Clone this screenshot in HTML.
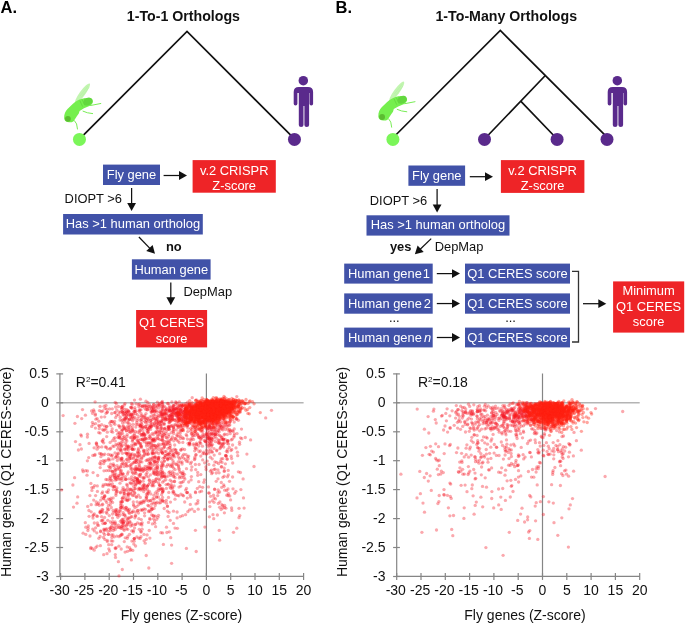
<!DOCTYPE html>
<html><head><meta charset="utf-8"><style>
html,body{margin:0;padding:0;background:#fff;}
svg{display:block;font-family:"Liberation Sans",sans-serif;will-change:transform;}
.d circle{r:1.65px;}
</style></head><body>
<svg width="685" height="624" viewBox="0 0 685 624">
<text x="0.5" y="12.8" font-size="16.5" fill="#000" text-anchor="start" font-weight="bold" >A.</text><text x="335.5" y="12.8" font-size="16.5" fill="#000" text-anchor="start" font-weight="bold" >B.</text><text x="183.4" y="20.8" font-size="14.2" fill="#111" text-anchor="middle" font-weight="bold" >1-To-1 Orthologs</text><text x="506.3" y="20.8" font-size="14.2" fill="#111" text-anchor="middle" font-weight="bold" >1-To-Many Orthologs</text><g stroke="#111" stroke-width="1.7" fill="none" stroke-linejoin="miter"><path d="M79.45 139.05 L187 31.5 L294.45 138.95"/><path d="M392.8 138 L500.3 30.5 L607 137.2 M545.3 75.5 L484.5 139 M520.7 101.2 L557.1 139"/></g><circle cx="294.45" cy="139.4" r="6.5" fill="#5a2a8c"/><circle cx="484.5" cy="139.4" r="6.5" fill="#5a2a8c"/><circle cx="557.1" cy="139.4" r="6.5" fill="#5a2a8c"/><circle cx="607" cy="139.4" r="6.5" fill="#5a2a8c"/><circle cx="79.45" cy="139.4" r="6.5" fill="#7bf659"/><circle cx="392.9" cy="139.4" r="6.5" fill="#7bf659"/><g transform="translate(0,0)" fill="#5a2a8c"><circle cx="303.3" cy="80.7" r="4.75"/><path d="M293.7 92 Q293.7 86.9 298.8 86.9 L308 86.9 Q313.1 86.9 313.1 92 L313.1 103.7 Q313.1 105.5 311.3 105.5 Q309.5 105.5 309.5 103.7 L309.5 93 L309.1 93 L309.1 125 Q309.1 126.9 306.8 126.9 Q304.4 126.9 304.4 125 L304.4 106 L303.5 106 L303.5 125 Q303.5 126.9 301.1 126.9 Q298.8 126.9 298.8 125 L298.8 93 L297.4 93 L297.4 103.7 Q297.4 105.5 295.6 105.5 Q293.7 105.5 293.7 103.7 Z"/></g><g transform="translate(314,0)" fill="#5a2a8c"><circle cx="303.3" cy="80.7" r="4.75"/><path d="M293.7 92 Q293.7 86.9 298.8 86.9 L308 86.9 Q313.1 86.9 313.1 92 L313.1 103.7 Q313.1 105.5 311.3 105.5 Q309.5 105.5 309.5 103.7 L309.5 93 L309.1 93 L309.1 125 Q309.1 126.9 306.8 126.9 Q304.4 126.9 304.4 125 L304.4 106 L303.5 106 L303.5 125 Q303.5 126.9 301.1 126.9 Q298.8 126.9 298.8 125 L298.8 93 L297.4 93 L297.4 103.7 Q297.4 105.5 295.6 105.5 Q293.7 105.5 293.7 103.7 Z"/></g><g transform="translate(0,0)"><ellipse cx="82.5" cy="93.4" rx="12.2" ry="2.8" transform="rotate(-54 82.5 93.4)" fill="#c2f5b0"/><path d="M80 96 L88 86 M81 97.5 L89 87.5" stroke="#b0efa0" stroke-width="0.5"/><path d="M64.1 118.6 C64 114 65.5 111 67.5 109.1 L72.7 104 C75 102 77.5 100.5 79.6 99.6 C82 98.6 84 98 86.5 97.9 C89.5 97.8 92 98.8 92.8 100.9 C93.3 102.6 92 104.6 90 105.7 L84 108.3 L79.6 110.9 L78.8 113.5 L77 116 L73.6 121.2 C72 122.3 70.5 122.5 69.2 122.3 C66.5 122.2 64.3 121 64.1 118.6 Z" fill="#75ef4e"/><ellipse cx="88" cy="101.6" rx="4.9" ry="3.7" transform="rotate(-28 88 101.6)" fill="#63d83f"/><path d="M79.8 100.6 L82.6 106.6 M82.2 99.4 L84.9 105.4 M84.4 98.6 L87 104.2" stroke="#63d43f" stroke-width="0.8" fill="none"/><circle cx="67.9" cy="118.8" r="2.9" fill="#5bbd31"/><path d="M90.5 105.5 L100.8 103.5 M83 111.2 Q87 113.2 92.6 113.6 M74.5 120.6 Q77.3 123 77.5 129" stroke="#78ec55" stroke-width="1" fill="none" stroke-linecap="round"/></g><g transform="translate(314.2,-1.8)"><ellipse cx="82.5" cy="93.4" rx="12.2" ry="2.8" transform="rotate(-54 82.5 93.4)" fill="#c2f5b0"/><path d="M80 96 L88 86 M81 97.5 L89 87.5" stroke="#b0efa0" stroke-width="0.5"/><path d="M64.1 118.6 C64 114 65.5 111 67.5 109.1 L72.7 104 C75 102 77.5 100.5 79.6 99.6 C82 98.6 84 98 86.5 97.9 C89.5 97.8 92 98.8 92.8 100.9 C93.3 102.6 92 104.6 90 105.7 L84 108.3 L79.6 110.9 L78.8 113.5 L77 116 L73.6 121.2 C72 122.3 70.5 122.5 69.2 122.3 C66.5 122.2 64.3 121 64.1 118.6 Z" fill="#75ef4e"/><ellipse cx="88" cy="101.6" rx="4.9" ry="3.7" transform="rotate(-28 88 101.6)" fill="#63d83f"/><path d="M79.8 100.6 L82.6 106.6 M82.2 99.4 L84.9 105.4 M84.4 98.6 L87 104.2" stroke="#63d43f" stroke-width="0.8" fill="none"/><circle cx="67.9" cy="118.8" r="2.9" fill="#5bbd31"/><path d="M90.5 105.5 L100.8 103.5 M83 111.2 Q87 113.2 92.6 113.6 M74.5 120.6 Q77.3 123 77.5 129" stroke="#78ec55" stroke-width="1" fill="none" stroke-linecap="round"/></g><rect x="103" y="164.6" width="57.0" height="20.4" fill="#4152a8"/><text x="131.5" y="179.3" font-size="12.9" fill="#fff" text-anchor="middle" font-weight="normal" >Fly gene</text><line x1="163.6" y1="175.5" x2="180.00" y2="175.50" stroke="#111" stroke-width="1.25"/><path d="M187.00 175.50 L179.00 179.90 L179.00 171.10 Z" fill="#111"/><rect x="192.6" y="160.1" width="83.2" height="32.6" fill="#ee2427"/><text x="234.2" y="174.7" font-size="12.9" fill="#fff" text-anchor="middle" font-weight="normal" >v.2 CRISPR</text><text x="234.2" y="189.7" font-size="12.9" fill="#fff" text-anchor="middle" font-weight="normal" >Z-score</text><text x="64.6" y="203.2" font-size="12.9" fill="#111" text-anchor="start" font-weight="normal" >DIOPT &gt;6</text><line x1="131.6" y1="188" x2="131.60" y2="204.00" stroke="#111" stroke-width="1.25"/><path d="M131.60 211.00 L127.20 203.00 L136.00 203.00 Z" fill="#111"/><rect x="63.1" y="214" width="139.7" height="20.5" fill="#4152a8"/><text x="133" y="228.4" font-size="12.9" fill="#fff" text-anchor="middle" font-weight="normal" >Has &gt;1 human ortholog</text><line x1="138.9" y1="237" x2="150.14" y2="248.66" stroke="#111" stroke-width="1.25"/><path d="M155.00 253.70 L146.28 250.99 L152.62 244.89 Z" fill="#111"/><text x="165.9" y="250.8" font-size="12.9" fill="#111" text-anchor="start" font-weight="bold" >no</text><rect x="131.9" y="259.3" width="78.7" height="20.3" fill="#4152a8"/><text x="171.3" y="273.9" font-size="12.9" fill="#fff" text-anchor="middle" font-weight="normal" >Human gene</text><line x1="170.8" y1="282.4" x2="170.80" y2="298.20" stroke="#111" stroke-width="1.25"/><path d="M170.80 305.20 L166.40 297.20 L175.20 297.20 Z" fill="#111"/><text x="183.4" y="295.6" font-size="12.9" fill="#111" text-anchor="start" font-weight="normal" >DepMap</text><rect x="136.1" y="310" width="71.0" height="37.4" fill="#ee2427"/><text x="171.6" y="327.1" font-size="12.9" fill="#fff" text-anchor="middle" font-weight="normal" >Q1 CERES</text><text x="171.6" y="342.5" font-size="12.9" fill="#fff" text-anchor="middle" font-weight="normal" >score</text><rect x="408.4" y="165.5" width="56.7" height="20.3" fill="#4152a8"/><text x="436.8" y="180.2" font-size="12.9" fill="#fff" text-anchor="middle" font-weight="normal" >Fly gene</text><line x1="469.8" y1="176.7" x2="486.00" y2="176.70" stroke="#111" stroke-width="1.25"/><path d="M493.00 176.70 L485.00 181.10 L485.00 172.30 Z" fill="#111"/><rect x="500.9" y="160.1" width="83.5" height="32.8" fill="#ee2427"/><text x="542.6" y="174.8" font-size="12.9" fill="#fff" text-anchor="middle" font-weight="normal" >v.2 CRISPR</text><text x="542.6" y="189.8" font-size="12.9" fill="#fff" text-anchor="middle" font-weight="normal" >Z-score</text><text x="369.8" y="205.3" font-size="12.9" fill="#111" text-anchor="start" font-weight="normal" >DIOPT &gt;6</text><line x1="437.1" y1="188.9" x2="437.10" y2="205.40" stroke="#111" stroke-width="1.25"/><path d="M437.10 212.40 L432.70 204.40 L441.50 204.40 Z" fill="#111"/><rect x="366.5" y="215.3" width="143.0" height="20.3" fill="#4152a8"/><text x="438" y="228.9" font-size="12.9" fill="#fff" text-anchor="middle" font-weight="normal" >Has &gt;1 human ortholog</text><text x="389.9" y="250.9" font-size="12.9" fill="#111" text-anchor="start" font-weight="bold" >yes</text><line x1="431.2" y1="238.6" x2="419.94" y2="249.44" stroke="#111" stroke-width="1.25"/><path d="M414.90 254.30 L417.61 245.58 L423.71 251.92 Z" fill="#111"/><text x="434.7" y="250.9" font-size="12.9" fill="#111" text-anchor="start" font-weight="normal" >DepMap</text><rect x="344.2" y="263.6" width="88.5" height="20.0" fill="#4152a8"/><text x="348.0" y="278.20000000000005" font-size="12.9" fill="#fff" text-anchor="start" font-weight="normal" >Human gene<tspan dx="1.0">1</tspan></text><line x1="436.8" y1="273.6" x2="453.00" y2="273.60" stroke="#111" stroke-width="1.25"/><path d="M460.00 273.60 L452.00 278.00 L452.00 269.20 Z" fill="#111"/><rect x="465" y="263.6" width="105.0" height="20.0" fill="#4152a8"/><text x="517.5" y="278.20000000000005" font-size="12.9" fill="#fff" text-anchor="middle" font-weight="normal" >Q1 CERES score</text><rect x="344.2" y="293.4" width="88.5" height="20.3" fill="#4152a8"/><text x="348.0" y="308.15" font-size="12.9" fill="#fff" text-anchor="start" font-weight="normal" >Human gene<tspan dx="2.0">2</tspan></text><line x1="436.8" y1="303.54999999999995" x2="453.00" y2="303.55" stroke="#111" stroke-width="1.25"/><path d="M460.00 303.55 L452.00 307.95 L452.00 299.15 Z" fill="#111"/><rect x="465" y="293.4" width="105.0" height="20.3" fill="#4152a8"/><text x="517.5" y="308.15" font-size="12.9" fill="#fff" text-anchor="middle" font-weight="normal" >Q1 CERES score</text><rect x="344.2" y="327.6" width="88.5" height="19.8" fill="#4152a8"/><text x="348.0" y="342.1" font-size="12.9" fill="#fff" text-anchor="start" font-weight="normal" >Human gene<tspan dx="2.2" font-style="italic">n</tspan></text><line x1="436.8" y1="337.5" x2="453.00" y2="337.50" stroke="#111" stroke-width="1.25"/><path d="M460.00 337.50 L452.00 341.90 L452.00 333.10 Z" fill="#111"/><rect x="465" y="327.6" width="105.0" height="19.8" fill="#4152a8"/><text x="517.5" y="342.1" font-size="12.9" fill="#fff" text-anchor="middle" font-weight="normal" >Q1 CERES score</text><text x="394.3" y="321.5" font-size="12.9" fill="#111" text-anchor="middle" font-weight="normal" >...</text><text x="510.5" y="321.5" font-size="12.9" fill="#111" text-anchor="middle" font-weight="normal" >...</text><path d="M572 271.4 L578.5 271.4 L578.5 342 L572 342" stroke="#333" stroke-width="1.3" fill="none"/><line x1="583" y1="303.7" x2="599.30" y2="303.70" stroke="#111" stroke-width="1.25"/><path d="M606.30 303.70 L598.30 308.10 L598.30 299.30 Z" fill="#111"/><rect x="613.1" y="281.4" width="71.1" height="51.2" fill="#ee2427"/><text x="648.6" y="295.3" font-size="12.9" fill="#fff" text-anchor="middle" font-weight="normal" >Minimum</text><text x="648.6" y="310.7" font-size="12.9" fill="#fff" text-anchor="middle" font-weight="normal" >Q1 CERES</text><text x="648.6" y="325.6" font-size="12.9" fill="#fff" text-anchor="middle" font-weight="normal" >score</text><path d="M59.9 402.8 L303.6 402.8" stroke="#b4b4b4" stroke-width="1.6" fill="none"/><g stroke="#858585" stroke-width="1.2" fill="none"><path d="M59.9 373.5 L59.9 576.3 L303.6 576.3"/><path d="M206.4 373.5 L206.4 576.3"/><path d="M56.3 373.9 L63.1 373.9"/><path d="M56.3 402.8 L63.1 402.8"/><path d="M56.3 431.8 L63.1 431.8"/><path d="M56.3 460.7 L63.1 460.7"/><path d="M56.3 489.6 L63.1 489.6"/><path d="M56.3 518.6 L63.1 518.6"/><path d="M56.3 547.5 L63.1 547.5"/><path d="M56.3 576.5 L63.1 576.5"/><path d="M60.6 573.0999999999999 L60.6 579.9"/><path d="M84.9 573.0999999999999 L84.9 579.9"/><path d="M109.2 573.0999999999999 L109.2 579.9"/><path d="M133.5 573.0999999999999 L133.5 579.9"/><path d="M157.8 573.0999999999999 L157.8 579.9"/><path d="M182.1 573.0999999999999 L182.1 579.9"/><path d="M206.4 573.0999999999999 L206.4 579.9"/><path d="M230.7 573.0999999999999 L230.7 579.9"/><path d="M255.0 573.0999999999999 L255.0 579.9"/><path d="M279.3 573.0999999999999 L279.3 579.9"/><path d="M303.6 573.0999999999999 L303.6 579.9"/></g><text x="48.7" y="378.0" font-size="14" fill="#111" text-anchor="end" font-weight="normal" >0.5</text><text x="48.7" y="406.9" font-size="14" fill="#111" text-anchor="end" font-weight="normal" >0</text><text x="48.7" y="435.9" font-size="14" fill="#111" text-anchor="end" font-weight="normal" >-0.5</text><text x="48.7" y="464.8" font-size="14" fill="#111" text-anchor="end" font-weight="normal" >-1</text><text x="48.7" y="493.8" font-size="14" fill="#111" text-anchor="end" font-weight="normal" >-1.5</text><text x="48.7" y="522.7" font-size="14" fill="#111" text-anchor="end" font-weight="normal" >-2</text><text x="48.7" y="551.6" font-size="14" fill="#111" text-anchor="end" font-weight="normal" >-2.5</text><text x="48.7" y="580.6" font-size="14" fill="#111" text-anchor="end" font-weight="normal" >-3</text><text x="59.7" y="595.4" font-size="14" fill="#111" text-anchor="middle" font-weight="normal" >-30</text><text x="84.0" y="595.4" font-size="14" fill="#111" text-anchor="middle" font-weight="normal" >-25</text><text x="108.3" y="595.4" font-size="14" fill="#111" text-anchor="middle" font-weight="normal" >-20</text><text x="132.6" y="595.4" font-size="14" fill="#111" text-anchor="middle" font-weight="normal" >-15</text><text x="156.9" y="595.4" font-size="14" fill="#111" text-anchor="middle" font-weight="normal" >-10</text><text x="181.2" y="595.4" font-size="14" fill="#111" text-anchor="middle" font-weight="normal" >-5</text><text x="206.4" y="595.4" font-size="14" fill="#111" text-anchor="middle" font-weight="normal" >0</text><text x="230.7" y="595.4" font-size="14" fill="#111" text-anchor="middle" font-weight="normal" >5</text><text x="255.0" y="595.4" font-size="14" fill="#111" text-anchor="middle" font-weight="normal" >10</text><text x="279.3" y="595.4" font-size="14" fill="#111" text-anchor="middle" font-weight="normal" >15</text><text x="303.6" y="595.4" font-size="14" fill="#111" text-anchor="middle" font-weight="normal" >20</text><text x="120.8" y="620.3" font-size="14" fill="#111" text-anchor="start" font-weight="normal" >Fly genes (Z-score)</text><path d="M396.7 402.8 L639.7 402.8" stroke="#b4b4b4" stroke-width="1.6" fill="none"/><g stroke="#858585" stroke-width="1.2" fill="none"><path d="M396.7 373.5 L396.7 576.3 L639.7 576.3"/><path d="M542.5 373.5 L542.5 576.3"/><path d="M393.09999999999997 373.9 L399.9 373.9"/><path d="M393.09999999999997 402.8 L399.9 402.8"/><path d="M393.09999999999997 431.8 L399.9 431.8"/><path d="M393.09999999999997 460.7 L399.9 460.7"/><path d="M393.09999999999997 489.6 L399.9 489.6"/><path d="M393.09999999999997 518.6 L399.9 518.6"/><path d="M393.09999999999997 547.5 L399.9 547.5"/><path d="M393.09999999999997 576.5 L399.9 576.5"/><path d="M396.7 573.0999999999999 L396.7 579.9"/><path d="M421.0 573.0999999999999 L421.0 579.9"/><path d="M445.3 573.0999999999999 L445.3 579.9"/><path d="M469.6 573.0999999999999 L469.6 579.9"/><path d="M493.9 573.0999999999999 L493.9 579.9"/><path d="M518.2 573.0999999999999 L518.2 579.9"/><path d="M542.5 573.0999999999999 L542.5 579.9"/><path d="M566.8 573.0999999999999 L566.8 579.9"/><path d="M591.1 573.0999999999999 L591.1 579.9"/><path d="M615.4 573.0999999999999 L615.4 579.9"/><path d="M639.7 573.0999999999999 L639.7 579.9"/></g><text x="385.5" y="378.0" font-size="14" fill="#111" text-anchor="end" font-weight="normal" >0.5</text><text x="385.5" y="406.9" font-size="14" fill="#111" text-anchor="end" font-weight="normal" >0</text><text x="385.5" y="435.9" font-size="14" fill="#111" text-anchor="end" font-weight="normal" >-0.5</text><text x="385.5" y="464.8" font-size="14" fill="#111" text-anchor="end" font-weight="normal" >-1</text><text x="385.5" y="493.8" font-size="14" fill="#111" text-anchor="end" font-weight="normal" >-1.5</text><text x="385.5" y="522.7" font-size="14" fill="#111" text-anchor="end" font-weight="normal" >-2</text><text x="385.5" y="551.6" font-size="14" fill="#111" text-anchor="end" font-weight="normal" >-2.5</text><text x="385.5" y="580.6" font-size="14" fill="#111" text-anchor="end" font-weight="normal" >-3</text><text x="395.8" y="595.4" font-size="14" fill="#111" text-anchor="middle" font-weight="normal" >-30</text><text x="420.1" y="595.4" font-size="14" fill="#111" text-anchor="middle" font-weight="normal" >-25</text><text x="444.4" y="595.4" font-size="14" fill="#111" text-anchor="middle" font-weight="normal" >-20</text><text x="468.7" y="595.4" font-size="14" fill="#111" text-anchor="middle" font-weight="normal" >-15</text><text x="493.0" y="595.4" font-size="14" fill="#111" text-anchor="middle" font-weight="normal" >-10</text><text x="517.3" y="595.4" font-size="14" fill="#111" text-anchor="middle" font-weight="normal" >-5</text><text x="542.5" y="595.4" font-size="14" fill="#111" text-anchor="middle" font-weight="normal" >0</text><text x="566.8" y="595.4" font-size="14" fill="#111" text-anchor="middle" font-weight="normal" >5</text><text x="591.1" y="595.4" font-size="14" fill="#111" text-anchor="middle" font-weight="normal" >10</text><text x="615.4" y="595.4" font-size="14" fill="#111" text-anchor="middle" font-weight="normal" >15</text><text x="639.7" y="595.4" font-size="14" fill="#111" text-anchor="middle" font-weight="normal" >20</text><text x="464.3" y="620.3" font-size="14" fill="#111" text-anchor="start" font-weight="normal" >Fly genes (Z-score)</text><g class="d" fill="#f51928" fill-opacity="0.38"><circle cx="209.6" cy="417.5" r="1.65"/><circle cx="159.8" cy="422.6" r="1.65"/><circle cx="188.9" cy="405.2" r="1.65"/><circle cx="175.1" cy="408.6" r="1.65"/><circle cx="188.7" cy="404.3" r="1.65"/><circle cx="196.3" cy="408.6" r="1.65"/><circle cx="175.9" cy="413.3" r="1.65"/><circle cx="198.5" cy="410.1" r="1.65"/><circle cx="204.7" cy="414.7" r="1.65"/><circle cx="199.5" cy="412.2" r="1.65"/><circle cx="191.6" cy="421.0" r="1.65"/><circle cx="195.5" cy="416.3" r="1.65"/><circle cx="202.7" cy="406.1" r="1.65"/><circle cx="176.3" cy="402.6" r="1.65"/><circle cx="207.5" cy="401.0" r="1.65"/><circle cx="203.6" cy="413.1" r="1.65"/><circle cx="206.8" cy="418.2" r="1.65"/><circle cx="181.1" cy="409.0" r="1.65"/><circle cx="162.5" cy="404.0" r="1.65"/><circle cx="194.9" cy="411.7" r="1.65"/><circle cx="154.8" cy="414.8" r="1.65"/><circle cx="197.5" cy="407.2" r="1.65"/><circle cx="172.8" cy="418.5" r="1.65"/><circle cx="186.2" cy="417.7" r="1.65"/><circle cx="162.2" cy="402.7" r="1.65"/><circle cx="185.8" cy="408.9" r="1.65"/><circle cx="182.1" cy="405.5" r="1.65"/><circle cx="199.7" cy="412.0" r="1.65"/><circle cx="179.3" cy="413.4" r="1.65"/><circle cx="198.7" cy="410.3" r="1.65"/><circle cx="168.3" cy="403.4" r="1.65"/><circle cx="186.0" cy="408.2" r="1.65"/><circle cx="206.3" cy="408.1" r="1.65"/><circle cx="197.5" cy="411.5" r="1.65"/><circle cx="194.3" cy="405.9" r="1.65"/><circle cx="191.3" cy="411.6" r="1.65"/><circle cx="183.1" cy="412.6" r="1.65"/><circle cx="189.2" cy="413.8" r="1.65"/><circle cx="193.6" cy="413.7" r="1.65"/><circle cx="200.0" cy="410.4" r="1.65"/><circle cx="176.2" cy="408.6" r="1.65"/><circle cx="175.5" cy="411.9" r="1.65"/><circle cx="205.7" cy="414.3" r="1.65"/><circle cx="172.2" cy="416.7" r="1.65"/><circle cx="201.7" cy="417.6" r="1.65"/><circle cx="209.7" cy="407.6" r="1.65"/><circle cx="183.6" cy="404.7" r="1.65"/><circle cx="185.3" cy="412.8" r="1.65"/><circle cx="167.1" cy="419.4" r="1.65"/><circle cx="188.8" cy="422.8" r="1.65"/><circle cx="162.6" cy="420.1" r="1.65"/><circle cx="184.0" cy="419.3" r="1.65"/><circle cx="186.6" cy="417.9" r="1.65"/><circle cx="176.2" cy="415.4" r="1.65"/><circle cx="190.4" cy="407.7" r="1.65"/><circle cx="186.6" cy="414.0" r="1.65"/><circle cx="172.7" cy="414.1" r="1.65"/><circle cx="171.1" cy="416.3" r="1.65"/><circle cx="219.7" cy="406.6" r="1.65"/><circle cx="168.7" cy="411.7" r="1.65"/><circle cx="188.6" cy="412.0" r="1.65"/><circle cx="174.0" cy="409.8" r="1.65"/><circle cx="185.6" cy="409.0" r="1.65"/><circle cx="199.9" cy="415.0" r="1.65"/><circle cx="186.5" cy="414.6" r="1.65"/><circle cx="171.2" cy="414.9" r="1.65"/><circle cx="186.7" cy="415.1" r="1.65"/><circle cx="169.8" cy="416.0" r="1.65"/><circle cx="185.8" cy="403.7" r="1.65"/><circle cx="202.4" cy="420.8" r="1.65"/><circle cx="179.4" cy="408.4" r="1.65"/><circle cx="177.9" cy="412.6" r="1.65"/><circle cx="170.4" cy="410.8" r="1.65"/><circle cx="182.0" cy="416.7" r="1.65"/><circle cx="191.5" cy="405.8" r="1.65"/><circle cx="191.0" cy="418.2" r="1.65"/><circle cx="187.9" cy="407.2" r="1.65"/><circle cx="200.1" cy="404.8" r="1.65"/><circle cx="197.6" cy="412.7" r="1.65"/><circle cx="191.5" cy="407.7" r="1.65"/><circle cx="185.8" cy="409.8" r="1.65"/><circle cx="169.4" cy="409.9" r="1.65"/><circle cx="177.8" cy="412.5" r="1.65"/><circle cx="208.7" cy="410.4" r="1.65"/><circle cx="188.6" cy="415.2" r="1.65"/><circle cx="162.8" cy="418.5" r="1.65"/><circle cx="179.3" cy="412.9" r="1.65"/><circle cx="158.2" cy="415.5" r="1.65"/><circle cx="184.1" cy="416.3" r="1.65"/><circle cx="178.7" cy="411.0" r="1.65"/><circle cx="201.6" cy="409.7" r="1.65"/><circle cx="205.9" cy="419.5" r="1.65"/><circle cx="202.6" cy="412.7" r="1.65"/><circle cx="197.8" cy="409.2" r="1.65"/><circle cx="207.1" cy="414.4" r="1.65"/><circle cx="199.2" cy="409.4" r="1.65"/><circle cx="189.8" cy="415.0" r="1.65"/><circle cx="189.1" cy="409.5" r="1.65"/><circle cx="184.0" cy="409.7" r="1.65"/><circle cx="164.4" cy="406.2" r="1.65"/><circle cx="180.7" cy="410.2" r="1.65"/><circle cx="175.2" cy="413.6" r="1.65"/><circle cx="175.1" cy="404.4" r="1.65"/><circle cx="172.5" cy="415.8" r="1.65"/><circle cx="181.8" cy="418.5" r="1.65"/><circle cx="169.6" cy="410.4" r="1.65"/><circle cx="188.4" cy="407.3" r="1.65"/><circle cx="190.7" cy="416.5" r="1.65"/><circle cx="169.3" cy="405.7" r="1.65"/><circle cx="152.8" cy="410.7" r="1.65"/><circle cx="194.0" cy="404.9" r="1.65"/><circle cx="203.8" cy="405.5" r="1.65"/><circle cx="211.7" cy="421.9" r="1.65"/><circle cx="180.0" cy="409.6" r="1.65"/><circle cx="151.8" cy="415.9" r="1.65"/><circle cx="201.1" cy="415.4" r="1.65"/><circle cx="198.7" cy="407.9" r="1.65"/><circle cx="201.4" cy="406.8" r="1.65"/><circle cx="192.2" cy="407.6" r="1.65"/><circle cx="171.9" cy="401.9" r="1.65"/><circle cx="181.2" cy="416.1" r="1.65"/><circle cx="191.1" cy="419.4" r="1.65"/><circle cx="201.8" cy="416.7" r="1.65"/><circle cx="191.3" cy="409.8" r="1.65"/><circle cx="177.3" cy="413.0" r="1.65"/><circle cx="191.5" cy="414.1" r="1.65"/><circle cx="184.6" cy="411.0" r="1.65"/><circle cx="167.0" cy="413.1" r="1.65"/><circle cx="179.3" cy="401.8" r="1.65"/><circle cx="187.5" cy="408.7" r="1.65"/><circle cx="189.0" cy="411.1" r="1.65"/><circle cx="186.9" cy="411.7" r="1.65"/><circle cx="155.4" cy="410.8" r="1.65"/><circle cx="176.7" cy="412.7" r="1.65"/><circle cx="171.9" cy="416.3" r="1.65"/><circle cx="185.7" cy="413.7" r="1.65"/><circle cx="186.4" cy="409.7" r="1.65"/><circle cx="185.5" cy="410.4" r="1.65"/><circle cx="177.1" cy="412.3" r="1.65"/><circle cx="194.7" cy="412.1" r="1.65"/><circle cx="194.1" cy="410.7" r="1.65"/><circle cx="200.3" cy="416.6" r="1.65"/><circle cx="189.7" cy="406.2" r="1.65"/><circle cx="174.6" cy="410.2" r="1.65"/><circle cx="190.6" cy="411.7" r="1.65"/><circle cx="199.0" cy="409.1" r="1.65"/><circle cx="182.2" cy="406.3" r="1.65"/><circle cx="163.0" cy="410.2" r="1.65"/><circle cx="184.8" cy="411.2" r="1.65"/><circle cx="156.5" cy="410.7" r="1.65"/><circle cx="177.1" cy="407.2" r="1.65"/><circle cx="184.3" cy="414.1" r="1.65"/><circle cx="189.4" cy="419.7" r="1.65"/><circle cx="169.8" cy="408.1" r="1.65"/><circle cx="180.2" cy="411.0" r="1.65"/><circle cx="152.1" cy="419.4" r="1.65"/><circle cx="181.7" cy="404.4" r="1.65"/><circle cx="179.9" cy="405.8" r="1.65"/><circle cx="175.9" cy="414.5" r="1.65"/><circle cx="181.6" cy="411.4" r="1.65"/><circle cx="154.6" cy="412.0" r="1.65"/><circle cx="169.7" cy="415.9" r="1.65"/><circle cx="179.2" cy="414.3" r="1.65"/><circle cx="182.3" cy="405.8" r="1.65"/><circle cx="173.8" cy="412.6" r="1.65"/><circle cx="179.1" cy="414.4" r="1.65"/><circle cx="192.4" cy="407.6" r="1.65"/><circle cx="182.3" cy="410.9" r="1.65"/><circle cx="201.9" cy="412.4" r="1.65"/><circle cx="200.1" cy="411.5" r="1.65"/><circle cx="177.0" cy="409.3" r="1.65"/><circle cx="203.0" cy="410.5" r="1.65"/><circle cx="205.7" cy="411.5" r="1.65"/><circle cx="174.0" cy="409.9" r="1.65"/><circle cx="177.7" cy="415.4" r="1.65"/><circle cx="196.1" cy="407.3" r="1.65"/><circle cx="162.1" cy="414.0" r="1.65"/><circle cx="170.9" cy="407.3" r="1.65"/><circle cx="191.2" cy="405.6" r="1.65"/><circle cx="185.4" cy="408.0" r="1.65"/><circle cx="195.8" cy="411.3" r="1.65"/><circle cx="198.5" cy="421.3" r="1.65"/><circle cx="200.3" cy="418.7" r="1.65"/><circle cx="180.5" cy="409.7" r="1.65"/><circle cx="187.5" cy="419.0" r="1.65"/><circle cx="185.9" cy="423.7" r="1.65"/><circle cx="181.8" cy="413.9" r="1.65"/><circle cx="206.6" cy="413.0" r="1.65"/><circle cx="174.2" cy="415.4" r="1.65"/><circle cx="172.5" cy="411.5" r="1.65"/><circle cx="187.7" cy="402.2" r="1.65"/><circle cx="166.1" cy="408.1" r="1.65"/><circle cx="164.4" cy="413.1" r="1.65"/><circle cx="200.7" cy="404.5" r="1.65"/><circle cx="196.8" cy="414.7" r="1.65"/><circle cx="198.3" cy="402.8" r="1.65"/><circle cx="164.9" cy="414.5" r="1.65"/><circle cx="186.0" cy="410.0" r="1.65"/><circle cx="189.4" cy="412.5" r="1.65"/><circle cx="175.4" cy="408.4" r="1.65"/><circle cx="174.4" cy="412.3" r="1.65"/><circle cx="191.6" cy="408.8" r="1.65"/><circle cx="197.5" cy="406.1" r="1.65"/><circle cx="166.0" cy="410.0" r="1.65"/><circle cx="188.2" cy="412.5" r="1.65"/><circle cx="185.2" cy="409.0" r="1.65"/><circle cx="214.1" cy="413.8" r="1.65"/><circle cx="200.5" cy="406.3" r="1.65"/><circle cx="189.0" cy="412.1" r="1.65"/><circle cx="193.1" cy="410.1" r="1.65"/><circle cx="178.0" cy="406.0" r="1.65"/><circle cx="188.2" cy="404.7" r="1.65"/><circle cx="167.1" cy="415.5" r="1.65"/><circle cx="141.0" cy="413.4" r="1.65"/><circle cx="169.0" cy="407.9" r="1.65"/><circle cx="199.8" cy="410.6" r="1.65"/><circle cx="198.3" cy="415.2" r="1.65"/><circle cx="167.5" cy="403.4" r="1.65"/><circle cx="199.5" cy="407.0" r="1.65"/><circle cx="180.4" cy="405.4" r="1.65"/><circle cx="147.0" cy="418.2" r="1.65"/><circle cx="197.4" cy="407.0" r="1.65"/><circle cx="189.9" cy="412.3" r="1.65"/><circle cx="175.7" cy="401.9" r="1.65"/><circle cx="201.5" cy="409.3" r="1.65"/><circle cx="170.9" cy="417.8" r="1.65"/><circle cx="183.6" cy="417.1" r="1.65"/><circle cx="197.8" cy="407.2" r="1.65"/><circle cx="195.6" cy="412.5" r="1.65"/><circle cx="176.7" cy="408.8" r="1.65"/><circle cx="155.1" cy="420.1" r="1.65"/><circle cx="170.4" cy="419.2" r="1.65"/><circle cx="185.1" cy="417.9" r="1.65"/><circle cx="194.5" cy="412.0" r="1.65"/><circle cx="161.0" cy="425.5" r="1.65"/><circle cx="216.0" cy="424.3" r="1.65"/><circle cx="215.2" cy="436.3" r="1.65"/><circle cx="205.0" cy="425.8" r="1.65"/><circle cx="217.2" cy="434.6" r="1.65"/><circle cx="208.0" cy="439.9" r="1.65"/><circle cx="203.9" cy="404.8" r="1.65"/><circle cx="223.2" cy="401.0" r="1.65"/><circle cx="194.8" cy="457.2" r="1.65"/><circle cx="219.2" cy="435.2" r="1.65"/><circle cx="210.0" cy="441.9" r="1.65"/><circle cx="212.5" cy="472.6" r="1.65"/><circle cx="245.3" cy="437.5" r="1.65"/><circle cx="213.2" cy="417.5" r="1.65"/><circle cx="213.6" cy="427.0" r="1.65"/><circle cx="224.4" cy="420.0" r="1.65"/><circle cx="222.5" cy="414.7" r="1.65"/><circle cx="229.7" cy="429.4" r="1.65"/><circle cx="223.1" cy="439.3" r="1.65"/><circle cx="226.4" cy="451.3" r="1.65"/><circle cx="199.8" cy="442.9" r="1.65"/><circle cx="222.9" cy="439.9" r="1.65"/><circle cx="212.9" cy="411.2" r="1.65"/><circle cx="236.8" cy="396.6" r="1.65"/><circle cx="230.6" cy="419.9" r="1.65"/><circle cx="223.7" cy="447.0" r="1.65"/><circle cx="219.2" cy="431.8" r="1.65"/><circle cx="230.2" cy="421.6" r="1.65"/><circle cx="206.1" cy="434.7" r="1.65"/><circle cx="224.0" cy="427.4" r="1.65"/><circle cx="209.9" cy="416.9" r="1.65"/><circle cx="194.5" cy="421.6" r="1.65"/><circle cx="206.7" cy="453.7" r="1.65"/><circle cx="212.8" cy="413.3" r="1.65"/><circle cx="197.6" cy="433.9" r="1.65"/><circle cx="216.5" cy="438.3" r="1.65"/><circle cx="211.4" cy="433.3" r="1.65"/><circle cx="218.8" cy="408.8" r="1.65"/><circle cx="183.1" cy="427.6" r="1.65"/><circle cx="227.0" cy="458.8" r="1.65"/><circle cx="223.8" cy="416.6" r="1.65"/><circle cx="211.3" cy="427.7" r="1.65"/><circle cx="209.0" cy="451.0" r="1.65"/><circle cx="209.6" cy="442.3" r="1.65"/><circle cx="227.5" cy="441.6" r="1.65"/><circle cx="224.2" cy="417.8" r="1.65"/><circle cx="230.6" cy="431.0" r="1.65"/><circle cx="222.4" cy="443.9" r="1.65"/><circle cx="203.9" cy="406.8" r="1.65"/><circle cx="229.2" cy="447.5" r="1.65"/><circle cx="205.8" cy="405.0" r="1.65"/><circle cx="219.9" cy="413.3" r="1.65"/><circle cx="234.4" cy="433.8" r="1.65"/><circle cx="227.4" cy="449.7" r="1.65"/><circle cx="215.9" cy="419.1" r="1.65"/><circle cx="233.1" cy="431.3" r="1.65"/><circle cx="222.8" cy="444.5" r="1.65"/><circle cx="227.5" cy="451.9" r="1.65"/><circle cx="212.0" cy="433.8" r="1.65"/><circle cx="205.0" cy="441.0" r="1.65"/><circle cx="212.5" cy="416.8" r="1.65"/><circle cx="223.9" cy="426.3" r="1.65"/><circle cx="220.6" cy="425.6" r="1.65"/><circle cx="204.7" cy="436.8" r="1.65"/><circle cx="213.5" cy="419.9" r="1.65"/><circle cx="220.0" cy="423.1" r="1.65"/><circle cx="202.0" cy="407.1" r="1.65"/><circle cx="208.5" cy="447.0" r="1.65"/><circle cx="216.5" cy="427.6" r="1.65"/><circle cx="213.7" cy="409.0" r="1.65"/><circle cx="209.4" cy="439.3" r="1.65"/><circle cx="200.0" cy="411.7" r="1.65"/><circle cx="211.6" cy="438.1" r="1.65"/><circle cx="194.0" cy="445.2" r="1.65"/><circle cx="209.5" cy="426.1" r="1.65"/><circle cx="226.9" cy="414.8" r="1.65"/><circle cx="206.8" cy="428.8" r="1.65"/><circle cx="234.2" cy="422.1" r="1.65"/><circle cx="226.0" cy="411.8" r="1.65"/><circle cx="222.9" cy="429.9" r="1.65"/><circle cx="246.9" cy="454.1" r="1.65"/><circle cx="219.4" cy="420.6" r="1.65"/><circle cx="218.2" cy="430.7" r="1.65"/><circle cx="212.2" cy="413.7" r="1.65"/><circle cx="195.3" cy="448.5" r="1.65"/><circle cx="199.9" cy="441.8" r="1.65"/><circle cx="210.1" cy="425.5" r="1.65"/><circle cx="228.6" cy="444.0" r="1.65"/><circle cx="217.1" cy="398.7" r="1.65"/><circle cx="226.1" cy="455.7" r="1.65"/><circle cx="225.7" cy="429.5" r="1.65"/><circle cx="217.4" cy="425.4" r="1.65"/><circle cx="226.9" cy="426.3" r="1.65"/><circle cx="228.9" cy="425.3" r="1.65"/><circle cx="227.6" cy="422.1" r="1.65"/><circle cx="206.4" cy="454.0" r="1.65"/><circle cx="239.6" cy="444.3" r="1.65"/><circle cx="203.6" cy="414.8" r="1.65"/><circle cx="230.2" cy="433.7" r="1.65"/><circle cx="232.3" cy="439.2" r="1.65"/><circle cx="212.1" cy="452.2" r="1.65"/><circle cx="241.5" cy="429.1" r="1.65"/><circle cx="225.6" cy="455.7" r="1.65"/><circle cx="222.8" cy="458.7" r="1.65"/><circle cx="208.8" cy="420.1" r="1.65"/><circle cx="234.4" cy="405.5" r="1.65"/><circle cx="216.7" cy="450.8" r="1.65"/><circle cx="221.7" cy="437.4" r="1.65"/><circle cx="226.0" cy="422.8" r="1.65"/><circle cx="238.4" cy="420.3" r="1.65"/><circle cx="215.6" cy="423.0" r="1.65"/><circle cx="213.7" cy="437.5" r="1.65"/><circle cx="210.2" cy="434.1" r="1.65"/><circle cx="209.7" cy="429.8" r="1.65"/><circle cx="199.1" cy="437.8" r="1.65"/><circle cx="224.2" cy="442.7" r="1.65"/><circle cx="204.6" cy="402.7" r="1.65"/><circle cx="210.7" cy="403.4" r="1.65"/><circle cx="216.1" cy="422.9" r="1.65"/><circle cx="227.6" cy="440.7" r="1.65"/><circle cx="207.4" cy="429.4" r="1.65"/><circle cx="216.2" cy="418.9" r="1.65"/><circle cx="211.2" cy="441.0" r="1.65"/><circle cx="219.7" cy="442.4" r="1.65"/><circle cx="205.7" cy="426.3" r="1.65"/><circle cx="212.0" cy="451.7" r="1.65"/><circle cx="227.2" cy="434.5" r="1.65"/><circle cx="189.5" cy="443.0" r="1.65"/><circle cx="228.7" cy="431.1" r="1.65"/><circle cx="208.4" cy="427.8" r="1.65"/><circle cx="208.4" cy="436.8" r="1.65"/><circle cx="221.1" cy="446.2" r="1.65"/><circle cx="238.4" cy="471.8" r="1.65"/><circle cx="197.6" cy="417.4" r="1.65"/><circle cx="220.5" cy="402.0" r="1.65"/><circle cx="224.4" cy="413.6" r="1.65"/><circle cx="224.8" cy="434.1" r="1.65"/><circle cx="194.8" cy="435.6" r="1.65"/><circle cx="221.9" cy="427.2" r="1.65"/><circle cx="205.5" cy="416.3" r="1.65"/><circle cx="211.5" cy="446.5" r="1.65"/><circle cx="217.5" cy="432.1" r="1.65"/><circle cx="202.4" cy="446.2" r="1.65"/><circle cx="218.6" cy="403.6" r="1.65"/><circle cx="186.5" cy="468.7" r="1.65"/><circle cx="208.0" cy="438.0" r="1.65"/><circle cx="226.3" cy="456.5" r="1.65"/><circle cx="219.9" cy="425.9" r="1.65"/><circle cx="227.5" cy="440.8" r="1.65"/><circle cx="206.9" cy="434.8" r="1.65"/><circle cx="210.3" cy="438.9" r="1.65"/><circle cx="210.7" cy="419.7" r="1.65"/><circle cx="213.7" cy="433.9" r="1.65"/><circle cx="224.1" cy="435.0" r="1.65"/><circle cx="219.7" cy="453.7" r="1.65"/><circle cx="218.0" cy="430.0" r="1.65"/><circle cx="209.3" cy="439.1" r="1.65"/><circle cx="206.9" cy="412.5" r="1.65"/><circle cx="215.3" cy="441.5" r="1.65"/><circle cx="209.2" cy="445.5" r="1.65"/><circle cx="219.5" cy="428.6" r="1.65"/><circle cx="207.1" cy="442.2" r="1.65"/><circle cx="219.9" cy="448.7" r="1.65"/><circle cx="234.2" cy="429.0" r="1.65"/><circle cx="210.1" cy="427.3" r="1.65"/><circle cx="194.8" cy="422.6" r="1.65"/><circle cx="209.4" cy="416.4" r="1.65"/><circle cx="227.2" cy="443.3" r="1.65"/><circle cx="234.2" cy="435.7" r="1.65"/><circle cx="213.2" cy="414.8" r="1.65"/><circle cx="228.1" cy="440.8" r="1.65"/><circle cx="218.8" cy="440.2" r="1.65"/><circle cx="205.5" cy="441.6" r="1.65"/><circle cx="221.2" cy="459.0" r="1.65"/><circle cx="219.4" cy="443.6" r="1.65"/><circle cx="213.1" cy="412.4" r="1.65"/><circle cx="221.7" cy="437.1" r="1.65"/><circle cx="237.7" cy="455.7" r="1.65"/><circle cx="216.9" cy="416.8" r="1.65"/><circle cx="200.5" cy="424.1" r="1.65"/><circle cx="213.4" cy="406.3" r="1.65"/><circle cx="226.8" cy="422.9" r="1.65"/><circle cx="198.3" cy="435.7" r="1.65"/><circle cx="236.2" cy="419.1" r="1.65"/><circle cx="207.8" cy="434.7" r="1.65"/><circle cx="194.9" cy="429.7" r="1.65"/><circle cx="204.3" cy="453.7" r="1.65"/><circle cx="204.3" cy="419.7" r="1.65"/><circle cx="197.7" cy="475.3" r="1.65"/><circle cx="241.8" cy="438.7" r="1.65"/><circle cx="210.6" cy="449.6" r="1.65"/><circle cx="230.0" cy="421.2" r="1.65"/><circle cx="225.2" cy="424.4" r="1.65"/><circle cx="227.0" cy="425.2" r="1.65"/><circle cx="214.0" cy="416.0" r="1.65"/><circle cx="219.0" cy="440.1" r="1.65"/><circle cx="220.4" cy="461.5" r="1.65"/><circle cx="217.9" cy="442.2" r="1.65"/><circle cx="198.1" cy="422.8" r="1.65"/><circle cx="240.1" cy="412.3" r="1.65"/><circle cx="223.5" cy="443.7" r="1.65"/><circle cx="199.2" cy="437.0" r="1.65"/><circle cx="207.9" cy="428.1" r="1.65"/><circle cx="237.0" cy="418.8" r="1.65"/><circle cx="220.5" cy="425.6" r="1.65"/><circle cx="197.8" cy="420.4" r="1.65"/><circle cx="218.5" cy="442.9" r="1.65"/><circle cx="215.4" cy="434.7" r="1.65"/><circle cx="223.5" cy="439.2" r="1.65"/><circle cx="229.9" cy="430.9" r="1.65"/><circle cx="210.5" cy="409.7" r="1.65"/><circle cx="214.4" cy="431.5" r="1.65"/><circle cx="203.6" cy="413.2" r="1.65"/><circle cx="216.0" cy="422.9" r="1.65"/><circle cx="212.9" cy="427.1" r="1.65"/><circle cx="200.9" cy="438.6" r="1.65"/><circle cx="200.9" cy="436.4" r="1.65"/><circle cx="225.2" cy="439.5" r="1.65"/><circle cx="215.3" cy="428.5" r="1.65"/><circle cx="236.4" cy="418.9" r="1.65"/><circle cx="196.6" cy="410.8" r="1.65"/><circle cx="195.9" cy="454.7" r="1.65"/><circle cx="218.7" cy="407.5" r="1.65"/><circle cx="206.5" cy="450.5" r="1.65"/><circle cx="212.1" cy="429.3" r="1.65"/><circle cx="232.4" cy="430.7" r="1.65"/><circle cx="211.3" cy="438.4" r="1.65"/><circle cx="217.6" cy="424.5" r="1.65"/><circle cx="204.0" cy="434.9" r="1.65"/><circle cx="224.9" cy="397.6" r="1.65"/><circle cx="221.6" cy="466.6" r="1.65"/><circle cx="208.9" cy="425.7" r="1.65"/><circle cx="211.7" cy="413.8" r="1.65"/><circle cx="212.7" cy="423.8" r="1.65"/><circle cx="221.7" cy="439.2" r="1.65"/><circle cx="209.6" cy="437.6" r="1.65"/><circle cx="202.7" cy="431.4" r="1.65"/><circle cx="207.6" cy="432.1" r="1.65"/><circle cx="202.9" cy="407.2" r="1.65"/><circle cx="222.2" cy="410.7" r="1.65"/><circle cx="208.2" cy="437.8" r="1.65"/><circle cx="221.7" cy="426.7" r="1.65"/><circle cx="219.6" cy="419.5" r="1.65"/><circle cx="221.9" cy="414.2" r="1.65"/><circle cx="209.6" cy="416.4" r="1.65"/><circle cx="173.5" cy="427.0" r="1.65"/><circle cx="212.9" cy="439.6" r="1.65"/><circle cx="215.7" cy="433.5" r="1.65"/><circle cx="220.5" cy="447.7" r="1.65"/><circle cx="208.7" cy="426.2" r="1.65"/><circle cx="209.7" cy="438.6" r="1.65"/><circle cx="222.2" cy="428.9" r="1.65"/><circle cx="209.2" cy="444.2" r="1.65"/><circle cx="222.4" cy="420.2" r="1.65"/><circle cx="223.4" cy="424.0" r="1.65"/><circle cx="212.5" cy="444.6" r="1.65"/><circle cx="215.1" cy="434.5" r="1.65"/><circle cx="208.3" cy="428.3" r="1.65"/><circle cx="250.6" cy="439.9" r="1.65"/><circle cx="211.7" cy="421.2" r="1.65"/><circle cx="207.1" cy="438.6" r="1.65"/><circle cx="192.2" cy="427.0" r="1.65"/><circle cx="204.3" cy="420.2" r="1.65"/><circle cx="182.7" cy="430.0" r="1.65"/><circle cx="186.8" cy="422.7" r="1.65"/><circle cx="191.7" cy="414.1" r="1.65"/><circle cx="214.9" cy="429.8" r="1.65"/><circle cx="198.2" cy="417.6" r="1.65"/><circle cx="189.8" cy="443.1" r="1.65"/><circle cx="200.9" cy="422.8" r="1.65"/><circle cx="178.3" cy="427.4" r="1.65"/><circle cx="191.3" cy="433.8" r="1.65"/><circle cx="196.5" cy="443.1" r="1.65"/><circle cx="182.8" cy="412.4" r="1.65"/><circle cx="202.2" cy="427.6" r="1.65"/><circle cx="197.2" cy="423.1" r="1.65"/><circle cx="196.5" cy="399.8" r="1.65"/><circle cx="190.6" cy="419.7" r="1.65"/><circle cx="185.2" cy="419.4" r="1.65"/><circle cx="213.0" cy="427.1" r="1.65"/><circle cx="188.9" cy="444.9" r="1.65"/><circle cx="207.0" cy="434.3" r="1.65"/><circle cx="198.4" cy="418.4" r="1.65"/><circle cx="187.3" cy="425.6" r="1.65"/><circle cx="209.2" cy="435.9" r="1.65"/><circle cx="193.6" cy="426.0" r="1.65"/><circle cx="180.9" cy="431.2" r="1.65"/><circle cx="205.0" cy="403.3" r="1.65"/><circle cx="187.5" cy="425.5" r="1.65"/><circle cx="199.9" cy="429.5" r="1.65"/><circle cx="190.7" cy="428.6" r="1.65"/><circle cx="192.3" cy="435.6" r="1.65"/><circle cx="194.2" cy="427.7" r="1.65"/><circle cx="174.8" cy="424.6" r="1.65"/><circle cx="194.6" cy="425.4" r="1.65"/><circle cx="177.4" cy="403.7" r="1.65"/><circle cx="196.6" cy="444.6" r="1.65"/><circle cx="206.8" cy="418.9" r="1.65"/><circle cx="191.3" cy="412.1" r="1.65"/><circle cx="201.8" cy="437.5" r="1.65"/><circle cx="190.2" cy="421.3" r="1.65"/><circle cx="212.3" cy="431.1" r="1.65"/><circle cx="210.0" cy="424.1" r="1.65"/><circle cx="189.7" cy="410.9" r="1.65"/><circle cx="188.0" cy="428.2" r="1.65"/><circle cx="176.3" cy="429.8" r="1.65"/><circle cx="204.4" cy="440.4" r="1.65"/><circle cx="181.9" cy="408.2" r="1.65"/><circle cx="202.8" cy="434.5" r="1.65"/><circle cx="195.9" cy="404.0" r="1.65"/><circle cx="185.3" cy="414.8" r="1.65"/><circle cx="201.9" cy="421.8" r="1.65"/><circle cx="195.9" cy="417.0" r="1.65"/><circle cx="187.8" cy="424.9" r="1.65"/><circle cx="209.8" cy="427.8" r="1.65"/><circle cx="198.2" cy="415.7" r="1.65"/><circle cx="180.8" cy="450.0" r="1.65"/><circle cx="210.1" cy="422.3" r="1.65"/><circle cx="201.5" cy="430.9" r="1.65"/><circle cx="197.3" cy="416.8" r="1.65"/><circle cx="195.9" cy="432.4" r="1.65"/><circle cx="188.1" cy="443.3" r="1.65"/><circle cx="173.1" cy="430.7" r="1.65"/><circle cx="192.2" cy="397.7" r="1.65"/><circle cx="190.5" cy="439.2" r="1.65"/><circle cx="214.8" cy="434.5" r="1.65"/><circle cx="193.3" cy="414.7" r="1.65"/><circle cx="206.4" cy="414.2" r="1.65"/><circle cx="203.2" cy="436.6" r="1.65"/><circle cx="190.6" cy="431.1" r="1.65"/><circle cx="203.0" cy="428.6" r="1.65"/><circle cx="207.4" cy="422.6" r="1.65"/><circle cx="200.4" cy="451.0" r="1.65"/><circle cx="198.7" cy="437.3" r="1.65"/><circle cx="205.8" cy="427.3" r="1.65"/><circle cx="204.3" cy="417.6" r="1.65"/><circle cx="191.9" cy="433.5" r="1.65"/><circle cx="207.7" cy="409.7" r="1.65"/><circle cx="189.6" cy="443.7" r="1.65"/><circle cx="205.7" cy="441.8" r="1.65"/><circle cx="196.9" cy="449.2" r="1.65"/><circle cx="207.9" cy="420.7" r="1.65"/><circle cx="193.5" cy="439.4" r="1.65"/><circle cx="170.3" cy="426.1" r="1.65"/><circle cx="203.9" cy="422.5" r="1.65"/><circle cx="184.6" cy="416.6" r="1.65"/><circle cx="200.7" cy="443.5" r="1.65"/><circle cx="180.8" cy="436.4" r="1.65"/><circle cx="209.3" cy="432.4" r="1.65"/><circle cx="214.5" cy="410.5" r="1.65"/><circle cx="181.1" cy="428.0" r="1.65"/><circle cx="229.8" cy="425.0" r="1.65"/><circle cx="204.5" cy="420.8" r="1.65"/><circle cx="194.9" cy="433.5" r="1.65"/><circle cx="200.3" cy="419.9" r="1.65"/><circle cx="203.4" cy="415.1" r="1.65"/><circle cx="186.8" cy="435.8" r="1.65"/><circle cx="205.0" cy="423.1" r="1.65"/><circle cx="178.8" cy="436.3" r="1.65"/><circle cx="220.6" cy="429.2" r="1.65"/><circle cx="194.7" cy="421.0" r="1.65"/><circle cx="169.1" cy="429.2" r="1.65"/><circle cx="134.5" cy="400.1" r="1.65"/><circle cx="126.4" cy="414.9" r="1.65"/><circle cx="197.0" cy="416.5" r="1.65"/><circle cx="152.6" cy="424.4" r="1.65"/><circle cx="132.4" cy="404.3" r="1.65"/><circle cx="171.9" cy="412.9" r="1.65"/><circle cx="140.4" cy="399.2" r="1.65"/><circle cx="206.7" cy="413.9" r="1.65"/><circle cx="130.2" cy="426.3" r="1.65"/><circle cx="135.7" cy="413.5" r="1.65"/><circle cx="95.5" cy="423.6" r="1.65"/><circle cx="210.9" cy="407.7" r="1.65"/><circle cx="179.2" cy="418.8" r="1.65"/><circle cx="124.2" cy="418.7" r="1.65"/><circle cx="187.6" cy="411.7" r="1.65"/><circle cx="173.7" cy="409.1" r="1.65"/><circle cx="132.8" cy="414.4" r="1.65"/><circle cx="127.7" cy="426.2" r="1.65"/><circle cx="168.7" cy="428.7" r="1.65"/><circle cx="198.5" cy="413.5" r="1.65"/><circle cx="114.6" cy="421.4" r="1.65"/><circle cx="122.2" cy="406.3" r="1.65"/><circle cx="171.0" cy="415.1" r="1.65"/><circle cx="203.2" cy="415.2" r="1.65"/><circle cx="147.1" cy="424.8" r="1.65"/><circle cx="118.9" cy="411.8" r="1.65"/><circle cx="178.4" cy="416.5" r="1.65"/><circle cx="162.9" cy="415.0" r="1.65"/><circle cx="204.6" cy="413.5" r="1.65"/><circle cx="188.6" cy="417.4" r="1.65"/><circle cx="129.2" cy="431.2" r="1.65"/><circle cx="122.0" cy="411.7" r="1.65"/><circle cx="124.3" cy="405.0" r="1.65"/><circle cx="142.1" cy="434.4" r="1.65"/><circle cx="158.5" cy="420.9" r="1.65"/><circle cx="208.4" cy="409.2" r="1.65"/><circle cx="123.5" cy="415.2" r="1.65"/><circle cx="111.2" cy="431.4" r="1.65"/><circle cx="150.8" cy="410.9" r="1.65"/><circle cx="138.4" cy="404.7" r="1.65"/><circle cx="99.5" cy="410.6" r="1.65"/><circle cx="160.2" cy="430.9" r="1.65"/><circle cx="165.6" cy="419.2" r="1.65"/><circle cx="187.7" cy="431.6" r="1.65"/><circle cx="172.6" cy="419.0" r="1.65"/><circle cx="141.8" cy="418.9" r="1.65"/><circle cx="150.0" cy="416.9" r="1.65"/><circle cx="182.4" cy="421.7" r="1.65"/><circle cx="130.5" cy="416.7" r="1.65"/><circle cx="136.8" cy="422.2" r="1.65"/><circle cx="169.8" cy="411.0" r="1.65"/><circle cx="122.8" cy="419.8" r="1.65"/><circle cx="112.3" cy="408.8" r="1.65"/><circle cx="128.0" cy="423.0" r="1.65"/><circle cx="140.1" cy="425.5" r="1.65"/><circle cx="153.5" cy="407.7" r="1.65"/><circle cx="156.1" cy="433.1" r="1.65"/><circle cx="150.8" cy="422.4" r="1.65"/><circle cx="179.5" cy="418.6" r="1.65"/><circle cx="162.2" cy="430.3" r="1.65"/><circle cx="131.0" cy="415.1" r="1.65"/><circle cx="141.9" cy="416.3" r="1.65"/><circle cx="199.5" cy="428.8" r="1.65"/><circle cx="116.4" cy="403.5" r="1.65"/><circle cx="158.3" cy="423.3" r="1.65"/><circle cx="163.3" cy="407.3" r="1.65"/><circle cx="130.7" cy="407.3" r="1.65"/><circle cx="147.8" cy="402.5" r="1.65"/><circle cx="149.4" cy="404.7" r="1.65"/><circle cx="135.1" cy="411.3" r="1.65"/><circle cx="185.0" cy="415.2" r="1.65"/><circle cx="141.0" cy="423.3" r="1.65"/><circle cx="131.8" cy="408.3" r="1.65"/><circle cx="124.8" cy="409.2" r="1.65"/><circle cx="154.0" cy="418.4" r="1.65"/><circle cx="132.6" cy="420.8" r="1.65"/><circle cx="93.7" cy="410.0" r="1.65"/><circle cx="139.3" cy="404.1" r="1.65"/><circle cx="130.0" cy="424.2" r="1.65"/><circle cx="151.0" cy="420.1" r="1.65"/><circle cx="119.0" cy="436.3" r="1.65"/><circle cx="127.8" cy="422.5" r="1.65"/><circle cx="172.9" cy="408.9" r="1.65"/><circle cx="122.7" cy="408.6" r="1.65"/><circle cx="122.6" cy="423.0" r="1.65"/><circle cx="139.9" cy="425.0" r="1.65"/><circle cx="122.7" cy="412.4" r="1.65"/><circle cx="152.3" cy="411.4" r="1.65"/><circle cx="136.1" cy="403.8" r="1.65"/><circle cx="172.2" cy="410.8" r="1.65"/><circle cx="213.3" cy="423.0" r="1.65"/><circle cx="151.5" cy="409.1" r="1.65"/><circle cx="183.2" cy="415.2" r="1.65"/><circle cx="147.9" cy="418.5" r="1.65"/><circle cx="155.3" cy="440.3" r="1.65"/><circle cx="170.3" cy="410.6" r="1.65"/><circle cx="211.2" cy="429.6" r="1.65"/><circle cx="162.4" cy="411.8" r="1.65"/><circle cx="173.7" cy="427.8" r="1.65"/><circle cx="63.1" cy="415.6" r="1.65"/><circle cx="160.8" cy="413.4" r="1.65"/><circle cx="133.3" cy="424.3" r="1.65"/><circle cx="150.1" cy="425.4" r="1.65"/><circle cx="125.4" cy="413.4" r="1.65"/><circle cx="169.2" cy="427.0" r="1.65"/><circle cx="99.6" cy="426.2" r="1.65"/><circle cx="173.1" cy="419.2" r="1.65"/><circle cx="173.1" cy="410.0" r="1.65"/><circle cx="186.9" cy="419.5" r="1.65"/><circle cx="156.5" cy="407.6" r="1.65"/><circle cx="140.4" cy="425.7" r="1.65"/><circle cx="127.8" cy="410.9" r="1.65"/><circle cx="166.2" cy="413.9" r="1.65"/><circle cx="141.8" cy="424.3" r="1.65"/><circle cx="118.4" cy="406.5" r="1.65"/><circle cx="152.9" cy="410.4" r="1.65"/><circle cx="100.1" cy="406.4" r="1.65"/><circle cx="180.9" cy="413.2" r="1.65"/><circle cx="213.3" cy="414.0" r="1.65"/><circle cx="157.7" cy="425.4" r="1.65"/><circle cx="134.2" cy="411.4" r="1.65"/><circle cx="162.4" cy="404.6" r="1.65"/><circle cx="135.7" cy="411.2" r="1.65"/><circle cx="126.1" cy="417.9" r="1.65"/><circle cx="134.4" cy="438.1" r="1.65"/><circle cx="175.6" cy="425.2" r="1.65"/><circle cx="126.8" cy="414.8" r="1.65"/><circle cx="118.6" cy="425.6" r="1.65"/><circle cx="77.4" cy="416.5" r="1.65"/><circle cx="171.0" cy="420.7" r="1.65"/><circle cx="172.1" cy="419.4" r="1.65"/><circle cx="173.3" cy="409.2" r="1.65"/><circle cx="156.3" cy="405.3" r="1.65"/><circle cx="165.1" cy="428.2" r="1.65"/><circle cx="144.8" cy="415.4" r="1.65"/><circle cx="116.4" cy="430.5" r="1.65"/><circle cx="154.4" cy="411.6" r="1.65"/><circle cx="122.3" cy="411.4" r="1.65"/><circle cx="123.8" cy="428.5" r="1.65"/><circle cx="178.2" cy="415.0" r="1.65"/><circle cx="98.7" cy="432.6" r="1.65"/><circle cx="153.9" cy="425.3" r="1.65"/><circle cx="126.5" cy="430.4" r="1.65"/><circle cx="125.5" cy="428.6" r="1.65"/><circle cx="176.2" cy="419.1" r="1.65"/><circle cx="143.1" cy="405.6" r="1.65"/><circle cx="209.2" cy="412.9" r="1.65"/><circle cx="119.8" cy="427.5" r="1.65"/><circle cx="147.8" cy="406.9" r="1.65"/><circle cx="163.1" cy="414.0" r="1.65"/><circle cx="183.5" cy="438.6" r="1.65"/><circle cx="176.8" cy="416.1" r="1.65"/><circle cx="151.3" cy="412.6" r="1.65"/><circle cx="142.5" cy="427.4" r="1.65"/><circle cx="92.6" cy="413.4" r="1.65"/><circle cx="115.6" cy="417.6" r="1.65"/><circle cx="101.3" cy="417.1" r="1.65"/><circle cx="165.3" cy="420.4" r="1.65"/><circle cx="163.3" cy="423.9" r="1.65"/><circle cx="137.2" cy="414.7" r="1.65"/><circle cx="151.8" cy="411.8" r="1.65"/><circle cx="155.6" cy="406.8" r="1.65"/><circle cx="200.2" cy="410.0" r="1.65"/><circle cx="180.5" cy="412.6" r="1.65"/><circle cx="122.0" cy="407.7" r="1.65"/><circle cx="178.2" cy="427.0" r="1.65"/><circle cx="148.0" cy="431.4" r="1.65"/><circle cx="162.3" cy="401.4" r="1.65"/><circle cx="157.5" cy="423.0" r="1.65"/><circle cx="184.7" cy="410.9" r="1.65"/><circle cx="158.8" cy="408.0" r="1.65"/><circle cx="146.6" cy="405.4" r="1.65"/><circle cx="91.6" cy="410.9" r="1.65"/><circle cx="129.0" cy="412.4" r="1.65"/><circle cx="129.9" cy="432.2" r="1.65"/><circle cx="167.7" cy="429.4" r="1.65"/><circle cx="81.7" cy="418.6" r="1.65"/><circle cx="197.4" cy="435.0" r="1.65"/><circle cx="150.8" cy="426.0" r="1.65"/><circle cx="158.1" cy="435.2" r="1.65"/><circle cx="170.7" cy="414.4" r="1.65"/><circle cx="189.8" cy="404.3" r="1.65"/><circle cx="155.2" cy="432.2" r="1.65"/><circle cx="169.1" cy="422.9" r="1.65"/><circle cx="153.6" cy="404.7" r="1.65"/><circle cx="95.9" cy="419.2" r="1.65"/><circle cx="123.1" cy="414.2" r="1.65"/><circle cx="165.3" cy="413.2" r="1.65"/><circle cx="164.3" cy="424.4" r="1.65"/><circle cx="134.6" cy="417.3" r="1.65"/><circle cx="157.8" cy="417.5" r="1.65"/><circle cx="124.6" cy="419.7" r="1.65"/><circle cx="156.9" cy="427.7" r="1.65"/><circle cx="124.7" cy="411.6" r="1.65"/><circle cx="218.8" cy="414.8" r="1.65"/><circle cx="168.1" cy="426.5" r="1.65"/><circle cx="160.6" cy="412.3" r="1.65"/><circle cx="182.6" cy="425.5" r="1.65"/><circle cx="183.1" cy="420.2" r="1.65"/><circle cx="160.6" cy="428.4" r="1.65"/><circle cx="188.4" cy="414.2" r="1.65"/><circle cx="126.4" cy="412.1" r="1.65"/><circle cx="173.2" cy="406.9" r="1.65"/><circle cx="176.9" cy="435.0" r="1.65"/><circle cx="120.2" cy="417.2" r="1.65"/><circle cx="157.2" cy="428.8" r="1.65"/><circle cx="183.2" cy="411.9" r="1.65"/><circle cx="99.2" cy="428.7" r="1.65"/><circle cx="186.2" cy="434.7" r="1.65"/><circle cx="114.7" cy="412.7" r="1.65"/><circle cx="181.7" cy="430.5" r="1.65"/><circle cx="95.1" cy="401.8" r="1.65"/><circle cx="143.3" cy="433.8" r="1.65"/><circle cx="182.4" cy="406.3" r="1.65"/><circle cx="162.7" cy="417.9" r="1.65"/><circle cx="121.1" cy="433.9" r="1.65"/><circle cx="172.1" cy="412.4" r="1.65"/><circle cx="106.4" cy="426.6" r="1.65"/><circle cx="124.8" cy="422.1" r="1.65"/><circle cx="150.7" cy="406.5" r="1.65"/><circle cx="151.6" cy="407.7" r="1.65"/><circle cx="144.8" cy="408.2" r="1.65"/><circle cx="127.2" cy="434.6" r="1.65"/><circle cx="180.2" cy="430.2" r="1.65"/><circle cx="115.2" cy="402.5" r="1.65"/><circle cx="139.1" cy="416.6" r="1.65"/><circle cx="157.3" cy="412.3" r="1.65"/><circle cx="178.8" cy="420.0" r="1.65"/><circle cx="121.3" cy="407.6" r="1.65"/><circle cx="145.7" cy="422.5" r="1.65"/><circle cx="168.1" cy="410.3" r="1.65"/><circle cx="155.6" cy="438.2" r="1.65"/><circle cx="210.9" cy="417.9" r="1.65"/><circle cx="107.4" cy="411.8" r="1.65"/><circle cx="188.3" cy="405.6" r="1.65"/><circle cx="161.3" cy="412.5" r="1.65"/><circle cx="96.6" cy="444.5" r="1.65"/><circle cx="186.7" cy="415.0" r="1.65"/><circle cx="156.0" cy="432.8" r="1.65"/><circle cx="199.0" cy="423.6" r="1.65"/><circle cx="173.5" cy="431.5" r="1.65"/><circle cx="85.4" cy="415.2" r="1.65"/><circle cx="164.6" cy="428.8" r="1.65"/><circle cx="221.6" cy="422.7" r="1.65"/><circle cx="190.6" cy="406.0" r="1.65"/><circle cx="107.1" cy="412.4" r="1.65"/><circle cx="124.6" cy="415.0" r="1.65"/><circle cx="146.6" cy="407.1" r="1.65"/><circle cx="128.7" cy="411.4" r="1.65"/><circle cx="173.1" cy="405.6" r="1.65"/><circle cx="126.9" cy="409.7" r="1.65"/><circle cx="173.2" cy="406.0" r="1.65"/><circle cx="81.4" cy="436.0" r="1.65"/><circle cx="92.4" cy="422.4" r="1.65"/><circle cx="112.2" cy="421.5" r="1.65"/><circle cx="142.2" cy="406.6" r="1.65"/><circle cx="176.9" cy="422.3" r="1.65"/><circle cx="144.9" cy="434.8" r="1.65"/><circle cx="131.6" cy="419.3" r="1.65"/><circle cx="74.9" cy="423.3" r="1.65"/><circle cx="148.9" cy="408.8" r="1.65"/><circle cx="160.1" cy="434.3" r="1.65"/><circle cx="120.4" cy="412.4" r="1.65"/><circle cx="152.9" cy="406.2" r="1.65"/><circle cx="166.5" cy="419.4" r="1.65"/><circle cx="139.2" cy="410.1" r="1.65"/><circle cx="129.0" cy="419.9" r="1.65"/><circle cx="183.4" cy="421.5" r="1.65"/><circle cx="163.2" cy="442.9" r="1.65"/><circle cx="126.1" cy="417.2" r="1.65"/><circle cx="165.5" cy="418.8" r="1.65"/><circle cx="151.3" cy="425.7" r="1.65"/><circle cx="147.4" cy="409.5" r="1.65"/><circle cx="121.7" cy="431.0" r="1.65"/><circle cx="191.2" cy="423.7" r="1.65"/><circle cx="142.0" cy="421.3" r="1.65"/><circle cx="166.4" cy="409.1" r="1.65"/><circle cx="128.7" cy="410.9" r="1.65"/><circle cx="161.6" cy="402.4" r="1.65"/><circle cx="146.0" cy="413.6" r="1.65"/><circle cx="98.8" cy="421.2" r="1.65"/><circle cx="169.3" cy="429.5" r="1.65"/><circle cx="126.2" cy="417.4" r="1.65"/><circle cx="140.5" cy="426.1" r="1.65"/><circle cx="134.1" cy="411.6" r="1.65"/><circle cx="192.1" cy="407.7" r="1.65"/><circle cx="159.6" cy="403.4" r="1.65"/><circle cx="106.0" cy="405.5" r="1.65"/><circle cx="153.6" cy="417.7" r="1.65"/><circle cx="132.2" cy="416.9" r="1.65"/><circle cx="164.2" cy="423.3" r="1.65"/><circle cx="123.4" cy="412.5" r="1.65"/><circle cx="196.1" cy="405.4" r="1.65"/><circle cx="183.9" cy="423.3" r="1.65"/><circle cx="137.0" cy="420.6" r="1.65"/><circle cx="206.9" cy="421.2" r="1.65"/><circle cx="185.8" cy="408.6" r="1.65"/><circle cx="126.5" cy="412.1" r="1.65"/><circle cx="191.7" cy="409.7" r="1.65"/><circle cx="159.5" cy="405.6" r="1.65"/><circle cx="110.8" cy="421.4" r="1.65"/><circle cx="153.4" cy="409.2" r="1.65"/><circle cx="188.6" cy="422.5" r="1.65"/><circle cx="153.9" cy="404.3" r="1.65"/><circle cx="186.2" cy="422.4" r="1.65"/><circle cx="125.1" cy="419.9" r="1.65"/><circle cx="162.8" cy="440.2" r="1.65"/><circle cx="193.5" cy="418.5" r="1.65"/><circle cx="140.0" cy="430.9" r="1.65"/><circle cx="132.7" cy="416.8" r="1.65"/><circle cx="111.8" cy="421.6" r="1.65"/><circle cx="159.9" cy="411.4" r="1.65"/><circle cx="151.2" cy="426.6" r="1.65"/><circle cx="145.3" cy="419.3" r="1.65"/><circle cx="187.2" cy="422.4" r="1.65"/><circle cx="115.3" cy="412.5" r="1.65"/><circle cx="125.0" cy="403.6" r="1.65"/><circle cx="190.2" cy="420.2" r="1.65"/><circle cx="140.1" cy="410.0" r="1.65"/><circle cx="104.1" cy="406.2" r="1.65"/><circle cx="190.6" cy="414.1" r="1.65"/><circle cx="154.7" cy="422.7" r="1.65"/><circle cx="126.9" cy="412.6" r="1.65"/><circle cx="161.2" cy="422.1" r="1.65"/><circle cx="181.8" cy="420.0" r="1.65"/><circle cx="180.8" cy="426.1" r="1.65"/><circle cx="162.0" cy="410.1" r="1.65"/><circle cx="181.5" cy="419.2" r="1.65"/><circle cx="153.7" cy="415.1" r="1.65"/><circle cx="185.0" cy="425.0" r="1.65"/><circle cx="178.7" cy="453.5" r="1.65"/><circle cx="127.2" cy="494.1" r="1.65"/><circle cx="147.2" cy="459.9" r="1.65"/><circle cx="134.7" cy="477.8" r="1.65"/><circle cx="75.5" cy="441.6" r="1.65"/><circle cx="174.6" cy="481.5" r="1.65"/><circle cx="175.5" cy="453.2" r="1.65"/><circle cx="144.3" cy="435.1" r="1.65"/><circle cx="137.4" cy="479.9" r="1.65"/><circle cx="158.0" cy="438.7" r="1.65"/><circle cx="125.7" cy="499.8" r="1.65"/><circle cx="159.4" cy="431.1" r="1.65"/><circle cx="162.7" cy="453.2" r="1.65"/><circle cx="168.9" cy="420.7" r="1.65"/><circle cx="154.1" cy="471.8" r="1.65"/><circle cx="133.1" cy="462.8" r="1.65"/><circle cx="137.6" cy="418.6" r="1.65"/><circle cx="145.0" cy="453.9" r="1.65"/><circle cx="103.7" cy="463.5" r="1.65"/><circle cx="149.7" cy="427.2" r="1.65"/><circle cx="177.4" cy="416.7" r="1.65"/><circle cx="148.3" cy="476.8" r="1.65"/><circle cx="156.5" cy="478.6" r="1.65"/><circle cx="125.4" cy="476.6" r="1.65"/><circle cx="200.8" cy="474.6" r="1.65"/><circle cx="127.0" cy="466.2" r="1.65"/><circle cx="162.9" cy="490.7" r="1.65"/><circle cx="114.9" cy="477.9" r="1.65"/><circle cx="129.8" cy="522.4" r="1.65"/><circle cx="153.8" cy="485.8" r="1.65"/><circle cx="153.6" cy="453.2" r="1.65"/><circle cx="157.7" cy="445.5" r="1.65"/><circle cx="115.7" cy="456.9" r="1.65"/><circle cx="177.4" cy="425.6" r="1.65"/><circle cx="164.9" cy="457.6" r="1.65"/><circle cx="117.1" cy="456.2" r="1.65"/><circle cx="150.1" cy="464.7" r="1.65"/><circle cx="179.1" cy="469.6" r="1.65"/><circle cx="179.3" cy="442.6" r="1.65"/><circle cx="158.6" cy="457.7" r="1.65"/><circle cx="117.6" cy="434.2" r="1.65"/><circle cx="137.7" cy="432.2" r="1.65"/><circle cx="126.6" cy="459.3" r="1.65"/><circle cx="128.6" cy="415.2" r="1.65"/><circle cx="152.9" cy="449.5" r="1.65"/><circle cx="188.7" cy="482.0" r="1.65"/><circle cx="142.8" cy="471.4" r="1.65"/><circle cx="139.5" cy="467.3" r="1.65"/><circle cx="150.7" cy="459.3" r="1.65"/><circle cx="162.5" cy="435.7" r="1.65"/><circle cx="165.3" cy="455.3" r="1.65"/><circle cx="111.6" cy="455.9" r="1.65"/><circle cx="162.3" cy="473.2" r="1.65"/><circle cx="130.4" cy="437.6" r="1.65"/><circle cx="164.6" cy="476.5" r="1.65"/><circle cx="91.9" cy="487.6" r="1.65"/><circle cx="104.8" cy="454.2" r="1.65"/><circle cx="162.9" cy="464.5" r="1.65"/><circle cx="155.3" cy="468.5" r="1.65"/><circle cx="135.6" cy="512.2" r="1.65"/><circle cx="117.1" cy="445.2" r="1.65"/><circle cx="167.5" cy="506.1" r="1.65"/><circle cx="100.2" cy="511.1" r="1.65"/><circle cx="137.5" cy="440.9" r="1.65"/><circle cx="178.4" cy="418.2" r="1.65"/><circle cx="187.8" cy="511.7" r="1.65"/><circle cx="180.1" cy="482.6" r="1.65"/><circle cx="108.3" cy="499.1" r="1.65"/><circle cx="94.7" cy="455.4" r="1.65"/><circle cx="118.7" cy="443.4" r="1.65"/><circle cx="166.5" cy="466.5" r="1.65"/><circle cx="133.6" cy="445.6" r="1.65"/><circle cx="91.9" cy="490.4" r="1.65"/><circle cx="182.7" cy="495.2" r="1.65"/><circle cx="182.1" cy="462.0" r="1.65"/><circle cx="143.2" cy="478.2" r="1.65"/><circle cx="160.0" cy="485.4" r="1.65"/><circle cx="132.9" cy="436.0" r="1.65"/><circle cx="126.1" cy="439.5" r="1.65"/><circle cx="95.4" cy="428.1" r="1.65"/><circle cx="135.3" cy="484.4" r="1.65"/><circle cx="162.8" cy="500.6" r="1.65"/><circle cx="161.4" cy="452.1" r="1.65"/><circle cx="123.0" cy="497.5" r="1.65"/><circle cx="108.7" cy="466.3" r="1.65"/><circle cx="196.7" cy="444.5" r="1.65"/><circle cx="171.3" cy="484.6" r="1.65"/><circle cx="147.9" cy="493.6" r="1.65"/><circle cx="144.6" cy="452.9" r="1.65"/><circle cx="115.6" cy="490.1" r="1.65"/><circle cx="163.0" cy="414.8" r="1.65"/><circle cx="149.8" cy="469.8" r="1.65"/><circle cx="87.5" cy="434.2" r="1.65"/><circle cx="157.7" cy="465.1" r="1.65"/><circle cx="125.8" cy="463.9" r="1.65"/><circle cx="130.9" cy="469.0" r="1.65"/><circle cx="149.6" cy="449.0" r="1.65"/><circle cx="150.3" cy="500.7" r="1.65"/><circle cx="142.6" cy="489.2" r="1.65"/><circle cx="156.3" cy="471.6" r="1.65"/><circle cx="186.8" cy="417.5" r="1.65"/><circle cx="179.7" cy="471.6" r="1.65"/><circle cx="121.8" cy="458.7" r="1.65"/><circle cx="127.7" cy="419.1" r="1.65"/><circle cx="140.1" cy="455.7" r="1.65"/><circle cx="144.5" cy="405.7" r="1.65"/><circle cx="231.2" cy="439.9" r="1.65"/><circle cx="131.7" cy="512.3" r="1.65"/><circle cx="139.4" cy="465.8" r="1.65"/><circle cx="171.9" cy="450.0" r="1.65"/><circle cx="176.7" cy="409.4" r="1.65"/><circle cx="180.9" cy="494.1" r="1.65"/><circle cx="158.1" cy="458.0" r="1.65"/><circle cx="128.4" cy="449.6" r="1.65"/><circle cx="144.1" cy="540.8" r="1.65"/><circle cx="158.2" cy="460.4" r="1.65"/><circle cx="120.4" cy="492.8" r="1.65"/><circle cx="135.5" cy="471.6" r="1.65"/><circle cx="167.9" cy="457.7" r="1.65"/><circle cx="152.1" cy="453.9" r="1.65"/><circle cx="148.1" cy="429.7" r="1.65"/><circle cx="124.0" cy="493.5" r="1.65"/><circle cx="104.7" cy="416.8" r="1.65"/><circle cx="122.4" cy="453.3" r="1.65"/><circle cx="93.1" cy="472.6" r="1.65"/><circle cx="138.8" cy="488.2" r="1.65"/><circle cx="140.1" cy="420.3" r="1.65"/><circle cx="156.8" cy="431.1" r="1.65"/><circle cx="171.1" cy="439.3" r="1.65"/><circle cx="100.2" cy="467.6" r="1.65"/><circle cx="147.6" cy="421.9" r="1.65"/><circle cx="117.3" cy="460.5" r="1.65"/><circle cx="138.6" cy="456.3" r="1.65"/><circle cx="119.1" cy="437.8" r="1.65"/><circle cx="137.2" cy="480.6" r="1.65"/><circle cx="185.6" cy="514.7" r="1.65"/><circle cx="128.2" cy="429.0" r="1.65"/><circle cx="146.5" cy="444.0" r="1.65"/><circle cx="173.2" cy="452.1" r="1.65"/><circle cx="177.1" cy="436.0" r="1.65"/><circle cx="178.7" cy="422.6" r="1.65"/><circle cx="144.8" cy="434.9" r="1.65"/><circle cx="133.3" cy="502.0" r="1.65"/><circle cx="179.1" cy="420.7" r="1.65"/><circle cx="133.0" cy="430.7" r="1.65"/><circle cx="87.4" cy="437.0" r="1.65"/><circle cx="99.8" cy="463.5" r="1.65"/><circle cx="161.4" cy="448.6" r="1.65"/><circle cx="140.5" cy="445.9" r="1.65"/><circle cx="122.0" cy="429.8" r="1.65"/><circle cx="108.7" cy="470.5" r="1.65"/><circle cx="161.6" cy="439.8" r="1.65"/><circle cx="121.3" cy="446.9" r="1.65"/><circle cx="129.9" cy="489.6" r="1.65"/><circle cx="157.4" cy="402.2" r="1.65"/><circle cx="120.6" cy="501.8" r="1.65"/><circle cx="168.2" cy="442.6" r="1.65"/><circle cx="153.5" cy="440.3" r="1.65"/><circle cx="173.5" cy="455.5" r="1.65"/><circle cx="136.1" cy="436.7" r="1.65"/><circle cx="141.5" cy="457.8" r="1.65"/><circle cx="146.4" cy="438.9" r="1.65"/><circle cx="125.7" cy="479.2" r="1.65"/><circle cx="164.9" cy="451.6" r="1.65"/><circle cx="173.9" cy="462.9" r="1.65"/><circle cx="80.0" cy="444.7" r="1.65"/><circle cx="157.4" cy="472.4" r="1.65"/><circle cx="163.3" cy="489.5" r="1.65"/><circle cx="152.5" cy="433.3" r="1.65"/><circle cx="119.3" cy="433.1" r="1.65"/><circle cx="198.7" cy="446.0" r="1.65"/><circle cx="166.1" cy="451.5" r="1.65"/><circle cx="147.7" cy="468.5" r="1.65"/><circle cx="179.4" cy="459.0" r="1.65"/><circle cx="146.4" cy="442.6" r="1.65"/><circle cx="144.3" cy="486.9" r="1.65"/><circle cx="105.0" cy="408.4" r="1.65"/><circle cx="154.0" cy="499.2" r="1.65"/><circle cx="82.5" cy="409.6" r="1.65"/><circle cx="124.9" cy="508.8" r="1.65"/><circle cx="98.7" cy="425.3" r="1.65"/><circle cx="162.6" cy="532.9" r="1.65"/><circle cx="105.9" cy="479.4" r="1.65"/><circle cx="141.5" cy="435.7" r="1.65"/><circle cx="114.2" cy="465.7" r="1.65"/><circle cx="126.8" cy="447.8" r="1.65"/><circle cx="148.9" cy="438.6" r="1.65"/><circle cx="150.3" cy="463.0" r="1.65"/><circle cx="148.8" cy="505.9" r="1.65"/><circle cx="162.6" cy="491.8" r="1.65"/><circle cx="126.3" cy="507.4" r="1.65"/><circle cx="92.8" cy="455.4" r="1.65"/><circle cx="146.3" cy="498.3" r="1.65"/><circle cx="159.2" cy="404.6" r="1.65"/><circle cx="144.0" cy="508.8" r="1.65"/><circle cx="122.2" cy="406.6" r="1.65"/><circle cx="158.5" cy="458.8" r="1.65"/><circle cx="103.5" cy="537.5" r="1.65"/><circle cx="112.1" cy="480.7" r="1.65"/><circle cx="134.3" cy="418.9" r="1.65"/><circle cx="123.0" cy="441.8" r="1.65"/><circle cx="110.0" cy="480.4" r="1.65"/><circle cx="140.2" cy="481.8" r="1.65"/><circle cx="136.0" cy="473.5" r="1.65"/><circle cx="171.0" cy="485.9" r="1.65"/><circle cx="119.5" cy="515.6" r="1.65"/><circle cx="182.6" cy="515.7" r="1.65"/><circle cx="180.3" cy="516.6" r="1.65"/><circle cx="183.5" cy="495.8" r="1.65"/><circle cx="105.6" cy="460.4" r="1.65"/><circle cx="170.2" cy="520.3" r="1.65"/><circle cx="168.7" cy="415.8" r="1.65"/><circle cx="159.4" cy="432.9" r="1.65"/><circle cx="139.2" cy="459.7" r="1.65"/><circle cx="155.9" cy="465.4" r="1.65"/><circle cx="158.6" cy="482.9" r="1.65"/><circle cx="147.3" cy="428.4" r="1.65"/><circle cx="133.2" cy="510.8" r="1.65"/><circle cx="132.2" cy="449.3" r="1.65"/><circle cx="163.5" cy="432.1" r="1.65"/><circle cx="206.4" cy="433.2" r="1.65"/><circle cx="177.8" cy="454.3" r="1.65"/><circle cx="133.6" cy="413.9" r="1.65"/><circle cx="142.2" cy="486.1" r="1.65"/><circle cx="125.6" cy="445.0" r="1.65"/><circle cx="116.0" cy="547.7" r="1.65"/><circle cx="146.2" cy="555.5" r="1.65"/><circle cx="140.5" cy="461.7" r="1.65"/><circle cx="170.4" cy="445.4" r="1.65"/><circle cx="142.1" cy="426.1" r="1.65"/><circle cx="108.5" cy="458.7" r="1.65"/><circle cx="153.0" cy="483.8" r="1.65"/><circle cx="113.3" cy="464.0" r="1.65"/><circle cx="153.2" cy="439.0" r="1.65"/><circle cx="163.3" cy="465.7" r="1.65"/><circle cx="146.9" cy="428.3" r="1.65"/><circle cx="175.8" cy="495.2" r="1.65"/><circle cx="164.0" cy="480.8" r="1.65"/><circle cx="168.8" cy="434.5" r="1.65"/><circle cx="120.7" cy="460.0" r="1.65"/><circle cx="150.3" cy="437.2" r="1.65"/><circle cx="81.4" cy="449.0" r="1.65"/><circle cx="172.9" cy="456.2" r="1.65"/><circle cx="154.7" cy="456.8" r="1.65"/><circle cx="161.6" cy="414.9" r="1.65"/><circle cx="164.4" cy="461.0" r="1.65"/><circle cx="132.5" cy="441.3" r="1.65"/><circle cx="153.0" cy="453.6" r="1.65"/><circle cx="148.8" cy="568.0" r="1.65"/><circle cx="126.3" cy="453.1" r="1.65"/><circle cx="150.6" cy="429.4" r="1.65"/><circle cx="195.5" cy="415.4" r="1.65"/><circle cx="162.4" cy="488.5" r="1.65"/><circle cx="174.7" cy="445.0" r="1.65"/><circle cx="163.9" cy="434.3" r="1.65"/><circle cx="185.3" cy="417.7" r="1.65"/><circle cx="135.0" cy="472.8" r="1.65"/><circle cx="153.5" cy="518.8" r="1.65"/><circle cx="153.1" cy="498.5" r="1.65"/><circle cx="175.5" cy="438.7" r="1.65"/><circle cx="131.9" cy="469.0" r="1.65"/><circle cx="149.5" cy="479.9" r="1.65"/><circle cx="96.5" cy="443.5" r="1.65"/><circle cx="117.8" cy="517.3" r="1.65"/><circle cx="150.8" cy="493.9" r="1.65"/><circle cx="116.1" cy="469.7" r="1.65"/><circle cx="167.8" cy="454.5" r="1.65"/><circle cx="141.9" cy="461.9" r="1.65"/><circle cx="102.6" cy="429.6" r="1.65"/><circle cx="140.7" cy="439.3" r="1.65"/><circle cx="156.1" cy="503.3" r="1.65"/><circle cx="147.1" cy="534.9" r="1.65"/><circle cx="120.9" cy="474.2" r="1.65"/><circle cx="199.0" cy="451.7" r="1.65"/><circle cx="72.9" cy="485.0" r="1.65"/><circle cx="150.1" cy="442.8" r="1.65"/><circle cx="179.0" cy="407.2" r="1.65"/><circle cx="156.7" cy="447.0" r="1.65"/><circle cx="122.5" cy="463.5" r="1.65"/><circle cx="126.1" cy="509.9" r="1.65"/><circle cx="184.6" cy="449.5" r="1.65"/><circle cx="164.8" cy="477.1" r="1.65"/><circle cx="145.7" cy="438.1" r="1.65"/><circle cx="105.9" cy="428.9" r="1.65"/><circle cx="168.2" cy="484.2" r="1.65"/><circle cx="178.9" cy="468.3" r="1.65"/><circle cx="164.1" cy="434.2" r="1.65"/><circle cx="158.9" cy="457.1" r="1.65"/><circle cx="137.2" cy="456.7" r="1.65"/><circle cx="142.0" cy="501.9" r="1.65"/><circle cx="119.6" cy="444.6" r="1.65"/><circle cx="120.8" cy="471.5" r="1.65"/><circle cx="150.9" cy="500.5" r="1.65"/><circle cx="77.0" cy="503.2" r="1.65"/><circle cx="108.3" cy="485.1" r="1.65"/><circle cx="134.8" cy="455.0" r="1.65"/><circle cx="169.4" cy="422.3" r="1.65"/><circle cx="121.4" cy="450.7" r="1.65"/><circle cx="173.6" cy="468.1" r="1.65"/><circle cx="179.8" cy="476.6" r="1.65"/><circle cx="150.6" cy="462.8" r="1.65"/><circle cx="118.2" cy="468.6" r="1.65"/><circle cx="127.5" cy="474.0" r="1.65"/><circle cx="115.7" cy="470.3" r="1.65"/><circle cx="147.0" cy="500.2" r="1.65"/><circle cx="214.2" cy="455.1" r="1.65"/><circle cx="162.1" cy="473.0" r="1.65"/><circle cx="109.7" cy="483.8" r="1.65"/><circle cx="188.0" cy="461.7" r="1.65"/><circle cx="149.2" cy="436.5" r="1.65"/><circle cx="106.7" cy="436.6" r="1.65"/><circle cx="122.1" cy="480.5" r="1.65"/><circle cx="169.8" cy="447.5" r="1.65"/><circle cx="130.9" cy="432.2" r="1.65"/><circle cx="131.6" cy="477.0" r="1.65"/><circle cx="165.5" cy="417.9" r="1.65"/><circle cx="121.6" cy="520.2" r="1.65"/><circle cx="131.7" cy="445.1" r="1.65"/><circle cx="168.5" cy="497.4" r="1.65"/><circle cx="122.5" cy="445.2" r="1.65"/><circle cx="183.7" cy="458.1" r="1.65"/><circle cx="112.8" cy="474.1" r="1.65"/><circle cx="99.3" cy="505.3" r="1.65"/><circle cx="109.7" cy="467.5" r="1.65"/><circle cx="172.4" cy="466.7" r="1.65"/><circle cx="122.0" cy="501.4" r="1.65"/><circle cx="114.8" cy="437.6" r="1.65"/><circle cx="211.4" cy="445.0" r="1.65"/><circle cx="112.4" cy="483.8" r="1.65"/><circle cx="219.7" cy="427.2" r="1.65"/><circle cx="116.8" cy="410.0" r="1.65"/><circle cx="173.0" cy="491.5" r="1.65"/><circle cx="162.0" cy="416.1" r="1.65"/><circle cx="173.1" cy="454.7" r="1.65"/><circle cx="192.8" cy="407.2" r="1.65"/><circle cx="146.6" cy="454.4" r="1.65"/><circle cx="129.7" cy="458.7" r="1.65"/><circle cx="151.2" cy="507.4" r="1.65"/><circle cx="120.9" cy="466.9" r="1.65"/><circle cx="151.4" cy="509.7" r="1.65"/><circle cx="110.5" cy="454.9" r="1.65"/><circle cx="140.7" cy="474.1" r="1.65"/><circle cx="129.7" cy="429.4" r="1.65"/><circle cx="128.8" cy="493.9" r="1.65"/><circle cx="195.0" cy="458.8" r="1.65"/><circle cx="131.9" cy="541.1" r="1.65"/><circle cx="172.2" cy="474.1" r="1.65"/><circle cx="145.0" cy="421.6" r="1.65"/><circle cx="158.0" cy="427.8" r="1.65"/><circle cx="155.1" cy="425.9" r="1.65"/><circle cx="164.4" cy="457.6" r="1.65"/><circle cx="121.4" cy="460.1" r="1.65"/><circle cx="213.9" cy="465.2" r="1.65"/><circle cx="133.5" cy="458.4" r="1.65"/><circle cx="177.3" cy="474.2" r="1.65"/><circle cx="126.4" cy="430.9" r="1.65"/><circle cx="133.5" cy="482.8" r="1.65"/><circle cx="178.2" cy="417.9" r="1.65"/><circle cx="142.9" cy="440.2" r="1.65"/><circle cx="136.0" cy="468.1" r="1.65"/><circle cx="128.4" cy="491.0" r="1.65"/><circle cx="156.7" cy="451.9" r="1.65"/><circle cx="219.9" cy="410.2" r="1.65"/><circle cx="151.6" cy="468.3" r="1.65"/><circle cx="176.8" cy="464.4" r="1.65"/><circle cx="187.4" cy="492.4" r="1.65"/><circle cx="167.7" cy="459.1" r="1.65"/><circle cx="149.6" cy="483.0" r="1.65"/><circle cx="162.5" cy="440.3" r="1.65"/><circle cx="169.0" cy="409.8" r="1.65"/><circle cx="130.0" cy="482.9" r="1.65"/><circle cx="186.0" cy="454.6" r="1.65"/><circle cx="118.9" cy="458.0" r="1.65"/><circle cx="145.4" cy="509.3" r="1.65"/><circle cx="125.4" cy="497.8" r="1.65"/><circle cx="104.5" cy="461.4" r="1.65"/><circle cx="102.2" cy="440.8" r="1.65"/><circle cx="202.7" cy="459.9" r="1.65"/><circle cx="131.0" cy="414.5" r="1.65"/><circle cx="151.5" cy="443.2" r="1.65"/><circle cx="194.7" cy="450.8" r="1.65"/><circle cx="153.3" cy="439.4" r="1.65"/><circle cx="149.9" cy="467.2" r="1.65"/><circle cx="151.0" cy="438.7" r="1.65"/><circle cx="107.3" cy="432.2" r="1.65"/><circle cx="116.0" cy="493.7" r="1.65"/><circle cx="186.6" cy="492.6" r="1.65"/><circle cx="176.8" cy="440.0" r="1.65"/><circle cx="150.5" cy="468.3" r="1.65"/><circle cx="83.2" cy="471.7" r="1.65"/><circle cx="121.6" cy="458.5" r="1.65"/><circle cx="177.1" cy="512.0" r="1.65"/><circle cx="163.3" cy="444.1" r="1.65"/><circle cx="131.6" cy="417.9" r="1.65"/><circle cx="165.8" cy="479.8" r="1.65"/><circle cx="123.7" cy="464.1" r="1.65"/><circle cx="115.6" cy="407.0" r="1.65"/><circle cx="134.9" cy="469.3" r="1.65"/><circle cx="214.9" cy="461.8" r="1.65"/><circle cx="137.1" cy="501.8" r="1.65"/><circle cx="133.2" cy="449.7" r="1.65"/><circle cx="139.9" cy="426.9" r="1.65"/><circle cx="101.9" cy="493.3" r="1.65"/><circle cx="149.3" cy="446.2" r="1.65"/><circle cx="100.9" cy="456.7" r="1.65"/><circle cx="126.7" cy="453.8" r="1.65"/><circle cx="138.4" cy="448.7" r="1.65"/><circle cx="112.4" cy="440.7" r="1.65"/><circle cx="118.4" cy="453.8" r="1.65"/><circle cx="152.4" cy="458.1" r="1.65"/><circle cx="116.9" cy="454.8" r="1.65"/><circle cx="187.5" cy="439.1" r="1.65"/><circle cx="177.4" cy="528.3" r="1.65"/><circle cx="121.8" cy="439.3" r="1.65"/><circle cx="168.8" cy="492.4" r="1.65"/><circle cx="175.1" cy="469.6" r="1.65"/><circle cx="167.0" cy="454.3" r="1.65"/><circle cx="139.9" cy="488.5" r="1.65"/><circle cx="131.8" cy="530.9" r="1.65"/><circle cx="163.0" cy="475.8" r="1.65"/><circle cx="167.6" cy="464.7" r="1.65"/><circle cx="153.2" cy="450.3" r="1.65"/><circle cx="135.7" cy="516.1" r="1.65"/><circle cx="121.3" cy="445.9" r="1.65"/><circle cx="111.7" cy="413.5" r="1.65"/><circle cx="97.2" cy="418.6" r="1.65"/><circle cx="145.9" cy="409.7" r="1.65"/><circle cx="144.3" cy="468.9" r="1.65"/><circle cx="115.0" cy="452.9" r="1.65"/><circle cx="143.9" cy="485.1" r="1.65"/><circle cx="119.0" cy="575.9" r="1.65"/><circle cx="141.7" cy="468.1" r="1.65"/><circle cx="162.0" cy="427.8" r="1.65"/><circle cx="153.0" cy="407.5" r="1.65"/><circle cx="161.3" cy="432.7" r="1.65"/><circle cx="160.7" cy="475.3" r="1.65"/><circle cx="144.0" cy="433.2" r="1.65"/><circle cx="159.6" cy="479.8" r="1.65"/><circle cx="160.2" cy="499.6" r="1.65"/><circle cx="181.0" cy="449.9" r="1.65"/><circle cx="122.5" cy="433.4" r="1.65"/><circle cx="147.6" cy="451.8" r="1.65"/><circle cx="216.2" cy="481.3" r="1.65"/><circle cx="158.7" cy="444.1" r="1.65"/><circle cx="134.2" cy="462.7" r="1.65"/><circle cx="170.0" cy="454.5" r="1.65"/><circle cx="158.7" cy="478.9" r="1.65"/><circle cx="155.1" cy="453.1" r="1.65"/><circle cx="151.0" cy="463.7" r="1.65"/><circle cx="102.8" cy="410.9" r="1.65"/><circle cx="109.7" cy="423.1" r="1.65"/><circle cx="197.7" cy="472.4" r="1.65"/><circle cx="153.9" cy="482.4" r="1.65"/><circle cx="104.8" cy="429.8" r="1.65"/><circle cx="170.5" cy="502.1" r="1.65"/><circle cx="190.6" cy="497.2" r="1.65"/><circle cx="142.5" cy="439.2" r="1.65"/><circle cx="162.4" cy="409.1" r="1.65"/><circle cx="152.7" cy="445.4" r="1.65"/><circle cx="178.5" cy="466.7" r="1.65"/><circle cx="182.5" cy="455.9" r="1.65"/><circle cx="124.2" cy="466.6" r="1.65"/><circle cx="150.4" cy="420.3" r="1.65"/><circle cx="158.5" cy="422.0" r="1.65"/><circle cx="137.5" cy="480.3" r="1.65"/><circle cx="170.6" cy="450.5" r="1.65"/><circle cx="120.4" cy="466.7" r="1.65"/><circle cx="182.3" cy="473.7" r="1.65"/><circle cx="120.3" cy="449.6" r="1.65"/><circle cx="152.6" cy="460.3" r="1.65"/><circle cx="90.9" cy="547.4" r="1.65"/><circle cx="181.7" cy="421.1" r="1.65"/><circle cx="127.9" cy="445.9" r="1.65"/><circle cx="168.8" cy="427.3" r="1.65"/><circle cx="168.1" cy="476.0" r="1.65"/><circle cx="171.4" cy="438.9" r="1.65"/><circle cx="180.5" cy="438.6" r="1.65"/><circle cx="162.0" cy="436.2" r="1.65"/><circle cx="159.0" cy="404.8" r="1.65"/><circle cx="154.8" cy="462.1" r="1.65"/><circle cx="161.6" cy="476.7" r="1.65"/><circle cx="148.4" cy="453.8" r="1.65"/><circle cx="191.1" cy="479.9" r="1.65"/><circle cx="144.0" cy="484.3" r="1.65"/><circle cx="148.1" cy="432.2" r="1.65"/><circle cx="121.9" cy="420.6" r="1.65"/><circle cx="131.0" cy="414.8" r="1.65"/><circle cx="191.4" cy="476.6" r="1.65"/><circle cx="173.6" cy="476.5" r="1.65"/><circle cx="126.3" cy="463.0" r="1.65"/><circle cx="122.0" cy="458.1" r="1.65"/><circle cx="160.1" cy="488.9" r="1.65"/><circle cx="177.7" cy="495.4" r="1.65"/><circle cx="127.8" cy="510.4" r="1.65"/><circle cx="129.7" cy="419.6" r="1.65"/><circle cx="148.6" cy="419.8" r="1.65"/><circle cx="127.1" cy="459.7" r="1.65"/><circle cx="96.2" cy="501.9" r="1.65"/><circle cx="142.4" cy="509.9" r="1.65"/><circle cx="156.8" cy="416.7" r="1.65"/><circle cx="140.2" cy="481.5" r="1.65"/><circle cx="124.4" cy="436.4" r="1.65"/><circle cx="128.5" cy="427.4" r="1.65"/><circle cx="138.2" cy="449.9" r="1.65"/><circle cx="131.5" cy="437.5" r="1.65"/><circle cx="77.7" cy="496.9" r="1.65"/><circle cx="172.3" cy="487.1" r="1.65"/><circle cx="197.3" cy="488.4" r="1.65"/><circle cx="180.1" cy="433.6" r="1.65"/><circle cx="121.4" cy="507.3" r="1.65"/><circle cx="151.6" cy="504.2" r="1.65"/><circle cx="168.8" cy="453.3" r="1.65"/><circle cx="156.3" cy="468.7" r="1.65"/><circle cx="110.1" cy="449.0" r="1.65"/><circle cx="170.0" cy="487.1" r="1.65"/><circle cx="190.5" cy="463.7" r="1.65"/><circle cx="112.2" cy="429.0" r="1.65"/><circle cx="156.5" cy="496.7" r="1.65"/><circle cx="164.2" cy="508.5" r="1.65"/><circle cx="219.6" cy="540.2" r="1.65"/><circle cx="145.9" cy="488.0" r="1.65"/><circle cx="193.3" cy="435.4" r="1.65"/><circle cx="129.5" cy="419.1" r="1.65"/><circle cx="148.5" cy="484.7" r="1.65"/><circle cx="129.7" cy="499.1" r="1.65"/><circle cx="160.2" cy="424.6" r="1.65"/><circle cx="181.1" cy="457.8" r="1.65"/><circle cx="160.5" cy="502.7" r="1.65"/><circle cx="102.1" cy="504.9" r="1.65"/><circle cx="169.5" cy="465.0" r="1.65"/><circle cx="120.2" cy="451.0" r="1.65"/><circle cx="170.8" cy="488.3" r="1.65"/><circle cx="129.5" cy="465.8" r="1.65"/><circle cx="154.1" cy="460.6" r="1.65"/><circle cx="141.0" cy="470.2" r="1.65"/><circle cx="172.6" cy="471.7" r="1.65"/><circle cx="126.6" cy="449.4" r="1.65"/><circle cx="161.3" cy="488.6" r="1.65"/><circle cx="166.2" cy="437.4" r="1.65"/><circle cx="123.7" cy="491.8" r="1.65"/><circle cx="140.3" cy="497.4" r="1.65"/><circle cx="114.5" cy="473.9" r="1.65"/><circle cx="163.0" cy="491.6" r="1.65"/><circle cx="132.3" cy="430.0" r="1.65"/><circle cx="185.6" cy="421.6" r="1.65"/><circle cx="169.9" cy="471.6" r="1.65"/><circle cx="168.5" cy="427.0" r="1.65"/><circle cx="94.6" cy="485.6" r="1.65"/><circle cx="119.5" cy="469.5" r="1.65"/><circle cx="99.6" cy="453.4" r="1.65"/><circle cx="161.6" cy="407.0" r="1.65"/><circle cx="141.2" cy="446.0" r="1.65"/><circle cx="120.3" cy="472.9" r="1.65"/><circle cx="135.9" cy="444.6" r="1.65"/><circle cx="135.4" cy="515.5" r="1.65"/><circle cx="147.0" cy="430.7" r="1.65"/><circle cx="123.4" cy="474.1" r="1.65"/><circle cx="143.5" cy="477.5" r="1.65"/><circle cx="162.6" cy="497.4" r="1.65"/><circle cx="142.6" cy="434.7" r="1.65"/><circle cx="141.2" cy="434.4" r="1.65"/><circle cx="141.3" cy="447.7" r="1.65"/><circle cx="143.5" cy="451.5" r="1.65"/><circle cx="175.9" cy="464.2" r="1.65"/><circle cx="174.7" cy="493.8" r="1.65"/><circle cx="93.5" cy="487.4" r="1.65"/><circle cx="149.9" cy="458.6" r="1.65"/><circle cx="204.6" cy="462.8" r="1.65"/><circle cx="132.6" cy="495.6" r="1.65"/><circle cx="121.6" cy="464.3" r="1.65"/><circle cx="133.7" cy="486.6" r="1.65"/><circle cx="144.2" cy="441.8" r="1.65"/><circle cx="125.3" cy="479.4" r="1.65"/><circle cx="161.1" cy="420.7" r="1.65"/><circle cx="162.7" cy="475.9" r="1.65"/><circle cx="148.0" cy="491.9" r="1.65"/><circle cx="117.0" cy="509.7" r="1.65"/><circle cx="166.8" cy="441.8" r="1.65"/><circle cx="148.1" cy="492.8" r="1.65"/><circle cx="128.5" cy="446.4" r="1.65"/><circle cx="143.2" cy="487.5" r="1.65"/><circle cx="137.5" cy="522.9" r="1.65"/><circle cx="123.1" cy="439.3" r="1.65"/><circle cx="196.0" cy="503.9" r="1.65"/><circle cx="173.0" cy="460.8" r="1.65"/><circle cx="104.0" cy="470.8" r="1.65"/><circle cx="112.9" cy="446.1" r="1.65"/><circle cx="149.4" cy="491.3" r="1.65"/><circle cx="120.6" cy="444.0" r="1.65"/><circle cx="184.9" cy="479.1" r="1.65"/><circle cx="113.5" cy="486.8" r="1.65"/><circle cx="120.8" cy="449.2" r="1.65"/><circle cx="135.5" cy="470.1" r="1.65"/><circle cx="145.0" cy="418.2" r="1.65"/><circle cx="127.5" cy="551.3" r="1.65"/><circle cx="170.2" cy="421.7" r="1.65"/><circle cx="183.0" cy="471.9" r="1.65"/><circle cx="168.8" cy="417.9" r="1.65"/><circle cx="174.8" cy="438.3" r="1.65"/><circle cx="131.5" cy="403.5" r="1.65"/><circle cx="130.7" cy="454.1" r="1.65"/><circle cx="136.5" cy="459.8" r="1.65"/><circle cx="148.8" cy="429.2" r="1.65"/><circle cx="199.7" cy="491.8" r="1.65"/><circle cx="134.9" cy="409.3" r="1.65"/><circle cx="143.7" cy="470.6" r="1.65"/><circle cx="154.7" cy="502.8" r="1.65"/><circle cx="137.8" cy="424.5" r="1.65"/><circle cx="125.8" cy="442.9" r="1.65"/><circle cx="113.1" cy="465.4" r="1.65"/><circle cx="130.2" cy="455.0" r="1.65"/><circle cx="172.0" cy="465.3" r="1.65"/><circle cx="147.3" cy="409.9" r="1.65"/><circle cx="137.9" cy="453.3" r="1.65"/><circle cx="107.4" cy="508.1" r="1.65"/><circle cx="188.7" cy="456.1" r="1.65"/><circle cx="132.3" cy="449.2" r="1.65"/><circle cx="131.4" cy="447.2" r="1.65"/><circle cx="210.3" cy="457.2" r="1.65"/><circle cx="173.6" cy="429.3" r="1.65"/><circle cx="124.4" cy="493.1" r="1.65"/><circle cx="157.0" cy="491.1" r="1.65"/><circle cx="98.9" cy="447.2" r="1.65"/><circle cx="104.5" cy="425.9" r="1.65"/><circle cx="147.2" cy="449.6" r="1.65"/><circle cx="178.4" cy="456.9" r="1.65"/><circle cx="152.4" cy="485.2" r="1.65"/><circle cx="191.0" cy="440.3" r="1.65"/><circle cx="171.6" cy="563.3" r="1.65"/><circle cx="156.6" cy="423.8" r="1.65"/><circle cx="117.6" cy="448.9" r="1.65"/><circle cx="162.9" cy="458.3" r="1.65"/><circle cx="135.2" cy="488.7" r="1.65"/><circle cx="171.8" cy="481.6" r="1.65"/><circle cx="152.6" cy="465.8" r="1.65"/><circle cx="169.8" cy="447.6" r="1.65"/><circle cx="143.4" cy="433.7" r="1.65"/><circle cx="185.3" cy="413.4" r="1.65"/><circle cx="209.1" cy="453.1" r="1.65"/><circle cx="132.4" cy="429.2" r="1.65"/><circle cx="154.1" cy="508.4" r="1.65"/><circle cx="215.1" cy="469.2" r="1.65"/><circle cx="155.2" cy="505.6" r="1.65"/><circle cx="124.5" cy="428.8" r="1.65"/><circle cx="143.3" cy="455.8" r="1.65"/><circle cx="182.8" cy="442.4" r="1.65"/><circle cx="115.8" cy="473.9" r="1.65"/><circle cx="155.3" cy="493.0" r="1.65"/><circle cx="131.6" cy="489.5" r="1.65"/><circle cx="138.4" cy="495.2" r="1.65"/><circle cx="158.8" cy="446.5" r="1.65"/><circle cx="154.9" cy="457.5" r="1.65"/><circle cx="159.2" cy="502.9" r="1.65"/><circle cx="123.7" cy="521.3" r="1.65"/><circle cx="158.0" cy="438.6" r="1.65"/><circle cx="156.1" cy="448.9" r="1.65"/><circle cx="178.1" cy="441.1" r="1.65"/><circle cx="112.4" cy="455.1" r="1.65"/><circle cx="183.3" cy="481.5" r="1.65"/><circle cx="103.3" cy="439.4" r="1.65"/><circle cx="157.4" cy="474.7" r="1.65"/><circle cx="141.8" cy="458.5" r="1.65"/><circle cx="124.9" cy="448.9" r="1.65"/><circle cx="131.8" cy="407.5" r="1.65"/><circle cx="157.0" cy="502.2" r="1.65"/><circle cx="161.2" cy="421.7" r="1.65"/><circle cx="145.3" cy="469.6" r="1.65"/><circle cx="154.6" cy="521.0" r="1.65"/><circle cx="147.5" cy="495.0" r="1.65"/><circle cx="102.6" cy="492.0" r="1.65"/><circle cx="174.0" cy="476.1" r="1.65"/><circle cx="128.0" cy="496.4" r="1.65"/><circle cx="143.7" cy="491.5" r="1.65"/><circle cx="80.8" cy="434.8" r="1.65"/><circle cx="150.0" cy="468.3" r="1.65"/><circle cx="136.9" cy="506.3" r="1.65"/><circle cx="141.0" cy="409.8" r="1.65"/><circle cx="187.3" cy="498.1" r="1.65"/><circle cx="182.4" cy="448.9" r="1.65"/><circle cx="162.5" cy="453.1" r="1.65"/><circle cx="110.6" cy="448.2" r="1.65"/><circle cx="156.3" cy="421.1" r="1.65"/><circle cx="183.1" cy="473.6" r="1.65"/><circle cx="123.5" cy="461.1" r="1.65"/><circle cx="91.2" cy="511.8" r="1.65"/><circle cx="174.8" cy="456.8" r="1.65"/><circle cx="144.3" cy="427.8" r="1.65"/><circle cx="134.4" cy="435.3" r="1.65"/><circle cx="128.4" cy="494.9" r="1.65"/><circle cx="153.9" cy="473.7" r="1.65"/><circle cx="88.7" cy="457.6" r="1.65"/><circle cx="117.1" cy="465.6" r="1.65"/><circle cx="138.9" cy="440.3" r="1.65"/><circle cx="166.1" cy="476.9" r="1.65"/><circle cx="134.1" cy="443.8" r="1.65"/><circle cx="115.6" cy="476.5" r="1.65"/><circle cx="122.8" cy="426.6" r="1.65"/><circle cx="156.2" cy="481.6" r="1.65"/><circle cx="165.3" cy="444.6" r="1.65"/><circle cx="201.9" cy="409.6" r="1.65"/><circle cx="203.8" cy="482.3" r="1.65"/><circle cx="158.6" cy="459.2" r="1.65"/><circle cx="166.4" cy="503.2" r="1.65"/><circle cx="157.8" cy="405.4" r="1.65"/><circle cx="151.3" cy="427.0" r="1.65"/><circle cx="173.8" cy="440.8" r="1.65"/><circle cx="101.4" cy="454.1" r="1.65"/><circle cx="174.6" cy="420.5" r="1.65"/><circle cx="110.9" cy="425.5" r="1.65"/><circle cx="154.8" cy="461.9" r="1.65"/><circle cx="156.2" cy="474.0" r="1.65"/><circle cx="211.2" cy="435.0" r="1.65"/><circle cx="149.1" cy="510.7" r="1.65"/><circle cx="128.9" cy="512.6" r="1.65"/><circle cx="134.0" cy="436.8" r="1.65"/><circle cx="107.7" cy="510.0" r="1.65"/><circle cx="151.4" cy="444.8" r="1.65"/><circle cx="171.3" cy="432.7" r="1.65"/><circle cx="161.7" cy="421.9" r="1.65"/><circle cx="142.5" cy="426.8" r="1.65"/><circle cx="131.4" cy="479.5" r="1.65"/><circle cx="139.2" cy="443.2" r="1.65"/><circle cx="135.8" cy="427.1" r="1.65"/><circle cx="132.4" cy="427.1" r="1.65"/><circle cx="164.7" cy="414.0" r="1.65"/><circle cx="132.1" cy="471.6" r="1.65"/><circle cx="143.3" cy="488.4" r="1.65"/><circle cx="164.6" cy="428.9" r="1.65"/><circle cx="118.2" cy="467.6" r="1.65"/><circle cx="199.8" cy="486.7" r="1.65"/><circle cx="126.7" cy="446.2" r="1.65"/><circle cx="133.9" cy="495.3" r="1.65"/><circle cx="155.0" cy="447.7" r="1.65"/><circle cx="132.4" cy="472.8" r="1.65"/><circle cx="151.8" cy="446.9" r="1.65"/><circle cx="166.4" cy="488.4" r="1.65"/><circle cx="128.0" cy="456.5" r="1.65"/><circle cx="180.5" cy="418.2" r="1.65"/><circle cx="103.7" cy="442.8" r="1.65"/><circle cx="152.2" cy="453.0" r="1.65"/><circle cx="133.5" cy="474.1" r="1.65"/><circle cx="135.5" cy="485.4" r="1.65"/><circle cx="148.6" cy="501.0" r="1.65"/><circle cx="161.3" cy="469.1" r="1.65"/><circle cx="202.9" cy="453.7" r="1.65"/><circle cx="137.8" cy="436.9" r="1.65"/><circle cx="131.3" cy="458.6" r="1.65"/><circle cx="178.9" cy="418.1" r="1.65"/><circle cx="153.8" cy="516.2" r="1.65"/><circle cx="172.1" cy="463.9" r="1.65"/><circle cx="137.4" cy="455.9" r="1.65"/><circle cx="108.8" cy="509.6" r="1.65"/><circle cx="153.1" cy="502.9" r="1.65"/><circle cx="177.5" cy="425.3" r="1.65"/><circle cx="146.0" cy="401.2" r="1.65"/><circle cx="112.6" cy="432.2" r="1.65"/><circle cx="126.8" cy="484.3" r="1.65"/><circle cx="161.9" cy="466.2" r="1.65"/><circle cx="164.2" cy="461.1" r="1.65"/><circle cx="97.1" cy="449.2" r="1.65"/><circle cx="154.4" cy="472.9" r="1.65"/><circle cx="141.8" cy="415.4" r="1.65"/><circle cx="142.2" cy="469.6" r="1.65"/><circle cx="106.4" cy="470.6" r="1.65"/><circle cx="170.8" cy="475.4" r="1.65"/><circle cx="159.4" cy="484.9" r="1.65"/><circle cx="140.8" cy="405.7" r="1.65"/><circle cx="150.2" cy="511.7" r="1.65"/><circle cx="134.4" cy="438.2" r="1.65"/><circle cx="166.1" cy="484.6" r="1.65"/><circle cx="101.8" cy="446.9" r="1.65"/><circle cx="155.5" cy="516.2" r="1.65"/><circle cx="138.5" cy="489.7" r="1.65"/><circle cx="112.4" cy="471.4" r="1.65"/><circle cx="116.9" cy="479.6" r="1.65"/><circle cx="128.2" cy="471.9" r="1.65"/><circle cx="122.4" cy="499.0" r="1.65"/><circle cx="162.6" cy="482.2" r="1.65"/><circle cx="138.0" cy="469.2" r="1.65"/><circle cx="87.4" cy="460.8" r="1.65"/><circle cx="177.1" cy="517.9" r="1.65"/><circle cx="118.4" cy="414.7" r="1.65"/><circle cx="170.2" cy="456.9" r="1.65"/><circle cx="134.7" cy="437.5" r="1.65"/><circle cx="174.3" cy="473.5" r="1.65"/><circle cx="164.0" cy="501.7" r="1.65"/><circle cx="135.1" cy="477.7" r="1.65"/><circle cx="105.4" cy="447.0" r="1.65"/><circle cx="157.1" cy="462.3" r="1.65"/><circle cx="152.0" cy="485.8" r="1.65"/><circle cx="155.2" cy="474.6" r="1.65"/><circle cx="168.7" cy="436.4" r="1.65"/><circle cx="137.5" cy="451.8" r="1.65"/><circle cx="119.6" cy="426.1" r="1.65"/><circle cx="156.8" cy="420.1" r="1.65"/><circle cx="134.5" cy="461.6" r="1.65"/><circle cx="133.8" cy="457.0" r="1.65"/><circle cx="178.2" cy="462.0" r="1.65"/><circle cx="192.2" cy="438.1" r="1.65"/><circle cx="176.2" cy="452.4" r="1.65"/><circle cx="141.2" cy="488.8" r="1.65"/><circle cx="117.3" cy="476.9" r="1.65"/><circle cx="139.8" cy="483.5" r="1.65"/><circle cx="121.6" cy="409.4" r="1.65"/><circle cx="132.4" cy="440.1" r="1.65"/><circle cx="164.5" cy="446.0" r="1.65"/><circle cx="154.6" cy="409.8" r="1.65"/><circle cx="162.5" cy="437.9" r="1.65"/><circle cx="139.1" cy="411.3" r="1.65"/><circle cx="126.9" cy="520.1" r="1.65"/><circle cx="108.6" cy="490.0" r="1.65"/><circle cx="123.2" cy="512.6" r="1.65"/><circle cx="144.7" cy="439.4" r="1.65"/><circle cx="214.0" cy="502.3" r="1.65"/><circle cx="82.6" cy="470.0" r="1.65"/><circle cx="95.0" cy="454.4" r="1.65"/><circle cx="162.2" cy="470.9" r="1.65"/><circle cx="155.0" cy="461.5" r="1.65"/><circle cx="129.8" cy="458.6" r="1.65"/><circle cx="110.0" cy="459.8" r="1.65"/><circle cx="168.4" cy="441.2" r="1.65"/><circle cx="154.6" cy="423.5" r="1.65"/><circle cx="139.2" cy="476.0" r="1.65"/><circle cx="134.2" cy="480.6" r="1.65"/><circle cx="146.3" cy="494.1" r="1.65"/><circle cx="85.7" cy="470.7" r="1.65"/><circle cx="175.0" cy="528.1" r="1.65"/><circle cx="106.8" cy="409.2" r="1.65"/><circle cx="137.5" cy="482.8" r="1.65"/><circle cx="140.6" cy="476.6" r="1.65"/><circle cx="169.8" cy="440.9" r="1.65"/><circle cx="127.2" cy="485.4" r="1.65"/><circle cx="118.7" cy="475.4" r="1.65"/><circle cx="229.8" cy="495.9" r="1.65"/><circle cx="127.4" cy="453.4" r="1.65"/><circle cx="121.0" cy="442.5" r="1.65"/><circle cx="107.9" cy="492.4" r="1.65"/><circle cx="156.6" cy="497.4" r="1.65"/><circle cx="148.2" cy="442.7" r="1.65"/><circle cx="126.9" cy="440.9" r="1.65"/><circle cx="61.6" cy="489.9" r="1.65"/><circle cx="165.9" cy="433.6" r="1.65"/><circle cx="160.4" cy="471.3" r="1.65"/><circle cx="142.6" cy="406.4" r="1.65"/><circle cx="162.3" cy="501.2" r="1.65"/><circle cx="135.3" cy="443.3" r="1.65"/><circle cx="103.2" cy="460.6" r="1.65"/><circle cx="148.3" cy="467.2" r="1.65"/><circle cx="147.4" cy="486.1" r="1.65"/><circle cx="146.6" cy="497.5" r="1.65"/><circle cx="128.9" cy="461.4" r="1.65"/><circle cx="137.5" cy="479.4" r="1.65"/><circle cx="146.2" cy="476.1" r="1.65"/><circle cx="96.3" cy="442.9" r="1.65"/><circle cx="152.3" cy="440.4" r="1.65"/><circle cx="127.4" cy="454.4" r="1.65"/><circle cx="147.1" cy="470.3" r="1.65"/><circle cx="157.6" cy="431.9" r="1.65"/><circle cx="154.7" cy="439.9" r="1.65"/><circle cx="138.5" cy="442.1" r="1.65"/><circle cx="117.7" cy="477.5" r="1.65"/><circle cx="191.3" cy="470.0" r="1.65"/><circle cx="140.7" cy="443.4" r="1.65"/><circle cx="133.5" cy="490.6" r="1.65"/><circle cx="157.5" cy="467.1" r="1.65"/><circle cx="189.5" cy="509.9" r="1.65"/><circle cx="109.8" cy="499.4" r="1.65"/><circle cx="149.2" cy="480.3" r="1.65"/><circle cx="148.9" cy="463.6" r="1.65"/><circle cx="166.3" cy="500.4" r="1.65"/><circle cx="129.0" cy="478.8" r="1.65"/><circle cx="125.2" cy="418.7" r="1.65"/><circle cx="170.0" cy="458.6" r="1.65"/><circle cx="130.9" cy="466.9" r="1.65"/><circle cx="157.7" cy="436.2" r="1.65"/><circle cx="150.0" cy="467.9" r="1.65"/><circle cx="155.6" cy="446.0" r="1.65"/><circle cx="122.2" cy="474.4" r="1.65"/><circle cx="111.7" cy="544.7" r="1.65"/><circle cx="144.1" cy="436.7" r="1.65"/><circle cx="95.3" cy="415.2" r="1.65"/><circle cx="194.4" cy="459.7" r="1.65"/><circle cx="143.3" cy="500.9" r="1.65"/><circle cx="181.8" cy="482.5" r="1.65"/><circle cx="163.3" cy="443.9" r="1.65"/><circle cx="142.2" cy="510.1" r="1.65"/><circle cx="169.0" cy="512.4" r="1.65"/><circle cx="110.4" cy="476.4" r="1.65"/><circle cx="155.4" cy="456.9" r="1.65"/><circle cx="160.4" cy="416.7" r="1.65"/><circle cx="134.5" cy="433.6" r="1.65"/><circle cx="153.1" cy="439.6" r="1.65"/><circle cx="165.3" cy="435.8" r="1.65"/><circle cx="141.7" cy="428.5" r="1.65"/><circle cx="162.6" cy="452.9" r="1.65"/><circle cx="212.3" cy="500.6" r="1.65"/><circle cx="145.0" cy="489.5" r="1.65"/><circle cx="168.4" cy="427.1" r="1.65"/><circle cx="167.5" cy="458.8" r="1.65"/><circle cx="134.2" cy="468.9" r="1.65"/><circle cx="161.3" cy="428.1" r="1.65"/><circle cx="110.6" cy="501.9" r="1.65"/><circle cx="161.1" cy="444.6" r="1.65"/><circle cx="151.1" cy="422.6" r="1.65"/><circle cx="110.7" cy="479.0" r="1.65"/><circle cx="146.1" cy="474.2" r="1.65"/><circle cx="126.5" cy="465.6" r="1.65"/><circle cx="130.6" cy="483.1" r="1.65"/><circle cx="175.7" cy="450.1" r="1.65"/><circle cx="149.1" cy="406.6" r="1.65"/><circle cx="129.2" cy="414.5" r="1.65"/><circle cx="122.8" cy="430.0" r="1.65"/><circle cx="204.4" cy="479.8" r="1.65"/><circle cx="167.7" cy="459.8" r="1.65"/><circle cx="139.7" cy="433.2" r="1.65"/><circle cx="140.9" cy="531.3" r="1.65"/><circle cx="100.8" cy="461.3" r="1.65"/><circle cx="137.2" cy="469.5" r="1.65"/><circle cx="119.6" cy="437.1" r="1.65"/><circle cx="178.5" cy="465.4" r="1.65"/><circle cx="127.0" cy="436.5" r="1.65"/><circle cx="110.8" cy="467.4" r="1.65"/><circle cx="136.6" cy="460.0" r="1.65"/><circle cx="139.6" cy="470.6" r="1.65"/><circle cx="116.5" cy="490.0" r="1.65"/><circle cx="139.7" cy="488.9" r="1.65"/><circle cx="128.7" cy="452.9" r="1.65"/><circle cx="74.6" cy="477.7" r="1.65"/><circle cx="87.5" cy="471.0" r="1.65"/><circle cx="123.1" cy="437.1" r="1.65"/><circle cx="175.9" cy="449.8" r="1.65"/><circle cx="115.9" cy="495.4" r="1.65"/><circle cx="108.5" cy="505.5" r="1.65"/><circle cx="132.0" cy="483.9" r="1.65"/><circle cx="166.4" cy="431.4" r="1.65"/><circle cx="120.2" cy="438.2" r="1.65"/><circle cx="154.1" cy="441.5" r="1.65"/><circle cx="149.6" cy="427.1" r="1.65"/><circle cx="195.2" cy="447.7" r="1.65"/><circle cx="112.6" cy="471.6" r="1.65"/><circle cx="158.4" cy="488.6" r="1.65"/><circle cx="143.5" cy="468.6" r="1.65"/><circle cx="124.3" cy="495.2" r="1.65"/><circle cx="137.3" cy="478.4" r="1.65"/><circle cx="185.6" cy="490.1" r="1.65"/><circle cx="195.4" cy="530.3" r="1.65"/><circle cx="167.9" cy="448.5" r="1.65"/><circle cx="158.4" cy="497.0" r="1.65"/><circle cx="137.7" cy="510.4" r="1.65"/><circle cx="117.3" cy="491.3" r="1.65"/><circle cx="100.1" cy="433.1" r="1.65"/><circle cx="139.1" cy="462.2" r="1.65"/><circle cx="153.9" cy="463.9" r="1.65"/><circle cx="137.1" cy="439.9" r="1.65"/><circle cx="140.0" cy="469.8" r="1.65"/><circle cx="137.5" cy="478.8" r="1.65"/><circle cx="115.4" cy="480.2" r="1.65"/><circle cx="122.8" cy="477.2" r="1.65"/><circle cx="131.1" cy="455.1" r="1.65"/><circle cx="136.3" cy="424.4" r="1.65"/><circle cx="153.0" cy="480.6" r="1.65"/><circle cx="146.6" cy="420.6" r="1.65"/><circle cx="87.0" cy="475.2" r="1.65"/><circle cx="198.7" cy="481.7" r="1.65"/><circle cx="117.7" cy="437.6" r="1.65"/><circle cx="103.6" cy="430.4" r="1.65"/><circle cx="93.2" cy="424.3" r="1.65"/><circle cx="132.1" cy="448.7" r="1.65"/><circle cx="113.1" cy="497.9" r="1.65"/><circle cx="159.3" cy="472.9" r="1.65"/><circle cx="134.4" cy="449.1" r="1.65"/><circle cx="186.0" cy="413.5" r="1.65"/><circle cx="127.8" cy="536.4" r="1.65"/><circle cx="130.4" cy="489.1" r="1.65"/><circle cx="179.0" cy="487.1" r="1.65"/><circle cx="90.9" cy="483.4" r="1.65"/><circle cx="124.6" cy="449.4" r="1.65"/><circle cx="78.4" cy="450.0" r="1.65"/><circle cx="160.5" cy="425.2" r="1.65"/><circle cx="101.1" cy="453.9" r="1.65"/><circle cx="116.9" cy="487.9" r="1.65"/><circle cx="179.9" cy="420.7" r="1.65"/><circle cx="145.4" cy="438.7" r="1.65"/><circle cx="159.9" cy="485.6" r="1.65"/><circle cx="157.0" cy="471.5" r="1.65"/><circle cx="153.6" cy="470.4" r="1.65"/><circle cx="165.2" cy="441.6" r="1.65"/><circle cx="170.7" cy="537.7" r="1.65"/><circle cx="143.2" cy="417.0" r="1.65"/><circle cx="120.1" cy="435.3" r="1.65"/><circle cx="158.8" cy="490.5" r="1.65"/><circle cx="187.6" cy="456.7" r="1.65"/><circle cx="149.8" cy="427.3" r="1.65"/><circle cx="105.8" cy="500.8" r="1.65"/><circle cx="155.2" cy="481.2" r="1.65"/><circle cx="135.6" cy="444.1" r="1.65"/><circle cx="150.3" cy="435.1" r="1.65"/><circle cx="165.4" cy="410.7" r="1.65"/><circle cx="120.0" cy="420.0" r="1.65"/><circle cx="113.0" cy="458.9" r="1.65"/><circle cx="180.9" cy="472.9" r="1.65"/><circle cx="103.3" cy="454.9" r="1.65"/><circle cx="141.1" cy="419.5" r="1.65"/><circle cx="197.5" cy="429.3" r="1.65"/><circle cx="191.9" cy="466.8" r="1.65"/><circle cx="106.3" cy="447.1" r="1.65"/><circle cx="136.1" cy="496.8" r="1.65"/><circle cx="139.5" cy="480.6" r="1.65"/><circle cx="163.6" cy="419.8" r="1.65"/><circle cx="148.3" cy="444.1" r="1.65"/><circle cx="157.2" cy="426.4" r="1.65"/><circle cx="190.1" cy="494.9" r="1.65"/><circle cx="152.3" cy="509.0" r="1.65"/><circle cx="140.2" cy="444.1" r="1.65"/><circle cx="151.3" cy="447.7" r="1.65"/><circle cx="129.5" cy="509.4" r="1.65"/><circle cx="125.6" cy="507.3" r="1.65"/><circle cx="109.6" cy="408.9" r="1.65"/><circle cx="188.2" cy="458.7" r="1.65"/><circle cx="163.0" cy="472.4" r="1.65"/><circle cx="167.2" cy="438.2" r="1.65"/><circle cx="138.7" cy="482.5" r="1.65"/><circle cx="212.2" cy="458.8" r="1.65"/><circle cx="149.3" cy="442.8" r="1.65"/><circle cx="166.9" cy="532.5" r="1.65"/><circle cx="151.7" cy="515.0" r="1.65"/><circle cx="114.0" cy="446.4" r="1.65"/><circle cx="97.7" cy="475.5" r="1.65"/><circle cx="132.3" cy="454.0" r="1.65"/><circle cx="140.3" cy="474.3" r="1.65"/><circle cx="171.9" cy="458.8" r="1.65"/><circle cx="161.6" cy="494.7" r="1.65"/><circle cx="164.1" cy="476.1" r="1.65"/><circle cx="185.4" cy="459.4" r="1.65"/><circle cx="125.0" cy="490.1" r="1.65"/><circle cx="139.0" cy="474.8" r="1.65"/><circle cx="168.2" cy="454.6" r="1.65"/><circle cx="190.1" cy="444.7" r="1.65"/><circle cx="160.6" cy="473.9" r="1.65"/><circle cx="145.4" cy="405.9" r="1.65"/><circle cx="152.1" cy="440.9" r="1.65"/><circle cx="162.4" cy="492.4" r="1.65"/><circle cx="153.3" cy="434.7" r="1.65"/><circle cx="136.0" cy="466.4" r="1.65"/><circle cx="108.3" cy="460.1" r="1.65"/><circle cx="103.2" cy="485.0" r="1.65"/><circle cx="147.2" cy="468.4" r="1.65"/><circle cx="146.5" cy="446.1" r="1.65"/><circle cx="136.5" cy="483.8" r="1.65"/><circle cx="184.1" cy="477.4" r="1.65"/><circle cx="161.5" cy="462.0" r="1.65"/><circle cx="140.6" cy="469.4" r="1.65"/><circle cx="122.6" cy="473.5" r="1.65"/><circle cx="189.2" cy="414.4" r="1.65"/><circle cx="121.2" cy="470.4" r="1.65"/><circle cx="121.2" cy="549.0" r="1.65"/><circle cx="158.5" cy="515.3" r="1.65"/><circle cx="145.1" cy="466.5" r="1.65"/><circle cx="149.4" cy="461.4" r="1.65"/><circle cx="161.1" cy="465.7" r="1.65"/><circle cx="173.0" cy="454.6" r="1.65"/><circle cx="146.2" cy="496.7" r="1.65"/><circle cx="98.6" cy="503.0" r="1.65"/><circle cx="162.1" cy="500.1" r="1.65"/><circle cx="208.8" cy="464.4" r="1.65"/><circle cx="114.9" cy="424.3" r="1.65"/><circle cx="156.8" cy="418.9" r="1.65"/><circle cx="137.4" cy="468.9" r="1.65"/><circle cx="186.5" cy="416.1" r="1.65"/><circle cx="102.5" cy="441.5" r="1.65"/><circle cx="159.9" cy="439.6" r="1.65"/><circle cx="138.5" cy="469.2" r="1.65"/><circle cx="150.3" cy="474.9" r="1.65"/><circle cx="123.1" cy="487.6" r="1.65"/><circle cx="200.9" cy="439.4" r="1.65"/><circle cx="142.8" cy="430.6" r="1.65"/><circle cx="158.9" cy="449.4" r="1.65"/><circle cx="114.4" cy="475.7" r="1.65"/><circle cx="175.1" cy="477.7" r="1.65"/><circle cx="114.5" cy="486.5" r="1.65"/><circle cx="146.1" cy="460.6" r="1.65"/><circle cx="129.8" cy="456.9" r="1.65"/><circle cx="127.7" cy="487.9" r="1.65"/><circle cx="139.2" cy="464.3" r="1.65"/><circle cx="185.6" cy="420.7" r="1.65"/><circle cx="172.0" cy="425.4" r="1.65"/><circle cx="101.7" cy="424.7" r="1.65"/><circle cx="100.7" cy="500.1" r="1.65"/><circle cx="191.3" cy="409.4" r="1.65"/><circle cx="141.4" cy="446.5" r="1.65"/><circle cx="168.1" cy="484.3" r="1.65"/><circle cx="173.5" cy="511.2" r="1.65"/><circle cx="124.9" cy="427.5" r="1.65"/><circle cx="132.6" cy="431.3" r="1.65"/><circle cx="156.7" cy="519.3" r="1.65"/><circle cx="169.2" cy="419.1" r="1.65"/><circle cx="119.0" cy="475.9" r="1.65"/><circle cx="145.4" cy="426.7" r="1.65"/><circle cx="144.4" cy="485.6" r="1.65"/><circle cx="164.2" cy="447.1" r="1.65"/><circle cx="162.4" cy="437.1" r="1.65"/><circle cx="153.8" cy="445.5" r="1.65"/><circle cx="161.1" cy="451.5" r="1.65"/><circle cx="133.1" cy="439.1" r="1.65"/><circle cx="131.8" cy="464.1" r="1.65"/><circle cx="138.4" cy="513.0" r="1.65"/><circle cx="155.8" cy="479.3" r="1.65"/><circle cx="117.8" cy="453.1" r="1.65"/><circle cx="107.5" cy="448.8" r="1.65"/><circle cx="162.1" cy="450.0" r="1.65"/><circle cx="166.6" cy="444.1" r="1.65"/><circle cx="130.8" cy="464.8" r="1.65"/><circle cx="160.9" cy="489.3" r="1.65"/><circle cx="130.7" cy="493.2" r="1.65"/><circle cx="113.8" cy="423.1" r="1.65"/><circle cx="142.3" cy="439.4" r="1.65"/><circle cx="110.1" cy="442.4" r="1.65"/><circle cx="147.1" cy="472.8" r="1.65"/><circle cx="143.6" cy="450.2" r="1.65"/><circle cx="143.8" cy="439.7" r="1.65"/><circle cx="195.4" cy="491.9" r="1.65"/><circle cx="176.9" cy="452.3" r="1.65"/><circle cx="164.8" cy="473.9" r="1.65"/><circle cx="143.1" cy="481.2" r="1.65"/><circle cx="170.0" cy="452.6" r="1.65"/><circle cx="193.5" cy="443.8" r="1.65"/><circle cx="174.0" cy="405.7" r="1.65"/><circle cx="162.7" cy="463.4" r="1.65"/><circle cx="173.2" cy="427.2" r="1.65"/><circle cx="183.8" cy="454.4" r="1.65"/><circle cx="156.0" cy="458.9" r="1.65"/><circle cx="148.1" cy="459.9" r="1.65"/><circle cx="134.9" cy="454.9" r="1.65"/><circle cx="144.3" cy="478.1" r="1.65"/><circle cx="174.1" cy="485.9" r="1.65"/><circle cx="168.1" cy="516.5" r="1.65"/><circle cx="153.2" cy="472.9" r="1.65"/><circle cx="154.7" cy="445.3" r="1.65"/><circle cx="126.2" cy="479.3" r="1.65"/><circle cx="161.6" cy="477.6" r="1.65"/><circle cx="114.9" cy="468.4" r="1.65"/><circle cx="179.3" cy="477.9" r="1.65"/><circle cx="116.0" cy="444.3" r="1.65"/><circle cx="144.3" cy="450.7" r="1.65"/><circle cx="181.7" cy="477.5" r="1.65"/><circle cx="102.9" cy="486.4" r="1.65"/><circle cx="147.7" cy="432.9" r="1.65"/><circle cx="169.7" cy="443.5" r="1.65"/><circle cx="206.1" cy="469.5" r="1.65"/><circle cx="173.7" cy="491.7" r="1.65"/><circle cx="170.6" cy="473.7" r="1.65"/><circle cx="215.8" cy="431.1" r="1.65"/><circle cx="172.6" cy="407.6" r="1.65"/><circle cx="139.3" cy="451.7" r="1.65"/><circle cx="114.1" cy="471.2" r="1.65"/><circle cx="122.5" cy="501.7" r="1.65"/><circle cx="126.2" cy="490.0" r="1.65"/><circle cx="135.4" cy="431.4" r="1.65"/><circle cx="132.9" cy="480.4" r="1.65"/><circle cx="123.9" cy="489.7" r="1.65"/><circle cx="135.8" cy="460.5" r="1.65"/><circle cx="123.4" cy="425.8" r="1.65"/><circle cx="147.5" cy="486.1" r="1.65"/><circle cx="168.9" cy="472.5" r="1.65"/><circle cx="157.5" cy="467.3" r="1.65"/><circle cx="151.6" cy="482.2" r="1.65"/><circle cx="173.5" cy="523.4" r="1.65"/><circle cx="161.9" cy="414.5" r="1.65"/><circle cx="182.1" cy="464.0" r="1.65"/><circle cx="167.4" cy="506.4" r="1.65"/><circle cx="147.3" cy="466.3" r="1.65"/><circle cx="134.9" cy="407.6" r="1.65"/><circle cx="128.9" cy="447.0" r="1.65"/><circle cx="125.4" cy="452.8" r="1.65"/><circle cx="113.3" cy="489.7" r="1.65"/><circle cx="187.3" cy="492.6" r="1.65"/><circle cx="148.1" cy="454.3" r="1.65"/><circle cx="160.0" cy="415.2" r="1.65"/><circle cx="125.0" cy="438.6" r="1.65"/><circle cx="128.0" cy="447.9" r="1.65"/><circle cx="95.6" cy="495.6" r="1.65"/><circle cx="107.0" cy="426.3" r="1.65"/><circle cx="195.4" cy="464.5" r="1.65"/><circle cx="144.8" cy="416.9" r="1.65"/><circle cx="143.9" cy="455.8" r="1.65"/><circle cx="157.3" cy="462.2" r="1.65"/><circle cx="110.9" cy="470.7" r="1.65"/><circle cx="170.7" cy="466.4" r="1.65"/><circle cx="151.9" cy="509.2" r="1.65"/><circle cx="165.3" cy="455.7" r="1.65"/><circle cx="136.5" cy="462.4" r="1.65"/><circle cx="122.3" cy="489.9" r="1.65"/><circle cx="139.6" cy="454.4" r="1.65"/><circle cx="211.2" cy="427.8" r="1.65"/><circle cx="138.1" cy="452.8" r="1.65"/><circle cx="128.1" cy="500.0" r="1.65"/><circle cx="190.3" cy="504.4" r="1.65"/><circle cx="110.8" cy="529.2" r="1.65"/><circle cx="139.8" cy="524.0" r="1.65"/><circle cx="120.0" cy="483.2" r="1.65"/><circle cx="101.3" cy="520.7" r="1.65"/><circle cx="122.4" cy="505.8" r="1.65"/><circle cx="103.9" cy="529.9" r="1.65"/><circle cx="87.7" cy="506.4" r="1.65"/><circle cx="110.3" cy="530.8" r="1.65"/><circle cx="121.5" cy="502.2" r="1.65"/><circle cx="103.7" cy="554.7" r="1.65"/><circle cx="99.8" cy="512.3" r="1.65"/><circle cx="120.2" cy="535.7" r="1.65"/><circle cx="121.9" cy="528.3" r="1.65"/><circle cx="116.8" cy="536.1" r="1.65"/><circle cx="93.0" cy="518.1" r="1.65"/><circle cx="124.2" cy="521.7" r="1.65"/><circle cx="88.9" cy="510.5" r="1.65"/><circle cx="133.4" cy="532.0" r="1.65"/><circle cx="114.1" cy="523.4" r="1.65"/><circle cx="110.4" cy="522.0" r="1.65"/><circle cx="132.4" cy="512.1" r="1.65"/><circle cx="85.8" cy="527.2" r="1.65"/><circle cx="112.8" cy="541.1" r="1.65"/><circle cx="73.5" cy="507.1" r="1.65"/><circle cx="122.8" cy="514.6" r="1.65"/><circle cx="111.2" cy="500.3" r="1.65"/><circle cx="144.8" cy="500.9" r="1.65"/><circle cx="128.2" cy="493.6" r="1.65"/><circle cx="119.9" cy="511.2" r="1.65"/><circle cx="95.6" cy="527.8" r="1.65"/><circle cx="133.8" cy="505.8" r="1.65"/><circle cx="127.6" cy="522.5" r="1.65"/><circle cx="87.9" cy="530.5" r="1.65"/><circle cx="130.8" cy="549.5" r="1.65"/><circle cx="122.1" cy="534.7" r="1.65"/><circle cx="107.3" cy="541.6" r="1.65"/><circle cx="138.8" cy="518.7" r="1.65"/><circle cx="116.0" cy="478.8" r="1.65"/><circle cx="104.6" cy="517.4" r="1.65"/><circle cx="128.6" cy="517.8" r="1.65"/><circle cx="118.9" cy="546.2" r="1.65"/><circle cx="104.7" cy="534.7" r="1.65"/><circle cx="97.5" cy="516.3" r="1.65"/><circle cx="91.2" cy="504.7" r="1.65"/><circle cx="132.2" cy="525.3" r="1.65"/><circle cx="117.5" cy="514.9" r="1.65"/><circle cx="97.5" cy="525.1" r="1.65"/><circle cx="135.6" cy="524.4" r="1.65"/><circle cx="140.7" cy="510.0" r="1.65"/><circle cx="111.4" cy="527.3" r="1.65"/><circle cx="131.9" cy="523.8" r="1.65"/><circle cx="131.4" cy="559.9" r="1.65"/><circle cx="108.8" cy="548.8" r="1.65"/><circle cx="123.4" cy="523.1" r="1.65"/><circle cx="136.9" cy="537.0" r="1.65"/><circle cx="140.0" cy="503.1" r="1.65"/><circle cx="104.7" cy="496.5" r="1.65"/><circle cx="134.3" cy="538.3" r="1.65"/><circle cx="122.4" cy="519.5" r="1.65"/><circle cx="122.9" cy="522.5" r="1.65"/><circle cx="135.1" cy="524.6" r="1.65"/><circle cx="122.9" cy="525.7" r="1.65"/><circle cx="107.0" cy="553.7" r="1.65"/><circle cx="123.2" cy="523.4" r="1.65"/><circle cx="120.4" cy="521.3" r="1.65"/><circle cx="104.9" cy="539.4" r="1.65"/><circle cx="115.7" cy="548.6" r="1.65"/><circle cx="102.4" cy="520.7" r="1.65"/><circle cx="112.8" cy="521.6" r="1.65"/><circle cx="94.3" cy="530.9" r="1.65"/><circle cx="97.6" cy="504.2" r="1.65"/><circle cx="115.4" cy="523.3" r="1.65"/><circle cx="127.3" cy="500.5" r="1.65"/><circle cx="96.7" cy="516.0" r="1.65"/><circle cx="100.1" cy="536.5" r="1.65"/><circle cx="108.6" cy="534.4" r="1.65"/><circle cx="129.1" cy="518.2" r="1.65"/><circle cx="96.8" cy="532.8" r="1.65"/><circle cx="106.8" cy="502.6" r="1.65"/><circle cx="137.6" cy="481.9" r="1.65"/><circle cx="88.3" cy="526.0" r="1.65"/><circle cx="150.1" cy="519.3" r="1.65"/><circle cx="123.4" cy="519.1" r="1.65"/><circle cx="112.6" cy="486.3" r="1.65"/><circle cx="97.3" cy="485.9" r="1.65"/><circle cx="114.6" cy="486.7" r="1.65"/><circle cx="105.5" cy="523.0" r="1.65"/><circle cx="94.3" cy="523.0" r="1.65"/><circle cx="125.8" cy="517.0" r="1.65"/><circle cx="120.8" cy="528.3" r="1.65"/><circle cx="127.5" cy="508.8" r="1.65"/><circle cx="160.9" cy="532.7" r="1.65"/><circle cx="134.8" cy="493.4" r="1.65"/><circle cx="144.6" cy="515.8" r="1.65"/><circle cx="119.2" cy="513.7" r="1.65"/><circle cx="130.7" cy="526.0" r="1.65"/><circle cx="120.9" cy="503.8" r="1.65"/><circle cx="134.9" cy="517.8" r="1.65"/><circle cx="102.1" cy="509.3" r="1.65"/><circle cx="113.0" cy="535.0" r="1.65"/><circle cx="124.2" cy="530.3" r="1.65"/><circle cx="102.9" cy="523.6" r="1.65"/><circle cx="85.3" cy="522.7" r="1.65"/><circle cx="124.0" cy="526.4" r="1.65"/><circle cx="111.7" cy="525.8" r="1.65"/><circle cx="135.0" cy="481.6" r="1.65"/><circle cx="100.4" cy="545.7" r="1.65"/><circle cx="133.8" cy="544.1" r="1.65"/><circle cx="101.4" cy="511.7" r="1.65"/><circle cx="114.3" cy="536.8" r="1.65"/><circle cx="129.6" cy="547.7" r="1.65"/><circle cx="141.0" cy="536.7" r="1.65"/><circle cx="119.7" cy="527.3" r="1.65"/><circle cx="138.8" cy="538.1" r="1.65"/><circle cx="102.7" cy="509.8" r="1.65"/><circle cx="142.2" cy="522.8" r="1.65"/><circle cx="120.7" cy="505.4" r="1.65"/><circle cx="115.7" cy="509.6" r="1.65"/><circle cx="90.0" cy="536.0" r="1.65"/><circle cx="127.7" cy="519.1" r="1.65"/><circle cx="100.6" cy="531.7" r="1.65"/><circle cx="135.6" cy="546.0" r="1.65"/><circle cx="103.6" cy="498.8" r="1.65"/><circle cx="127.7" cy="529.3" r="1.65"/><circle cx="112.5" cy="514.0" r="1.65"/><circle cx="89.9" cy="495.6" r="1.65"/><circle cx="98.5" cy="525.4" r="1.65"/><circle cx="126.5" cy="528.9" r="1.65"/><circle cx="141.1" cy="523.9" r="1.65"/><circle cx="116.5" cy="492.2" r="1.65"/><circle cx="104.8" cy="530.4" r="1.65"/><circle cx="134.2" cy="538.8" r="1.65"/><circle cx="115.6" cy="510.9" r="1.65"/><circle cx="120.4" cy="507.8" r="1.65"/><circle cx="116.1" cy="512.5" r="1.65"/><circle cx="97.1" cy="546.1" r="1.65"/><circle cx="152.4" cy="523.9" r="1.65"/><circle cx="145.2" cy="543.2" r="1.65"/><circle cx="114.0" cy="512.1" r="1.65"/><circle cx="153.8" cy="495.3" r="1.65"/><circle cx="104.5" cy="496.6" r="1.65"/><circle cx="129.6" cy="513.4" r="1.65"/><circle cx="149.7" cy="518.5" r="1.65"/><circle cx="115.5" cy="557.4" r="1.65"/><circle cx="127.2" cy="546.9" r="1.65"/><circle cx="132.8" cy="550.4" r="1.65"/><circle cx="106.6" cy="491.8" r="1.65"/><circle cx="113.3" cy="530.5" r="1.65"/><circle cx="130.1" cy="550.4" r="1.65"/><circle cx="131.8" cy="516.6" r="1.65"/><circle cx="129.5" cy="534.3" r="1.65"/><circle cx="109.6" cy="551.0" r="1.65"/><circle cx="148.5" cy="522.4" r="1.65"/><circle cx="92.8" cy="529.1" r="1.65"/><circle cx="90.7" cy="548.6" r="1.65"/><circle cx="110.0" cy="528.2" r="1.65"/><circle cx="104.7" cy="495.5" r="1.65"/><circle cx="102.9" cy="512.1" r="1.65"/><circle cx="102.9" cy="519.9" r="1.65"/><circle cx="83.1" cy="533.2" r="1.65"/><circle cx="93.7" cy="500.1" r="1.65"/><circle cx="111.9" cy="537.5" r="1.65"/><circle cx="134.6" cy="492.4" r="1.65"/><circle cx="115.2" cy="529.6" r="1.65"/><circle cx="124.4" cy="515.1" r="1.65"/><circle cx="98.8" cy="538.3" r="1.65"/><circle cx="169.3" cy="531.8" r="1.65"/><circle cx="126.3" cy="526.0" r="1.65"/><circle cx="92.8" cy="515.8" r="1.65"/><circle cx="107.9" cy="531.3" r="1.65"/><circle cx="141.3" cy="519.6" r="1.65"/><circle cx="118.4" cy="561.7" r="1.65"/><circle cx="122.0" cy="521.8" r="1.65"/><circle cx="104.0" cy="529.1" r="1.65"/><circle cx="125.2" cy="537.8" r="1.65"/><circle cx="115.3" cy="554.6" r="1.65"/><circle cx="103.6" cy="533.1" r="1.65"/><circle cx="114.7" cy="477.4" r="1.65"/><circle cx="171.6" cy="545.1" r="1.65"/><circle cx="141.4" cy="503.6" r="1.65"/><circle cx="140.3" cy="502.2" r="1.65"/><circle cx="116.2" cy="511.7" r="1.65"/><circle cx="134.3" cy="538.7" r="1.65"/><circle cx="116.1" cy="514.6" r="1.65"/><circle cx="147.9" cy="505.3" r="1.65"/><circle cx="100.3" cy="512.8" r="1.65"/><circle cx="116.0" cy="525.1" r="1.65"/><circle cx="116.9" cy="527.6" r="1.65"/><circle cx="128.6" cy="510.9" r="1.65"/><circle cx="118.6" cy="511.8" r="1.65"/><circle cx="100.6" cy="511.6" r="1.65"/><circle cx="126.0" cy="524.9" r="1.65"/><circle cx="121.9" cy="534.1" r="1.65"/><circle cx="121.1" cy="535.0" r="1.65"/><circle cx="149.2" cy="530.5" r="1.65"/><circle cx="127.8" cy="523.2" r="1.65"/><circle cx="133.5" cy="530.6" r="1.65"/><circle cx="118.7" cy="527.3" r="1.65"/><circle cx="116.5" cy="514.8" r="1.65"/><circle cx="157.4" cy="493.7" r="1.65"/><circle cx="101.6" cy="516.7" r="1.65"/><circle cx="136.7" cy="497.2" r="1.65"/><circle cx="131.0" cy="517.0" r="1.65"/><circle cx="121.0" cy="507.3" r="1.65"/><circle cx="111.3" cy="507.5" r="1.65"/><circle cx="129.9" cy="521.5" r="1.65"/><circle cx="93.5" cy="515.0" r="1.65"/><circle cx="109.3" cy="515.6" r="1.65"/><circle cx="112.5" cy="518.1" r="1.65"/><circle cx="112.6" cy="502.4" r="1.65"/><circle cx="102.1" cy="497.3" r="1.65"/><circle cx="121.5" cy="526.7" r="1.65"/><circle cx="136.6" cy="478.6" r="1.65"/><circle cx="100.6" cy="531.0" r="1.65"/><circle cx="120.3" cy="510.0" r="1.65"/><circle cx="122.7" cy="508.0" r="1.65"/><circle cx="110.9" cy="498.2" r="1.65"/><circle cx="120.3" cy="479.0" r="1.65"/><circle cx="107.8" cy="520.3" r="1.65"/><circle cx="121.8" cy="526.3" r="1.65"/><circle cx="134.1" cy="541.2" r="1.65"/><circle cx="107.1" cy="484.7" r="1.65"/><circle cx="115.1" cy="521.9" r="1.65"/><circle cx="141.1" cy="532.1" r="1.65"/><circle cx="88.1" cy="528.2" r="1.65"/><circle cx="97.4" cy="491.4" r="1.65"/><circle cx="123.8" cy="529.1" r="1.65"/><circle cx="133.5" cy="504.7" r="1.65"/><circle cx="94.3" cy="514.0" r="1.65"/><circle cx="102.7" cy="504.2" r="1.65"/><circle cx="138.8" cy="504.7" r="1.65"/><circle cx="121.8" cy="523.2" r="1.65"/><circle cx="142.1" cy="529.2" r="1.65"/><circle cx="155.6" cy="526.7" r="1.65"/><circle cx="115.1" cy="548.1" r="1.65"/><circle cx="134.5" cy="527.9" r="1.65"/><circle cx="114.3" cy="526.9" r="1.65"/><circle cx="127.3" cy="538.3" r="1.65"/><circle cx="97.4" cy="522.9" r="1.65"/><circle cx="118.6" cy="525.2" r="1.65"/><circle cx="107.3" cy="479.7" r="1.65"/><circle cx="104.8" cy="523.3" r="1.65"/><circle cx="122.3" cy="498.2" r="1.65"/><circle cx="122.3" cy="569.5" r="1.65"/><circle cx="141.9" cy="525.1" r="1.65"/><circle cx="113.8" cy="528.5" r="1.65"/><circle cx="110.2" cy="504.6" r="1.65"/><circle cx="124.9" cy="515.0" r="1.65"/><circle cx="113.1" cy="510.4" r="1.65"/><circle cx="128.2" cy="524.6" r="1.65"/><circle cx="210.5" cy="444.2" r="1.65"/><circle cx="231.6" cy="507.9" r="1.65"/><circle cx="224.2" cy="468.1" r="1.65"/><circle cx="232.7" cy="463.0" r="1.65"/><circle cx="219.1" cy="472.8" r="1.65"/><circle cx="243.1" cy="478.9" r="1.65"/><circle cx="231.2" cy="456.2" r="1.65"/><circle cx="226.8" cy="495.2" r="1.65"/><circle cx="211.7" cy="473.7" r="1.65"/><circle cx="223.7" cy="484.8" r="1.65"/><circle cx="204.7" cy="509.3" r="1.65"/><circle cx="221.6" cy="446.2" r="1.65"/><circle cx="214.6" cy="489.4" r="1.65"/><circle cx="211.8" cy="441.5" r="1.65"/><circle cx="231.8" cy="510.4" r="1.65"/><circle cx="218.3" cy="503.5" r="1.65"/><circle cx="221.7" cy="487.3" r="1.65"/><circle cx="239.0" cy="508.3" r="1.65"/><circle cx="214.7" cy="489.1" r="1.65"/><circle cx="218.0" cy="478.8" r="1.65"/><circle cx="221.3" cy="467.0" r="1.65"/><circle cx="202.6" cy="487.3" r="1.65"/><circle cx="220.3" cy="435.9" r="1.65"/><circle cx="224.4" cy="512.8" r="1.65"/><circle cx="221.9" cy="504.7" r="1.65"/><circle cx="224.7" cy="507.6" r="1.65"/><circle cx="228.0" cy="488.9" r="1.65"/><circle cx="208.7" cy="492.8" r="1.65"/><circle cx="239.0" cy="517.7" r="1.65"/><circle cx="218.0" cy="470.0" r="1.65"/><circle cx="230.6" cy="499.9" r="1.65"/><circle cx="227.3" cy="459.3" r="1.65"/><circle cx="216.7" cy="462.4" r="1.65"/><circle cx="207.2" cy="461.1" r="1.65"/><circle cx="225.9" cy="508.2" r="1.65"/><circle cx="203.6" cy="452.1" r="1.65"/><circle cx="214.0" cy="448.6" r="1.65"/><circle cx="228.3" cy="474.9" r="1.65"/><circle cx="224.4" cy="470.8" r="1.65"/><circle cx="221.1" cy="509.5" r="1.65"/><circle cx="222.9" cy="477.3" r="1.65"/><circle cx="219.6" cy="507.3" r="1.65"/><circle cx="210.6" cy="496.3" r="1.65"/><circle cx="219.9" cy="502.0" r="1.65"/><circle cx="234.7" cy="493.3" r="1.65"/><circle cx="224.7" cy="505.4" r="1.65"/><circle cx="224.2" cy="476.2" r="1.65"/><circle cx="222.8" cy="508.0" r="1.65"/><circle cx="228.1" cy="495.7" r="1.65"/><circle cx="228.4" cy="493.7" r="1.65"/><circle cx="218.6" cy="463.7" r="1.65"/><circle cx="221.3" cy="482.5" r="1.65"/><circle cx="210.4" cy="471.2" r="1.65"/><circle cx="225.4" cy="463.8" r="1.65"/><circle cx="228.2" cy="470.4" r="1.65"/><circle cx="229.5" cy="481.3" r="1.65"/><circle cx="213.5" cy="495.2" r="1.65"/><circle cx="217.7" cy="495.6" r="1.65"/><circle cx="211.4" cy="470.1" r="1.65"/><circle cx="199.1" cy="464.5" r="1.65"/><circle cx="216.2" cy="473.0" r="1.65"/><circle cx="217.9" cy="492.4" r="1.65"/><circle cx="198.2" cy="509.2" r="1.65"/><circle cx="218.1" cy="489.8" r="1.65"/><circle cx="224.7" cy="490.2" r="1.65"/><circle cx="230.9" cy="450.5" r="1.65"/><circle cx="213.7" cy="518.7" r="1.65"/><circle cx="214.1" cy="469.4" r="1.65"/><circle cx="233.0" cy="488.8" r="1.65"/><circle cx="226.7" cy="490.5" r="1.65"/><circle cx="194.5" cy="511.4" r="1.65"/><circle cx="216.8" cy="450.1" r="1.65"/><circle cx="209.2" cy="493.2" r="1.65"/><circle cx="219.6" cy="492.0" r="1.65"/><circle cx="220.7" cy="443.6" r="1.65"/><circle cx="205.9" cy="466.9" r="1.65"/><circle cx="224.1" cy="486.3" r="1.65"/><circle cx="214.0" cy="498.0" r="1.65"/><circle cx="237.4" cy="452.2" r="1.65"/><circle cx="215.5" cy="498.9" r="1.65"/><circle cx="184.8" cy="415.3" r="1.65"/><circle cx="149.9" cy="538.1" r="1.65"/><circle cx="111.2" cy="540.9" r="1.65"/><circle cx="231.8" cy="449.5" r="1.65"/><circle cx="136.0" cy="462.3" r="1.65"/><circle cx="120.5" cy="492.2" r="1.65"/><circle cx="138.2" cy="442.6" r="1.65"/><circle cx="242.1" cy="407.6" r="1.65"/><circle cx="107.3" cy="540.3" r="1.65"/><circle cx="186.5" cy="461.2" r="1.65"/><circle cx="110.3" cy="485.2" r="1.65"/><circle cx="143.7" cy="502.4" r="1.65"/><circle cx="111.6" cy="534.9" r="1.65"/><circle cx="95.7" cy="547.6" r="1.65"/><circle cx="225.7" cy="455.3" r="1.65"/><circle cx="147.4" cy="489.4" r="1.65"/><circle cx="131.1" cy="494.0" r="1.65"/><circle cx="237.0" cy="433.6" r="1.65"/><circle cx="186.4" cy="548.4" r="1.65"/><circle cx="94.2" cy="550.2" r="1.65"/><circle cx="110.7" cy="464.2" r="1.65"/><circle cx="148.5" cy="511.5" r="1.65"/><circle cx="186.5" cy="488.5" r="1.65"/><circle cx="157.9" cy="475.0" r="1.65"/><circle cx="167.6" cy="444.2" r="1.65"/><circle cx="183.0" cy="475.6" r="1.65"/><circle cx="145.5" cy="426.5" r="1.65"/><circle cx="144.0" cy="534.4" r="1.65"/><circle cx="105.4" cy="484.5" r="1.65"/><circle cx="157.7" cy="469.0" r="1.65"/><circle cx="232.6" cy="445.0" r="1.65"/><circle cx="182.8" cy="438.0" r="1.65"/><circle cx="140.1" cy="538.5" r="1.65"/><circle cx="109.8" cy="478.0" r="1.65"/><circle cx="227.0" cy="412.4" r="1.65"/><circle cx="175.0" cy="499.2" r="1.65"/><circle cx="124.3" cy="541.6" r="1.65"/><circle cx="173.1" cy="492.9" r="1.65"/><circle cx="236.8" cy="528.2" r="1.65"/><circle cx="236.0" cy="447.9" r="1.65"/><circle cx="171.5" cy="410.2" r="1.65"/><circle cx="171.3" cy="426.2" r="1.65"/><circle cx="174.3" cy="449.2" r="1.65"/><circle cx="162.7" cy="406.5" r="1.65"/><circle cx="244.1" cy="508.1" r="1.65"/><circle cx="152.9" cy="457.5" r="1.65"/><circle cx="240.4" cy="472.5" r="1.65"/><circle cx="100.9" cy="464.1" r="1.65"/><circle cx="208.5" cy="486.9" r="1.65"/><circle cx="131.6" cy="414.0" r="1.65"/><circle cx="233.5" cy="532.3" r="1.65"/><circle cx="206.9" cy="444.8" r="1.65"/><circle cx="224.2" cy="471.4" r="1.65"/><circle cx="135.0" cy="488.7" r="1.65"/><circle cx="89.1" cy="516.3" r="1.65"/><circle cx="201.5" cy="491.2" r="1.65"/><circle cx="137.7" cy="510.7" r="1.65"/><circle cx="189.3" cy="414.1" r="1.65"/><circle cx="106.9" cy="513.3" r="1.65"/><circle cx="139.2" cy="482.6" r="1.65"/><circle cx="169.4" cy="417.8" r="1.65"/><circle cx="195.6" cy="492.7" r="1.65"/><circle cx="195.7" cy="469.6" r="1.65"/><circle cx="116.7" cy="415.4" r="1.65"/><circle cx="172.4" cy="437.0" r="1.65"/><circle cx="101.4" cy="411.6" r="1.65"/><circle cx="97.3" cy="446.3" r="1.65"/><circle cx="195.2" cy="431.0" r="1.65"/><circle cx="163.9" cy="447.8" r="1.65"/><circle cx="197.9" cy="500.6" r="1.65"/><circle cx="180.7" cy="425.9" r="1.65"/><circle cx="140.9" cy="490.0" r="1.65"/><circle cx="147.2" cy="486.0" r="1.65"/><circle cx="94.1" cy="447.8" r="1.65"/><circle cx="207.5" cy="436.8" r="1.65"/><circle cx="121.5" cy="478.4" r="1.65"/><circle cx="167.3" cy="511.1" r="1.65"/><circle cx="165.4" cy="410.3" r="1.65"/><circle cx="96.1" cy="504.7" r="1.65"/><circle cx="153.2" cy="515.5" r="1.65"/><circle cx="228.7" cy="409.2" r="1.65"/><circle cx="232.6" cy="477.0" r="1.65"/><circle cx="125.1" cy="552.1" r="1.65"/><circle cx="146.3" cy="539.3" r="1.65"/><circle cx="180.8" cy="486.1" r="1.65"/><circle cx="152.2" cy="452.0" r="1.65"/><circle cx="184.5" cy="474.3" r="1.65"/><circle cx="106.8" cy="528.8" r="1.65"/><circle cx="161.6" cy="467.6" r="1.65"/><circle cx="139.3" cy="529.3" r="1.65"/><circle cx="165.8" cy="418.0" r="1.65"/><circle cx="170.2" cy="480.2" r="1.65"/><circle cx="189.5" cy="422.2" r="1.65"/><circle cx="175.3" cy="420.3" r="1.65"/><circle cx="191.5" cy="462.1" r="1.65"/><circle cx="132.2" cy="491.0" r="1.65"/><circle cx="209.4" cy="516.8" r="1.65"/><circle cx="135.0" cy="507.7" r="1.65"/><circle cx="118.7" cy="447.1" r="1.65"/><circle cx="136.5" cy="468.8" r="1.65"/><circle cx="108.7" cy="544.7" r="1.65"/><circle cx="166.5" cy="527.2" r="1.65"/><circle cx="95.5" cy="414.1" r="1.65"/><circle cx="212.6" cy="434.0" r="1.65"/><circle cx="196.1" cy="429.0" r="1.65"/><circle cx="110.0" cy="527.9" r="1.65"/><circle cx="104.9" cy="523.3" r="1.65"/><circle cx="209.9" cy="506.6" r="1.65"/><circle cx="89.1" cy="443.4" r="1.65"/><circle cx="130.2" cy="456.3" r="1.65"/><circle cx="213.0" cy="514.7" r="1.65"/><circle cx="91.7" cy="426.4" r="1.65"/><circle cx="235.9" cy="491.3" r="1.65"/><circle cx="199.2" cy="409.7" r="1.65"/><circle cx="112.4" cy="523.4" r="1.65"/><circle cx="116.0" cy="457.5" r="1.65"/><circle cx="103.7" cy="498.4" r="1.65"/><circle cx="211.5" cy="439.2" r="1.65"/><circle cx="231.6" cy="458.6" r="1.65"/><circle cx="239.8" cy="515.6" r="1.65"/><circle cx="113.8" cy="438.6" r="1.65"/><circle cx="222.0" cy="462.4" r="1.65"/><circle cx="174.3" cy="481.5" r="1.65"/><circle cx="92.4" cy="548.6" r="1.65"/><circle cx="119.0" cy="536.7" r="1.65"/><circle cx="106.0" cy="413.4" r="1.65"/><circle cx="200.8" cy="456.1" r="1.65"/><circle cx="204.9" cy="527.1" r="1.65"/><circle cx="222.7" cy="505.7" r="1.65"/><circle cx="105.9" cy="529.2" r="1.65"/><circle cx="217.4" cy="515.0" r="1.65"/><circle cx="180.4" cy="462.2" r="1.65"/><circle cx="119.1" cy="479.1" r="1.65"/><circle cx="155.6" cy="418.4" r="1.65"/><circle cx="85.8" cy="534.4" r="1.65"/><circle cx="239.5" cy="442.2" r="1.65"/><circle cx="158.6" cy="453.4" r="1.65"/><circle cx="138.9" cy="406.8" r="1.65"/><circle cx="172.6" cy="488.4" r="1.65"/><circle cx="227.5" cy="476.8" r="1.65"/><circle cx="197.8" cy="503.0" r="1.65"/><circle cx="115.2" cy="440.9" r="1.65"/><circle cx="131.1" cy="407.1" r="1.65"/><circle cx="108.4" cy="454.5" r="1.65"/><circle cx="163.4" cy="544.4" r="1.65"/><circle cx="223.5" cy="439.1" r="1.65"/><circle cx="94.1" cy="411.4" r="1.65"/><circle cx="240.9" cy="489.6" r="1.65"/><circle cx="219.2" cy="530.4" r="1.65"/><circle cx="119.0" cy="432.5" r="1.65"/><circle cx="139.8" cy="430.5" r="1.65"/><circle cx="179.0" cy="412.7" r="1.65"/><circle cx="112.7" cy="475.9" r="1.65"/><circle cx="209.7" cy="502.1" r="1.65"/><circle cx="173.7" cy="433.5" r="1.65"/><circle cx="196.0" cy="455.0" r="1.65"/><circle cx="243.5" cy="497.9" r="1.65"/><circle cx="144.6" cy="512.8" r="1.65"/><circle cx="157.9" cy="517.3" r="1.65"/><circle cx="154.8" cy="523.3" r="1.65"/><circle cx="196.2" cy="551.5" r="1.65"/><circle cx="192.0" cy="509.1" r="1.65"/><circle cx="108.3" cy="534.3" r="1.65"/><circle cx="234.0" cy="437.1" r="1.65"/><circle cx="178.9" cy="495.8" r="1.65"/><circle cx="184.7" cy="502.0" r="1.65"/><circle cx="240.5" cy="437.8" r="1.65"/><circle cx="127.1" cy="499.9" r="1.65"/><circle cx="106.3" cy="512.1" r="1.65"/><circle cx="178.5" cy="414.7" r="1.65"/><circle cx="271.5" cy="410.3" r="1.65"/><circle cx="265.7" cy="417.9" r="1.65"/><circle cx="254.0" cy="466.5" r="1.65"/><circle cx="519.0" cy="417.6" r="1.65"/><circle cx="536.9" cy="414.7" r="1.65"/><circle cx="524.3" cy="406.2" r="1.65"/><circle cx="527.5" cy="422.3" r="1.65"/><circle cx="527.3" cy="402.7" r="1.65"/><circle cx="515.3" cy="412.3" r="1.65"/><circle cx="526.3" cy="419.7" r="1.65"/><circle cx="531.6" cy="412.2" r="1.65"/><circle cx="534.4" cy="411.1" r="1.65"/><circle cx="513.0" cy="410.6" r="1.65"/><circle cx="534.8" cy="412.8" r="1.65"/><circle cx="534.1" cy="408.2" r="1.65"/><circle cx="505.0" cy="407.8" r="1.65"/><circle cx="506.3" cy="419.0" r="1.65"/><circle cx="526.5" cy="417.2" r="1.65"/><circle cx="519.2" cy="405.1" r="1.65"/><circle cx="516.3" cy="404.7" r="1.65"/><circle cx="547.3" cy="403.5" r="1.65"/><circle cx="515.8" cy="420.5" r="1.65"/><circle cx="525.3" cy="414.9" r="1.65"/><circle cx="526.3" cy="407.3" r="1.65"/><circle cx="540.4" cy="411.7" r="1.65"/><circle cx="526.2" cy="408.7" r="1.65"/><circle cx="527.9" cy="414.1" r="1.65"/><circle cx="508.6" cy="411.0" r="1.65"/><circle cx="521.1" cy="413.0" r="1.65"/><circle cx="524.4" cy="416.8" r="1.65"/><circle cx="533.5" cy="405.5" r="1.65"/><circle cx="533.2" cy="415.5" r="1.65"/><circle cx="529.4" cy="407.6" r="1.65"/><circle cx="526.5" cy="407.6" r="1.65"/><circle cx="512.4" cy="412.9" r="1.65"/><circle cx="543.0" cy="405.9" r="1.65"/><circle cx="526.2" cy="410.9" r="1.65"/><circle cx="550.7" cy="405.3" r="1.65"/><circle cx="520.1" cy="409.8" r="1.65"/><circle cx="522.8" cy="415.0" r="1.65"/><circle cx="514.8" cy="407.4" r="1.65"/><circle cx="551.5" cy="406.6" r="1.65"/><circle cx="513.8" cy="408.5" r="1.65"/><circle cx="512.2" cy="410.2" r="1.65"/><circle cx="539.1" cy="402.9" r="1.65"/><circle cx="529.2" cy="409.6" r="1.65"/><circle cx="528.0" cy="412.5" r="1.65"/><circle cx="544.6" cy="417.0" r="1.65"/><circle cx="552.2" cy="420.7" r="1.65"/><circle cx="538.0" cy="406.8" r="1.65"/><circle cx="523.4" cy="417.0" r="1.65"/><circle cx="529.6" cy="413.4" r="1.65"/><circle cx="536.7" cy="415.1" r="1.65"/><circle cx="540.6" cy="415.1" r="1.65"/><circle cx="545.4" cy="406.3" r="1.65"/><circle cx="540.1" cy="413.7" r="1.65"/><circle cx="525.5" cy="412.0" r="1.65"/><circle cx="540.6" cy="415.3" r="1.65"/><circle cx="519.6" cy="412.8" r="1.65"/><circle cx="531.8" cy="411.9" r="1.65"/><circle cx="527.3" cy="419.1" r="1.65"/><circle cx="521.3" cy="417.7" r="1.65"/><circle cx="539.1" cy="411.7" r="1.65"/><circle cx="535.2" cy="419.1" r="1.65"/><circle cx="527.5" cy="409.3" r="1.65"/><circle cx="516.6" cy="415.2" r="1.65"/><circle cx="522.4" cy="410.6" r="1.65"/><circle cx="530.9" cy="419.7" r="1.65"/><circle cx="531.4" cy="410.3" r="1.65"/><circle cx="531.0" cy="416.5" r="1.65"/><circle cx="527.1" cy="404.1" r="1.65"/><circle cx="540.2" cy="415.1" r="1.65"/><circle cx="545.0" cy="413.9" r="1.65"/><circle cx="518.3" cy="405.0" r="1.65"/><circle cx="525.4" cy="410.7" r="1.65"/><circle cx="535.7" cy="410.0" r="1.65"/><circle cx="523.6" cy="411.5" r="1.65"/><circle cx="527.7" cy="411.6" r="1.65"/><circle cx="527.6" cy="420.4" r="1.65"/><circle cx="537.4" cy="415.1" r="1.65"/><circle cx="525.3" cy="416.1" r="1.65"/><circle cx="525.7" cy="405.8" r="1.65"/><circle cx="541.4" cy="409.6" r="1.65"/><circle cx="529.7" cy="414.5" r="1.65"/><circle cx="524.9" cy="410.1" r="1.65"/><circle cx="526.3" cy="417.2" r="1.65"/><circle cx="528.6" cy="417.5" r="1.65"/><circle cx="550.1" cy="409.7" r="1.65"/><circle cx="521.9" cy="408.8" r="1.65"/><circle cx="519.9" cy="412.9" r="1.65"/><circle cx="544.5" cy="404.0" r="1.65"/><circle cx="515.3" cy="418.0" r="1.65"/><circle cx="528.6" cy="410.0" r="1.65"/><circle cx="522.5" cy="403.8" r="1.65"/><circle cx="538.2" cy="421.5" r="1.65"/><circle cx="518.9" cy="422.1" r="1.65"/><circle cx="515.5" cy="416.2" r="1.65"/><circle cx="513.6" cy="415.2" r="1.65"/><circle cx="535.3" cy="405.0" r="1.65"/><circle cx="529.1" cy="407.3" r="1.65"/><circle cx="513.4" cy="403.0" r="1.65"/><circle cx="552.4" cy="412.3" r="1.65"/><circle cx="534.0" cy="409.4" r="1.65"/><circle cx="504.7" cy="405.6" r="1.65"/><circle cx="533.0" cy="420.9" r="1.65"/><circle cx="523.4" cy="404.8" r="1.65"/><circle cx="534.1" cy="419.5" r="1.65"/><circle cx="521.8" cy="415.5" r="1.65"/><circle cx="529.5" cy="415.6" r="1.65"/><circle cx="528.4" cy="412.5" r="1.65"/><circle cx="512.0" cy="409.1" r="1.65"/><circle cx="530.6" cy="415.5" r="1.65"/><circle cx="510.9" cy="410.2" r="1.65"/><circle cx="536.8" cy="411.3" r="1.65"/><circle cx="522.5" cy="412.3" r="1.65"/><circle cx="520.9" cy="404.5" r="1.65"/><circle cx="504.9" cy="416.7" r="1.65"/><circle cx="523.0" cy="409.7" r="1.65"/><circle cx="531.6" cy="405.8" r="1.65"/><circle cx="526.5" cy="415.8" r="1.65"/><circle cx="527.2" cy="416.6" r="1.65"/><circle cx="522.1" cy="414.3" r="1.65"/><circle cx="531.1" cy="406.7" r="1.65"/><circle cx="516.1" cy="415.0" r="1.65"/><circle cx="527.6" cy="411.4" r="1.65"/><circle cx="525.1" cy="408.2" r="1.65"/><circle cx="525.5" cy="421.6" r="1.65"/><circle cx="541.9" cy="418.8" r="1.65"/><circle cx="545.4" cy="410.0" r="1.65"/><circle cx="531.3" cy="420.0" r="1.65"/><circle cx="530.8" cy="412.7" r="1.65"/><circle cx="518.9" cy="408.3" r="1.65"/><circle cx="535.9" cy="404.6" r="1.65"/><circle cx="514.8" cy="416.0" r="1.65"/><circle cx="542.7" cy="408.5" r="1.65"/><circle cx="536.6" cy="414.5" r="1.65"/><circle cx="531.7" cy="406.8" r="1.65"/><circle cx="515.0" cy="415.4" r="1.65"/><circle cx="530.7" cy="403.5" r="1.65"/><circle cx="523.5" cy="407.6" r="1.65"/><circle cx="519.2" cy="418.2" r="1.65"/><circle cx="534.8" cy="417.2" r="1.65"/><circle cx="528.5" cy="414.6" r="1.65"/><circle cx="533.6" cy="418.6" r="1.65"/><circle cx="513.3" cy="419.5" r="1.65"/><circle cx="526.0" cy="404.1" r="1.65"/><circle cx="536.8" cy="410.3" r="1.65"/><circle cx="526.6" cy="404.5" r="1.65"/><circle cx="527.0" cy="405.5" r="1.65"/><circle cx="542.3" cy="407.6" r="1.65"/><circle cx="532.2" cy="409.2" r="1.65"/><circle cx="527.1" cy="409.8" r="1.65"/><circle cx="518.7" cy="416.3" r="1.65"/><circle cx="544.5" cy="412.2" r="1.65"/><circle cx="510.1" cy="403.8" r="1.65"/><circle cx="542.2" cy="408.9" r="1.65"/><circle cx="539.3" cy="404.5" r="1.65"/><circle cx="525.3" cy="409.1" r="1.65"/><circle cx="525.0" cy="412.8" r="1.65"/><circle cx="515.6" cy="416.0" r="1.65"/><circle cx="522.5" cy="411.3" r="1.65"/><circle cx="538.3" cy="408.3" r="1.65"/><circle cx="508.9" cy="405.6" r="1.65"/><circle cx="512.0" cy="408.8" r="1.65"/><circle cx="525.8" cy="411.2" r="1.65"/><circle cx="522.8" cy="417.6" r="1.65"/><circle cx="544.9" cy="425.5" r="1.65"/><circle cx="518.4" cy="404.0" r="1.65"/><circle cx="527.6" cy="411.5" r="1.65"/><circle cx="518.7" cy="418.0" r="1.65"/><circle cx="534.0" cy="412.6" r="1.65"/><circle cx="531.3" cy="407.2" r="1.65"/><circle cx="509.6" cy="417.5" r="1.65"/><circle cx="520.6" cy="410.3" r="1.65"/><circle cx="535.0" cy="417.6" r="1.65"/><circle cx="525.3" cy="412.3" r="1.65"/><circle cx="526.5" cy="402.7" r="1.65"/><circle cx="519.8" cy="410.7" r="1.65"/><circle cx="503.1" cy="412.3" r="1.65"/><circle cx="528.9" cy="407.6" r="1.65"/><circle cx="522.2" cy="414.9" r="1.65"/><circle cx="514.8" cy="414.5" r="1.65"/><circle cx="552.8" cy="421.5" r="1.65"/><circle cx="509.6" cy="411.1" r="1.65"/><circle cx="517.6" cy="404.5" r="1.65"/><circle cx="522.9" cy="421.2" r="1.65"/><circle cx="504.1" cy="416.8" r="1.65"/><circle cx="520.8" cy="409.5" r="1.65"/><circle cx="536.6" cy="412.7" r="1.65"/><circle cx="519.6" cy="407.2" r="1.65"/><circle cx="543.5" cy="416.9" r="1.65"/><circle cx="534.0" cy="414.4" r="1.65"/><circle cx="499.6" cy="411.0" r="1.65"/><circle cx="487.9" cy="425.9" r="1.65"/><circle cx="517.9" cy="421.3" r="1.65"/><circle cx="531.9" cy="419.6" r="1.65"/><circle cx="507.0" cy="417.8" r="1.65"/><circle cx="507.6" cy="410.8" r="1.65"/><circle cx="446.4" cy="420.8" r="1.65"/><circle cx="483.8" cy="420.1" r="1.65"/><circle cx="495.5" cy="406.1" r="1.65"/><circle cx="472.5" cy="411.0" r="1.65"/><circle cx="487.4" cy="421.1" r="1.65"/><circle cx="460.6" cy="421.8" r="1.65"/><circle cx="470.0" cy="411.9" r="1.65"/><circle cx="533.4" cy="411.3" r="1.65"/><circle cx="514.2" cy="422.3" r="1.65"/><circle cx="513.1" cy="422.5" r="1.65"/><circle cx="473.8" cy="413.6" r="1.65"/><circle cx="480.5" cy="410.7" r="1.65"/><circle cx="499.6" cy="417.9" r="1.65"/><circle cx="481.9" cy="414.2" r="1.65"/><circle cx="502.3" cy="415.1" r="1.65"/><circle cx="523.2" cy="420.4" r="1.65"/><circle cx="462.7" cy="426.4" r="1.65"/><circle cx="472.5" cy="423.1" r="1.65"/><circle cx="471.6" cy="422.6" r="1.65"/><circle cx="483.1" cy="423.7" r="1.65"/><circle cx="477.5" cy="410.1" r="1.65"/><circle cx="526.8" cy="421.5" r="1.65"/><circle cx="494.2" cy="408.4" r="1.65"/><circle cx="503.6" cy="417.3" r="1.65"/><circle cx="504.5" cy="416.6" r="1.65"/><circle cx="479.6" cy="411.7" r="1.65"/><circle cx="480.6" cy="419.8" r="1.65"/><circle cx="502.9" cy="425.1" r="1.65"/><circle cx="512.6" cy="421.7" r="1.65"/><circle cx="472.2" cy="411.6" r="1.65"/><circle cx="511.2" cy="408.3" r="1.65"/><circle cx="527.3" cy="423.9" r="1.65"/><circle cx="489.2" cy="424.6" r="1.65"/><circle cx="477.4" cy="409.2" r="1.65"/><circle cx="502.4" cy="414.0" r="1.65"/><circle cx="504.8" cy="419.4" r="1.65"/><circle cx="524.9" cy="424.1" r="1.65"/><circle cx="510.6" cy="420.9" r="1.65"/><circle cx="485.7" cy="410.8" r="1.65"/><circle cx="475.7" cy="422.1" r="1.65"/><circle cx="522.7" cy="413.1" r="1.65"/><circle cx="495.9" cy="412.7" r="1.65"/><circle cx="508.8" cy="409.6" r="1.65"/><circle cx="505.7" cy="411.0" r="1.65"/><circle cx="501.5" cy="415.3" r="1.65"/><circle cx="520.5" cy="433.7" r="1.65"/><circle cx="513.5" cy="416.3" r="1.65"/><circle cx="498.2" cy="418.5" r="1.65"/><circle cx="477.0" cy="411.8" r="1.65"/><circle cx="465.3" cy="424.4" r="1.65"/><circle cx="492.9" cy="417.0" r="1.65"/><circle cx="459.3" cy="416.3" r="1.65"/><circle cx="512.5" cy="425.6" r="1.65"/><circle cx="493.8" cy="415.4" r="1.65"/><circle cx="506.6" cy="409.4" r="1.65"/><circle cx="538.7" cy="417.2" r="1.65"/><circle cx="492.5" cy="422.2" r="1.65"/><circle cx="514.5" cy="417.5" r="1.65"/><circle cx="502.7" cy="411.7" r="1.65"/><circle cx="488.1" cy="418.7" r="1.65"/><circle cx="495.4" cy="416.1" r="1.65"/><circle cx="492.9" cy="418.4" r="1.65"/><circle cx="490.5" cy="407.7" r="1.65"/><circle cx="477.3" cy="416.5" r="1.65"/><circle cx="491.9" cy="408.8" r="1.65"/><circle cx="479.5" cy="419.0" r="1.65"/><circle cx="479.8" cy="410.9" r="1.65"/><circle cx="506.9" cy="413.7" r="1.65"/><circle cx="499.2" cy="432.2" r="1.65"/><circle cx="457.6" cy="428.1" r="1.65"/><circle cx="481.6" cy="429.1" r="1.65"/><circle cx="491.8" cy="428.5" r="1.65"/><circle cx="490.2" cy="422.2" r="1.65"/><circle cx="503.4" cy="416.3" r="1.65"/><circle cx="464.8" cy="421.5" r="1.65"/><circle cx="458.4" cy="409.6" r="1.65"/><circle cx="513.6" cy="418.1" r="1.65"/><circle cx="433.4" cy="411.2" r="1.65"/><circle cx="533.4" cy="424.3" r="1.65"/><circle cx="502.4" cy="410.3" r="1.65"/><circle cx="492.3" cy="426.6" r="1.65"/><circle cx="486.5" cy="422.4" r="1.65"/><circle cx="504.3" cy="431.2" r="1.65"/><circle cx="503.5" cy="416.8" r="1.65"/><circle cx="454.2" cy="425.3" r="1.65"/><circle cx="504.0" cy="407.2" r="1.65"/><circle cx="495.6" cy="426.9" r="1.65"/><circle cx="491.8" cy="423.2" r="1.65"/><circle cx="433.9" cy="409.1" r="1.65"/><circle cx="467.6" cy="424.8" r="1.65"/><circle cx="534.1" cy="422.6" r="1.65"/><circle cx="470.8" cy="410.7" r="1.65"/><circle cx="535.0" cy="432.4" r="1.65"/><circle cx="464.9" cy="422.4" r="1.65"/><circle cx="509.7" cy="415.4" r="1.65"/><circle cx="518.1" cy="429.1" r="1.65"/><circle cx="488.2" cy="405.8" r="1.65"/><circle cx="447.1" cy="408.8" r="1.65"/><circle cx="471.0" cy="415.2" r="1.65"/><circle cx="465.7" cy="412.4" r="1.65"/><circle cx="509.7" cy="418.7" r="1.65"/><circle cx="530.5" cy="425.4" r="1.65"/><circle cx="514.6" cy="426.6" r="1.65"/><circle cx="514.1" cy="410.7" r="1.65"/><circle cx="473.8" cy="404.8" r="1.65"/><circle cx="490.1" cy="428.4" r="1.65"/><circle cx="483.5" cy="410.1" r="1.65"/><circle cx="492.4" cy="410.0" r="1.65"/><circle cx="525.5" cy="410.7" r="1.65"/><circle cx="504.5" cy="415.6" r="1.65"/><circle cx="502.9" cy="405.6" r="1.65"/><circle cx="477.3" cy="418.8" r="1.65"/><circle cx="510.8" cy="425.1" r="1.65"/><circle cx="515.7" cy="417.0" r="1.65"/><circle cx="503.6" cy="422.1" r="1.65"/><circle cx="486.7" cy="407.5" r="1.65"/><circle cx="465.7" cy="409.0" r="1.65"/><circle cx="518.7" cy="416.4" r="1.65"/><circle cx="445.0" cy="426.0" r="1.65"/><circle cx="501.2" cy="408.7" r="1.65"/><circle cx="458.3" cy="414.2" r="1.65"/><circle cx="497.5" cy="429.3" r="1.65"/><circle cx="496.1" cy="423.2" r="1.65"/><circle cx="473.5" cy="428.7" r="1.65"/><circle cx="515.4" cy="412.8" r="1.65"/><circle cx="471.7" cy="414.1" r="1.65"/><circle cx="493.5" cy="411.3" r="1.65"/><circle cx="456.6" cy="411.4" r="1.65"/><circle cx="515.4" cy="424.4" r="1.65"/><circle cx="469.0" cy="418.2" r="1.65"/><circle cx="459.2" cy="419.6" r="1.65"/><circle cx="484.5" cy="406.2" r="1.65"/><circle cx="467.3" cy="419.8" r="1.65"/><circle cx="523.4" cy="431.1" r="1.65"/><circle cx="516.4" cy="421.0" r="1.65"/><circle cx="505.6" cy="417.4" r="1.65"/><circle cx="506.9" cy="444.2" r="1.65"/><circle cx="474.2" cy="434.9" r="1.65"/><circle cx="484.2" cy="422.6" r="1.65"/><circle cx="504.3" cy="414.0" r="1.65"/><circle cx="507.1" cy="419.2" r="1.65"/><circle cx="528.4" cy="411.8" r="1.65"/><circle cx="492.9" cy="407.2" r="1.65"/><circle cx="483.0" cy="421.2" r="1.65"/><circle cx="470.7" cy="428.6" r="1.65"/><circle cx="462.5" cy="407.7" r="1.65"/><circle cx="481.3" cy="417.5" r="1.65"/><circle cx="509.3" cy="418.5" r="1.65"/><circle cx="467.8" cy="424.1" r="1.65"/><circle cx="480.6" cy="409.0" r="1.65"/><circle cx="478.6" cy="421.9" r="1.65"/><circle cx="504.0" cy="417.1" r="1.65"/><circle cx="492.8" cy="415.5" r="1.65"/><circle cx="532.5" cy="420.1" r="1.65"/><circle cx="469.3" cy="431.3" r="1.65"/><circle cx="512.1" cy="421.2" r="1.65"/><circle cx="490.8" cy="416.7" r="1.65"/><circle cx="463.3" cy="413.3" r="1.65"/><circle cx="461.9" cy="410.6" r="1.65"/><circle cx="518.8" cy="423.0" r="1.65"/><circle cx="517.7" cy="415.9" r="1.65"/><circle cx="535.7" cy="417.2" r="1.65"/><circle cx="447.6" cy="432.1" r="1.65"/><circle cx="512.8" cy="421.1" r="1.65"/><circle cx="500.5" cy="426.4" r="1.65"/><circle cx="477.1" cy="435.4" r="1.65"/><circle cx="500.5" cy="411.0" r="1.65"/><circle cx="472.3" cy="413.4" r="1.65"/><circle cx="473.3" cy="414.5" r="1.65"/><circle cx="479.7" cy="424.6" r="1.65"/><circle cx="501.9" cy="432.7" r="1.65"/><circle cx="534.8" cy="430.4" r="1.65"/><circle cx="442.3" cy="415.4" r="1.65"/><circle cx="465.1" cy="412.7" r="1.65"/><circle cx="456.3" cy="405.6" r="1.65"/><circle cx="521.3" cy="426.2" r="1.65"/><circle cx="538.6" cy="421.2" r="1.65"/><circle cx="490.5" cy="422.9" r="1.65"/><circle cx="497.1" cy="414.5" r="1.65"/><circle cx="487.4" cy="415.2" r="1.65"/><circle cx="493.7" cy="413.7" r="1.65"/><circle cx="458.6" cy="421.1" r="1.65"/><circle cx="462.3" cy="418.0" r="1.65"/><circle cx="488.9" cy="419.2" r="1.65"/><circle cx="467.0" cy="413.4" r="1.65"/><circle cx="479.5" cy="405.7" r="1.65"/><circle cx="519.8" cy="414.1" r="1.65"/><circle cx="507.0" cy="424.4" r="1.65"/><circle cx="465.6" cy="411.3" r="1.65"/><circle cx="491.0" cy="430.1" r="1.65"/><circle cx="486.4" cy="428.2" r="1.65"/><circle cx="455.6" cy="418.1" r="1.65"/><circle cx="491.9" cy="420.2" r="1.65"/><circle cx="478.3" cy="426.1" r="1.65"/><circle cx="485.4" cy="418.7" r="1.65"/><circle cx="483.3" cy="416.7" r="1.65"/><circle cx="471.5" cy="419.1" r="1.65"/><circle cx="491.6" cy="413.1" r="1.65"/><circle cx="417.2" cy="409.1" r="1.65"/><circle cx="503.6" cy="415.6" r="1.65"/><circle cx="465.5" cy="432.0" r="1.65"/><circle cx="463.1" cy="412.0" r="1.65"/><circle cx="506.3" cy="417.6" r="1.65"/><circle cx="508.0" cy="425.1" r="1.65"/><circle cx="464.2" cy="407.4" r="1.65"/><circle cx="517.6" cy="411.2" r="1.65"/><circle cx="517.5" cy="417.8" r="1.65"/><circle cx="435.3" cy="419.6" r="1.65"/><circle cx="517.7" cy="419.4" r="1.65"/><circle cx="507.9" cy="412.4" r="1.65"/><circle cx="469.3" cy="413.2" r="1.65"/><circle cx="493.2" cy="429.0" r="1.65"/><circle cx="517.0" cy="426.0" r="1.65"/><circle cx="502.4" cy="413.3" r="1.65"/><circle cx="472.7" cy="424.8" r="1.65"/><circle cx="501.8" cy="415.5" r="1.65"/><circle cx="520.5" cy="415.9" r="1.65"/><circle cx="503.6" cy="415.9" r="1.65"/><circle cx="514.1" cy="425.4" r="1.65"/><circle cx="445.8" cy="413.4" r="1.65"/><circle cx="486.4" cy="422.5" r="1.65"/><circle cx="531.6" cy="428.8" r="1.65"/><circle cx="484.4" cy="410.0" r="1.65"/><circle cx="486.4" cy="420.8" r="1.65"/><circle cx="498.9" cy="420.4" r="1.65"/><circle cx="450.0" cy="428.0" r="1.65"/><circle cx="507.6" cy="412.0" r="1.65"/><circle cx="462.7" cy="415.3" r="1.65"/><circle cx="506.6" cy="412.0" r="1.65"/><circle cx="526.1" cy="409.5" r="1.65"/><circle cx="489.7" cy="419.3" r="1.65"/><circle cx="507.7" cy="426.5" r="1.65"/><circle cx="452.1" cy="410.8" r="1.65"/><circle cx="518.5" cy="412.5" r="1.65"/><circle cx="498.9" cy="430.0" r="1.65"/><circle cx="457.4" cy="422.3" r="1.65"/><circle cx="531.3" cy="419.6" r="1.65"/><circle cx="495.6" cy="423.6" r="1.65"/><circle cx="523.6" cy="432.3" r="1.65"/><circle cx="531.1" cy="417.2" r="1.65"/><circle cx="428.1" cy="416.6" r="1.65"/><circle cx="505.6" cy="412.6" r="1.65"/><circle cx="503.0" cy="419.6" r="1.65"/><circle cx="484.9" cy="416.3" r="1.65"/><circle cx="463.2" cy="416.1" r="1.65"/><circle cx="484.9" cy="428.9" r="1.65"/><circle cx="525.9" cy="415.0" r="1.65"/><circle cx="475.3" cy="424.1" r="1.65"/><circle cx="485.3" cy="404.5" r="1.65"/><circle cx="497.1" cy="424.5" r="1.65"/><circle cx="495.1" cy="422.8" r="1.65"/><circle cx="504.6" cy="413.6" r="1.65"/><circle cx="510.1" cy="414.5" r="1.65"/><circle cx="494.7" cy="427.4" r="1.65"/><circle cx="498.1" cy="408.1" r="1.65"/><circle cx="457.7" cy="409.6" r="1.65"/><circle cx="477.9" cy="422.0" r="1.65"/><circle cx="477.7" cy="411.3" r="1.65"/><circle cx="493.4" cy="415.4" r="1.65"/><circle cx="468.5" cy="404.2" r="1.65"/><circle cx="469.7" cy="406.4" r="1.65"/><circle cx="500.8" cy="418.5" r="1.65"/><circle cx="534.3" cy="433.5" r="1.65"/><circle cx="510.9" cy="444.9" r="1.65"/><circle cx="535.5" cy="442.7" r="1.65"/><circle cx="512.0" cy="410.3" r="1.65"/><circle cx="486.1" cy="437.2" r="1.65"/><circle cx="501.7" cy="467.8" r="1.65"/><circle cx="553.1" cy="470.7" r="1.65"/><circle cx="491.6" cy="467.9" r="1.65"/><circle cx="519.1" cy="430.7" r="1.65"/><circle cx="559.4" cy="431.9" r="1.65"/><circle cx="539.1" cy="452.0" r="1.65"/><circle cx="471.0" cy="413.7" r="1.65"/><circle cx="477.7" cy="427.8" r="1.65"/><circle cx="555.9" cy="445.5" r="1.65"/><circle cx="553.2" cy="442.6" r="1.65"/><circle cx="503.5" cy="426.9" r="1.65"/><circle cx="568.6" cy="476.2" r="1.65"/><circle cx="515.7" cy="462.6" r="1.65"/><circle cx="515.8" cy="430.7" r="1.65"/><circle cx="458.4" cy="471.7" r="1.65"/><circle cx="536.9" cy="433.0" r="1.65"/><circle cx="484.7" cy="442.8" r="1.65"/><circle cx="537.8" cy="421.0" r="1.65"/><circle cx="435.6" cy="458.4" r="1.65"/><circle cx="562.3" cy="454.3" r="1.65"/><circle cx="491.0" cy="441.0" r="1.65"/><circle cx="517.1" cy="438.5" r="1.65"/><circle cx="518.3" cy="465.0" r="1.65"/><circle cx="519.8" cy="424.2" r="1.65"/><circle cx="508.9" cy="448.7" r="1.65"/><circle cx="482.1" cy="440.3" r="1.65"/><circle cx="464.2" cy="456.9" r="1.65"/><circle cx="498.7" cy="504.9" r="1.65"/><circle cx="511.8" cy="485.6" r="1.65"/><circle cx="473.7" cy="469.5" r="1.65"/><circle cx="489.6" cy="453.3" r="1.65"/><circle cx="520.8" cy="475.9" r="1.65"/><circle cx="487.2" cy="438.1" r="1.65"/><circle cx="481.6" cy="467.0" r="1.65"/><circle cx="508.6" cy="431.2" r="1.65"/><circle cx="518.6" cy="482.0" r="1.65"/><circle cx="505.0" cy="449.5" r="1.65"/><circle cx="557.8" cy="449.4" r="1.65"/><circle cx="491.7" cy="412.6" r="1.65"/><circle cx="476.7" cy="415.8" r="1.65"/><circle cx="543.3" cy="450.2" r="1.65"/><circle cx="510.8" cy="431.3" r="1.65"/><circle cx="576.4" cy="440.7" r="1.65"/><circle cx="490.5" cy="428.3" r="1.65"/><circle cx="508.6" cy="465.2" r="1.65"/><circle cx="506.0" cy="434.8" r="1.65"/><circle cx="545.5" cy="430.2" r="1.65"/><circle cx="523.7" cy="458.9" r="1.65"/><circle cx="539.5" cy="462.5" r="1.65"/><circle cx="480.9" cy="457.2" r="1.65"/><circle cx="477.9" cy="442.6" r="1.65"/><circle cx="527.5" cy="443.5" r="1.65"/><circle cx="491.8" cy="439.0" r="1.65"/><circle cx="487.8" cy="420.1" r="1.65"/><circle cx="554.0" cy="451.4" r="1.65"/><circle cx="494.8" cy="419.5" r="1.65"/><circle cx="581.3" cy="450.2" r="1.65"/><circle cx="551.1" cy="430.9" r="1.65"/><circle cx="476.8" cy="444.4" r="1.65"/><circle cx="518.4" cy="454.8" r="1.65"/><circle cx="570.3" cy="504.9" r="1.65"/><circle cx="487.8" cy="459.1" r="1.65"/><circle cx="479.0" cy="463.2" r="1.65"/><circle cx="505.6" cy="433.0" r="1.65"/><circle cx="506.8" cy="429.2" r="1.65"/><circle cx="498.7" cy="472.2" r="1.65"/><circle cx="480.9" cy="414.5" r="1.65"/><circle cx="484.6" cy="457.0" r="1.65"/><circle cx="516.6" cy="431.3" r="1.65"/><circle cx="501.9" cy="425.3" r="1.65"/><circle cx="510.8" cy="480.3" r="1.65"/><circle cx="468.8" cy="472.9" r="1.65"/><circle cx="514.2" cy="414.8" r="1.65"/><circle cx="519.8" cy="422.8" r="1.65"/><circle cx="605.1" cy="476.5" r="1.65"/><circle cx="548.3" cy="446.2" r="1.65"/><circle cx="483.8" cy="455.7" r="1.65"/><circle cx="518.4" cy="409.5" r="1.65"/><circle cx="460.7" cy="406.2" r="1.65"/><circle cx="520.4" cy="420.8" r="1.65"/><circle cx="474.2" cy="430.1" r="1.65"/><circle cx="509.8" cy="450.2" r="1.65"/><circle cx="506.5" cy="439.9" r="1.65"/><circle cx="517.1" cy="465.7" r="1.65"/><circle cx="531.5" cy="477.1" r="1.65"/><circle cx="471.8" cy="488.7" r="1.65"/><circle cx="563.1" cy="458.5" r="1.65"/><circle cx="489.3" cy="469.9" r="1.65"/><circle cx="504.9" cy="447.2" r="1.65"/><circle cx="466.1" cy="448.2" r="1.65"/><circle cx="456.5" cy="452.6" r="1.65"/><circle cx="542.0" cy="428.5" r="1.65"/><circle cx="511.1" cy="453.5" r="1.65"/><circle cx="569.4" cy="452.2" r="1.65"/><circle cx="430.3" cy="454.8" r="1.65"/><circle cx="425.9" cy="447.6" r="1.65"/><circle cx="495.9" cy="408.6" r="1.65"/><circle cx="550.1" cy="454.2" r="1.65"/><circle cx="496.9" cy="427.3" r="1.65"/><circle cx="468.4" cy="466.6" r="1.65"/><circle cx="552.8" cy="472.4" r="1.65"/><circle cx="459.9" cy="467.8" r="1.65"/><circle cx="551.4" cy="426.5" r="1.65"/><circle cx="506.4" cy="447.1" r="1.65"/><circle cx="466.2" cy="454.7" r="1.65"/><circle cx="538.0" cy="452.3" r="1.65"/><circle cx="538.2" cy="468.7" r="1.65"/><circle cx="553.5" cy="424.6" r="1.65"/><circle cx="515.8" cy="434.4" r="1.65"/><circle cx="561.6" cy="473.7" r="1.65"/><circle cx="517.7" cy="465.4" r="1.65"/><circle cx="477.8" cy="406.7" r="1.65"/><circle cx="522.5" cy="437.8" r="1.65"/><circle cx="531.4" cy="456.9" r="1.65"/><circle cx="548.6" cy="454.5" r="1.65"/><circle cx="528.8" cy="441.1" r="1.65"/><circle cx="538.7" cy="466.7" r="1.65"/><circle cx="533.5" cy="422.4" r="1.65"/><circle cx="511.4" cy="456.5" r="1.65"/><circle cx="471.2" cy="455.1" r="1.65"/><circle cx="518.3" cy="456.5" r="1.65"/><circle cx="450.2" cy="427.9" r="1.65"/><circle cx="523.1" cy="454.7" r="1.65"/><circle cx="461.8" cy="460.8" r="1.65"/><circle cx="488.0" cy="462.2" r="1.65"/><circle cx="510.3" cy="497.0" r="1.65"/><circle cx="505.1" cy="455.0" r="1.65"/><circle cx="532.5" cy="469.5" r="1.65"/><circle cx="499.0" cy="455.5" r="1.65"/><circle cx="493.1" cy="434.4" r="1.65"/><circle cx="506.3" cy="450.9" r="1.65"/><circle cx="500.8" cy="497.1" r="1.65"/><circle cx="516.0" cy="460.4" r="1.65"/><circle cx="495.2" cy="417.0" r="1.65"/><circle cx="546.6" cy="429.1" r="1.65"/><circle cx="518.5" cy="470.7" r="1.65"/><circle cx="501.3" cy="442.0" r="1.65"/><circle cx="455.6" cy="412.4" r="1.65"/><circle cx="516.5" cy="436.2" r="1.65"/><circle cx="496.7" cy="447.3" r="1.65"/><circle cx="496.4" cy="455.4" r="1.65"/><circle cx="490.9" cy="458.4" r="1.65"/><circle cx="438.5" cy="446.7" r="1.65"/><circle cx="482.9" cy="462.2" r="1.65"/><circle cx="528.6" cy="532.0" r="1.65"/><circle cx="530.8" cy="496.9" r="1.65"/><circle cx="509.0" cy="458.6" r="1.65"/><circle cx="479.6" cy="448.6" r="1.65"/><circle cx="444.0" cy="489.6" r="1.65"/><circle cx="496.4" cy="447.2" r="1.65"/><circle cx="547.1" cy="451.4" r="1.65"/><circle cx="462.0" cy="462.4" r="1.65"/><circle cx="475.2" cy="457.2" r="1.65"/><circle cx="519.2" cy="455.8" r="1.65"/><circle cx="479.6" cy="430.8" r="1.65"/><circle cx="469.7" cy="449.1" r="1.65"/><circle cx="513.4" cy="464.6" r="1.65"/><circle cx="538.6" cy="453.2" r="1.65"/><circle cx="563.2" cy="453.7" r="1.65"/><circle cx="485.2" cy="477.8" r="1.65"/><circle cx="505.4" cy="430.4" r="1.65"/><circle cx="450.3" cy="496.4" r="1.65"/><circle cx="457.9" cy="448.0" r="1.65"/><circle cx="500.8" cy="472.6" r="1.65"/><circle cx="486.2" cy="449.5" r="1.65"/><circle cx="515.5" cy="479.4" r="1.65"/><circle cx="439.2" cy="460.2" r="1.65"/><circle cx="560.7" cy="461.3" r="1.65"/><circle cx="487.5" cy="444.2" r="1.65"/><circle cx="443.6" cy="430.0" r="1.65"/><circle cx="473.1" cy="495.8" r="1.65"/><circle cx="494.1" cy="453.1" r="1.65"/><circle cx="536.0" cy="433.8" r="1.65"/><circle cx="486.6" cy="424.2" r="1.65"/><circle cx="477.8" cy="443.2" r="1.65"/><circle cx="477.7" cy="440.7" r="1.65"/><circle cx="550.3" cy="421.1" r="1.65"/><circle cx="493.7" cy="507.9" r="1.65"/><circle cx="480.8" cy="453.6" r="1.65"/><circle cx="517.6" cy="414.1" r="1.65"/><circle cx="541.8" cy="437.2" r="1.65"/><circle cx="536.1" cy="468.8" r="1.65"/><circle cx="477.4" cy="411.7" r="1.65"/><circle cx="514.8" cy="421.8" r="1.65"/><circle cx="532.9" cy="429.0" r="1.65"/><circle cx="497.4" cy="425.1" r="1.65"/><circle cx="503.6" cy="423.6" r="1.65"/><circle cx="537.8" cy="449.6" r="1.65"/><circle cx="568.8" cy="443.6" r="1.65"/><circle cx="552.7" cy="474.4" r="1.65"/><circle cx="533.8" cy="477.2" r="1.65"/><circle cx="472.3" cy="485.0" r="1.65"/><circle cx="494.3" cy="444.5" r="1.65"/><circle cx="536.1" cy="472.1" r="1.65"/><circle cx="505.5" cy="451.2" r="1.65"/><circle cx="514.7" cy="445.8" r="1.65"/><circle cx="544.9" cy="429.2" r="1.65"/><circle cx="544.5" cy="435.1" r="1.65"/><circle cx="481.3" cy="474.8" r="1.65"/><circle cx="552.1" cy="425.1" r="1.65"/><circle cx="565.6" cy="447.2" r="1.65"/><circle cx="563.4" cy="446.6" r="1.65"/><circle cx="562.2" cy="456.9" r="1.65"/><circle cx="564.7" cy="451.0" r="1.65"/><circle cx="562.3" cy="449.0" r="1.65"/><circle cx="557.9" cy="440.7" r="1.65"/><circle cx="559.5" cy="417.6" r="1.65"/><circle cx="574.0" cy="432.4" r="1.65"/><circle cx="546.4" cy="442.7" r="1.65"/><circle cx="547.9" cy="416.0" r="1.65"/><circle cx="557.7" cy="446.5" r="1.65"/><circle cx="561.0" cy="450.9" r="1.65"/><circle cx="563.5" cy="436.0" r="1.65"/><circle cx="545.6" cy="428.6" r="1.65"/><circle cx="552.7" cy="426.6" r="1.65"/><circle cx="538.2" cy="409.2" r="1.65"/><circle cx="553.7" cy="448.4" r="1.65"/><circle cx="568.5" cy="456.8" r="1.65"/><circle cx="566.5" cy="474.2" r="1.65"/><circle cx="570.9" cy="412.3" r="1.65"/><circle cx="564.5" cy="470.8" r="1.65"/><circle cx="562.0" cy="436.6" r="1.65"/><circle cx="553.7" cy="458.8" r="1.65"/><circle cx="553.8" cy="454.8" r="1.65"/><circle cx="557.8" cy="423.7" r="1.65"/><circle cx="556.7" cy="430.6" r="1.65"/><circle cx="558.5" cy="451.7" r="1.65"/><circle cx="559.9" cy="444.7" r="1.65"/><circle cx="562.7" cy="406.6" r="1.65"/><circle cx="541.3" cy="436.2" r="1.65"/><circle cx="540.2" cy="446.1" r="1.65"/><circle cx="544.4" cy="433.6" r="1.65"/><circle cx="573.4" cy="455.9" r="1.65"/><circle cx="560.0" cy="461.1" r="1.65"/><circle cx="558.9" cy="416.5" r="1.65"/><circle cx="547.9" cy="454.3" r="1.65"/><circle cx="543.0" cy="437.7" r="1.65"/><circle cx="561.5" cy="452.5" r="1.65"/><circle cx="562.9" cy="475.5" r="1.65"/><circle cx="483.5" cy="436.9" r="1.65"/><circle cx="505.6" cy="470.2" r="1.65"/><circle cx="537.0" cy="466.8" r="1.65"/><circle cx="569.9" cy="445.0" r="1.65"/><circle cx="529.7" cy="452.4" r="1.65"/><circle cx="511.3" cy="486.3" r="1.65"/><circle cx="543.8" cy="455.9" r="1.65"/><circle cx="520.6" cy="514.1" r="1.65"/><circle cx="459.7" cy="462.1" r="1.65"/><circle cx="557.4" cy="449.7" r="1.65"/><circle cx="569.0" cy="508.8" r="1.65"/><circle cx="535.2" cy="506.1" r="1.65"/><circle cx="521.2" cy="447.4" r="1.65"/><circle cx="437.9" cy="503.6" r="1.65"/><circle cx="486.5" cy="487.2" r="1.65"/><circle cx="525.7" cy="415.4" r="1.65"/><circle cx="426.6" cy="473.5" r="1.65"/><circle cx="561.8" cy="517.8" r="1.65"/><circle cx="471.8" cy="437.3" r="1.65"/><circle cx="441.5" cy="416.1" r="1.65"/><circle cx="529.7" cy="495.4" r="1.65"/><circle cx="554.9" cy="467.5" r="1.65"/><circle cx="511.4" cy="463.4" r="1.65"/><circle cx="514.7" cy="466.7" r="1.65"/><circle cx="527.7" cy="517.0" r="1.65"/><circle cx="554.0" cy="522.7" r="1.65"/><circle cx="560.4" cy="485.5" r="1.65"/><circle cx="559.5" cy="461.8" r="1.65"/><circle cx="517.7" cy="520.4" r="1.65"/><circle cx="522.0" cy="508.2" r="1.65"/><circle cx="424.4" cy="429.2" r="1.65"/><circle cx="444.2" cy="495.0" r="1.65"/><circle cx="431.3" cy="490.4" r="1.65"/><circle cx="436.2" cy="423.0" r="1.65"/><circle cx="540.6" cy="428.4" r="1.65"/><circle cx="421.9" cy="532.3" r="1.65"/><circle cx="516.8" cy="434.7" r="1.65"/><circle cx="573.6" cy="471.2" r="1.65"/><circle cx="502.7" cy="488.5" r="1.65"/><circle cx="518.4" cy="477.1" r="1.65"/><circle cx="424.5" cy="512.2" r="1.65"/><circle cx="479.0" cy="451.2" r="1.65"/><circle cx="430.1" cy="475.8" r="1.65"/><circle cx="449.9" cy="515.8" r="1.65"/><circle cx="543.3" cy="455.4" r="1.65"/><circle cx="501.2" cy="509.4" r="1.65"/><circle cx="482.7" cy="506.8" r="1.65"/><circle cx="530.2" cy="452.6" r="1.65"/><circle cx="476.3" cy="502.1" r="1.65"/><circle cx="543.4" cy="496.6" r="1.65"/><circle cx="453.5" cy="515.5" r="1.65"/><circle cx="438.4" cy="474.6" r="1.65"/><circle cx="572.5" cy="498.6" r="1.65"/><circle cx="422.4" cy="455.3" r="1.65"/><circle cx="523.5" cy="425.8" r="1.65"/><circle cx="469.9" cy="427.9" r="1.65"/><circle cx="510.2" cy="465.4" r="1.65"/><circle cx="546.8" cy="422.2" r="1.65"/><circle cx="474.2" cy="434.8" r="1.65"/><circle cx="552.0" cy="450.9" r="1.65"/><circle cx="509.3" cy="532.3" r="1.65"/><circle cx="540.4" cy="501.7" r="1.65"/><circle cx="437.3" cy="469.2" r="1.65"/><circle cx="569.8" cy="444.3" r="1.65"/><circle cx="536.2" cy="502.7" r="1.65"/><circle cx="438.9" cy="501.6" r="1.65"/><circle cx="464.2" cy="507.8" r="1.65"/><circle cx="553.3" cy="503.1" r="1.65"/><circle cx="480.9" cy="497.2" r="1.65"/><circle cx="560.6" cy="465.7" r="1.65"/><circle cx="461.1" cy="485.3" r="1.65"/><circle cx="528.4" cy="471.5" r="1.65"/><circle cx="507.3" cy="427.7" r="1.65"/><circle cx="543.4" cy="514.5" r="1.65"/><circle cx="435.7" cy="443.8" r="1.65"/><circle cx="527.6" cy="519.8" r="1.65"/><circle cx="467.0" cy="491.7" r="1.65"/><circle cx="549.2" cy="448.7" r="1.65"/><circle cx="458.8" cy="472.3" r="1.65"/><circle cx="524.6" cy="522.0" r="1.65"/><circle cx="535.6" cy="520.8" r="1.65"/><circle cx="475.2" cy="505.4" r="1.65"/><circle cx="513.7" cy="444.1" r="1.65"/><circle cx="537.2" cy="484.9" r="1.65"/><circle cx="565.9" cy="470.1" r="1.65"/><circle cx="428.3" cy="481.1" r="1.65"/><circle cx="451.7" cy="529.4" r="1.65"/><circle cx="543.8" cy="445.4" r="1.65"/><circle cx="440.8" cy="474.0" r="1.65"/><circle cx="551.6" cy="484.7" r="1.65"/><circle cx="423.0" cy="503.1" r="1.65"/><circle cx="503.4" cy="459.1" r="1.65"/><circle cx="539.5" cy="442.7" r="1.65"/><circle cx="449.8" cy="415.8" r="1.65"/><circle cx="525.1" cy="457.1" r="1.65"/><circle cx="448.4" cy="507.8" r="1.65"/><circle cx="530.6" cy="440.1" r="1.65"/><circle cx="436.5" cy="530.0" r="1.65"/><circle cx="548.9" cy="501.8" r="1.65"/><circle cx="529.8" cy="530.6" r="1.65"/><circle cx="485.9" cy="547.6" r="1.65"/><circle cx="503.1" cy="555.3" r="1.65"/><circle cx="452.8" cy="535.7" r="1.65"/><circle cx="568.4" cy="547.1" r="1.65"/><circle cx="557.8" cy="535.3" r="1.65"/><circle cx="529.4" cy="538.4" r="1.65"/><circle cx="477.7" cy="461.5" r="1.65"/><circle cx="419.8" cy="471.4" r="1.65"/><circle cx="450.7" cy="484.1" r="1.65"/><circle cx="474.8" cy="456.6" r="1.65"/><circle cx="449.5" cy="445.6" r="1.65"/><circle cx="464.4" cy="474.1" r="1.65"/><circle cx="490.8" cy="447.2" r="1.65"/><circle cx="535.1" cy="439.9" r="1.65"/><circle cx="481.3" cy="457.0" r="1.65"/><circle cx="451.2" cy="498.4" r="1.65"/><circle cx="462.9" cy="474.2" r="1.65"/><circle cx="473.2" cy="442.3" r="1.65"/><circle cx="466.9" cy="444.8" r="1.65"/><circle cx="540.4" cy="462.9" r="1.65"/><circle cx="460.5" cy="429.3" r="1.65"/><circle cx="504.7" cy="421.4" r="1.65"/><circle cx="447.4" cy="495.3" r="1.65"/><circle cx="515.4" cy="428.9" r="1.65"/><circle cx="474.1" cy="514.2" r="1.65"/><circle cx="528.9" cy="423.1" r="1.65"/><circle cx="505.4" cy="500.4" r="1.65"/><circle cx="475.7" cy="478.3" r="1.65"/><circle cx="473.7" cy="427.2" r="1.65"/><circle cx="465.1" cy="485.1" r="1.65"/><circle cx="433.4" cy="452.1" r="1.65"/><circle cx="441.3" cy="471.1" r="1.65"/><circle cx="449.9" cy="483.1" r="1.65"/><circle cx="443.8" cy="494.6" r="1.65"/><circle cx="508.2" cy="452.4" r="1.65"/><circle cx="456.9" cy="414.4" r="1.65"/><circle cx="471.3" cy="440.6" r="1.65"/><circle cx="475.0" cy="473.1" r="1.65"/><circle cx="443.3" cy="472.6" r="1.65"/><circle cx="507.1" cy="480.8" r="1.65"/><circle cx="468.1" cy="474.5" r="1.65"/><circle cx="475.6" cy="459.3" r="1.65"/><circle cx="444.2" cy="453.6" r="1.65"/><circle cx="450.3" cy="444.5" r="1.65"/><circle cx="479.6" cy="460.1" r="1.65"/><circle cx="478.1" cy="448.1" r="1.65"/><circle cx="502.1" cy="433.9" r="1.65"/><circle cx="502.5" cy="445.5" r="1.65"/><circle cx="470.3" cy="447.2" r="1.65"/><circle cx="462.6" cy="469.3" r="1.65"/><circle cx="477.6" cy="447.4" r="1.65"/><circle cx="445.0" cy="443.9" r="1.65"/><circle cx="475.5" cy="461.7" r="1.65"/><circle cx="468.6" cy="457.2" r="1.65"/><circle cx="513.0" cy="491.5" r="1.65"/><circle cx="491.9" cy="491.6" r="1.65"/><circle cx="488.6" cy="469.8" r="1.65"/><circle cx="428.8" cy="433.0" r="1.65"/><circle cx="424.3" cy="477.5" r="1.65"/><circle cx="439.3" cy="465.7" r="1.65"/><circle cx="431.7" cy="451.1" r="1.65"/><circle cx="504.4" cy="427.8" r="1.65"/><circle cx="505.0" cy="475.2" r="1.65"/><circle cx="461.6" cy="453.3" r="1.65"/><circle cx="469.9" cy="471.1" r="1.65"/><circle cx="400.9" cy="474.2" r="1.65"/><circle cx="482.2" cy="463.1" r="1.65"/><circle cx="537.8" cy="539.4" r="1.65"/><circle cx="420.4" cy="493.7" r="1.65"/><circle cx="494.4" cy="428.4" r="1.65"/><circle cx="438.0" cy="460.8" r="1.65"/><circle cx="486.4" cy="454.1" r="1.65"/><circle cx="475.1" cy="478.9" r="1.65"/><circle cx="439.2" cy="495.5" r="1.65"/><circle cx="430.4" cy="446.3" r="1.65"/><circle cx="460.7" cy="471.2" r="1.65"/><circle cx="436.4" cy="459.9" r="1.65"/><circle cx="498.6" cy="489.0" r="1.65"/><circle cx="511.3" cy="449.9" r="1.65"/><circle cx="476.9" cy="429.0" r="1.65"/><circle cx="463.9" cy="518.4" r="1.65"/><circle cx="417.0" cy="497.9" r="1.65"/><circle cx="482.5" cy="486.4" r="1.65"/><circle cx="429.1" cy="454.3" r="1.65"/><circle cx="491.7" cy="498.5" r="1.65"/><circle cx="622.7" cy="411.5" r="1.65"/><circle cx="595.5" cy="408.6" r="1.65"/></g><g class="d" fill="#ff2012" fill-opacity="0.4"><circle cx="209.1" cy="404.5" r="1.65"/><circle cx="209.4" cy="417.1" r="1.65"/><circle cx="201.8" cy="407.9" r="1.65"/><circle cx="220.7" cy="403.9" r="1.65"/><circle cx="208.9" cy="407.6" r="1.65"/><circle cx="213.3" cy="405.4" r="1.65"/><circle cx="223.4" cy="407.9" r="1.65"/><circle cx="220.0" cy="403.9" r="1.65"/><circle cx="213.2" cy="410.4" r="1.65"/><circle cx="224.0" cy="408.4" r="1.65"/><circle cx="213.6" cy="410.3" r="1.65"/><circle cx="196.7" cy="405.5" r="1.65"/><circle cx="249.3" cy="413.8" r="1.65"/><circle cx="216.0" cy="410.7" r="1.65"/><circle cx="210.9" cy="407.8" r="1.65"/><circle cx="185.9" cy="420.0" r="1.65"/><circle cx="205.2" cy="406.1" r="1.65"/><circle cx="220.4" cy="417.3" r="1.65"/><circle cx="211.5" cy="408.3" r="1.65"/><circle cx="229.8" cy="409.9" r="1.65"/><circle cx="214.6" cy="414.1" r="1.65"/><circle cx="215.0" cy="407.8" r="1.65"/><circle cx="213.2" cy="411.7" r="1.65"/><circle cx="205.9" cy="404.6" r="1.65"/><circle cx="209.5" cy="414.2" r="1.65"/><circle cx="204.1" cy="413.2" r="1.65"/><circle cx="202.2" cy="416.9" r="1.65"/><circle cx="201.7" cy="410.8" r="1.65"/><circle cx="230.1" cy="407.7" r="1.65"/><circle cx="213.0" cy="407.1" r="1.65"/><circle cx="226.6" cy="413.0" r="1.65"/><circle cx="211.1" cy="411.8" r="1.65"/><circle cx="210.6" cy="404.6" r="1.65"/><circle cx="235.3" cy="403.4" r="1.65"/><circle cx="197.6" cy="413.1" r="1.65"/><circle cx="224.3" cy="402.3" r="1.65"/><circle cx="210.4" cy="403.8" r="1.65"/><circle cx="218.2" cy="416.7" r="1.65"/><circle cx="215.1" cy="411.0" r="1.65"/><circle cx="203.5" cy="409.2" r="1.65"/><circle cx="235.1" cy="412.1" r="1.65"/><circle cx="202.1" cy="406.5" r="1.65"/><circle cx="222.1" cy="407.2" r="1.65"/><circle cx="207.8" cy="406.8" r="1.65"/><circle cx="202.2" cy="409.0" r="1.65"/><circle cx="214.9" cy="409.9" r="1.65"/><circle cx="199.9" cy="424.4" r="1.65"/><circle cx="215.5" cy="408.1" r="1.65"/><circle cx="232.4" cy="403.4" r="1.65"/><circle cx="222.2" cy="402.0" r="1.65"/><circle cx="215.3" cy="404.3" r="1.65"/><circle cx="197.7" cy="409.0" r="1.65"/><circle cx="225.2" cy="415.7" r="1.65"/><circle cx="190.7" cy="413.2" r="1.65"/><circle cx="222.7" cy="406.2" r="1.65"/><circle cx="216.2" cy="403.1" r="1.65"/><circle cx="213.2" cy="408.6" r="1.65"/><circle cx="223.1" cy="404.2" r="1.65"/><circle cx="227.3" cy="402.3" r="1.65"/><circle cx="193.7" cy="421.1" r="1.65"/><circle cx="246.0" cy="399.4" r="1.65"/><circle cx="180.3" cy="420.2" r="1.65"/><circle cx="230.1" cy="402.3" r="1.65"/><circle cx="224.7" cy="409.7" r="1.65"/><circle cx="218.3" cy="404.6" r="1.65"/><circle cx="219.0" cy="406.0" r="1.65"/><circle cx="216.0" cy="413.2" r="1.65"/><circle cx="217.9" cy="413.5" r="1.65"/><circle cx="213.6" cy="415.3" r="1.65"/><circle cx="214.4" cy="408.8" r="1.65"/><circle cx="207.0" cy="412.2" r="1.65"/><circle cx="216.7" cy="405.5" r="1.65"/><circle cx="210.0" cy="416.1" r="1.65"/><circle cx="202.8" cy="414.0" r="1.65"/><circle cx="227.6" cy="411.6" r="1.65"/><circle cx="229.1" cy="405.0" r="1.65"/><circle cx="241.7" cy="403.8" r="1.65"/><circle cx="201.9" cy="412.0" r="1.65"/><circle cx="221.9" cy="405.8" r="1.65"/><circle cx="204.5" cy="406.2" r="1.65"/><circle cx="187.8" cy="411.7" r="1.65"/><circle cx="221.5" cy="408.0" r="1.65"/><circle cx="214.6" cy="407.8" r="1.65"/><circle cx="214.1" cy="407.5" r="1.65"/><circle cx="235.6" cy="399.9" r="1.65"/><circle cx="221.2" cy="414.3" r="1.65"/><circle cx="205.3" cy="402.2" r="1.65"/><circle cx="207.2" cy="408.7" r="1.65"/><circle cx="202.1" cy="417.4" r="1.65"/><circle cx="223.9" cy="406.3" r="1.65"/><circle cx="234.1" cy="404.1" r="1.65"/><circle cx="219.7" cy="400.3" r="1.65"/><circle cx="201.1" cy="426.9" r="1.65"/><circle cx="213.2" cy="418.3" r="1.65"/><circle cx="199.1" cy="410.1" r="1.65"/><circle cx="206.5" cy="416.2" r="1.65"/><circle cx="189.7" cy="400.6" r="1.65"/><circle cx="227.7" cy="404.0" r="1.65"/><circle cx="222.5" cy="407.2" r="1.65"/><circle cx="226.4" cy="408.2" r="1.65"/><circle cx="207.1" cy="413.6" r="1.65"/><circle cx="216.8" cy="411.4" r="1.65"/><circle cx="215.4" cy="415.3" r="1.65"/><circle cx="219.4" cy="408.8" r="1.65"/><circle cx="218.1" cy="407.5" r="1.65"/><circle cx="217.5" cy="403.4" r="1.65"/><circle cx="217.9" cy="408.7" r="1.65"/><circle cx="222.4" cy="410.2" r="1.65"/><circle cx="230.3" cy="402.7" r="1.65"/><circle cx="228.7" cy="410.5" r="1.65"/><circle cx="209.0" cy="407.0" r="1.65"/><circle cx="219.0" cy="419.7" r="1.65"/><circle cx="208.2" cy="408.0" r="1.65"/><circle cx="232.2" cy="400.8" r="1.65"/><circle cx="222.9" cy="413.7" r="1.65"/><circle cx="212.4" cy="409.9" r="1.65"/><circle cx="211.0" cy="418.6" r="1.65"/><circle cx="189.9" cy="416.2" r="1.65"/><circle cx="233.9" cy="401.5" r="1.65"/><circle cx="218.3" cy="405.9" r="1.65"/><circle cx="218.1" cy="408.2" r="1.65"/><circle cx="210.5" cy="413.6" r="1.65"/><circle cx="204.8" cy="412.9" r="1.65"/><circle cx="225.1" cy="406.2" r="1.65"/><circle cx="207.9" cy="410.9" r="1.65"/><circle cx="225.0" cy="403.0" r="1.65"/><circle cx="236.8" cy="410.8" r="1.65"/><circle cx="213.2" cy="416.8" r="1.65"/><circle cx="213.3" cy="409.0" r="1.65"/><circle cx="201.9" cy="416.1" r="1.65"/><circle cx="221.9" cy="405.2" r="1.65"/><circle cx="222.9" cy="411.4" r="1.65"/><circle cx="202.4" cy="410.7" r="1.65"/><circle cx="237.0" cy="400.9" r="1.65"/><circle cx="202.5" cy="413.2" r="1.65"/><circle cx="217.4" cy="405.1" r="1.65"/><circle cx="225.6" cy="403.9" r="1.65"/><circle cx="211.1" cy="413.1" r="1.65"/><circle cx="232.0" cy="406.8" r="1.65"/><circle cx="225.2" cy="400.7" r="1.65"/><circle cx="211.8" cy="404.2" r="1.65"/><circle cx="211.9" cy="407.3" r="1.65"/><circle cx="224.0" cy="402.9" r="1.65"/><circle cx="190.3" cy="414.4" r="1.65"/><circle cx="221.5" cy="408.2" r="1.65"/><circle cx="220.0" cy="411.7" r="1.65"/><circle cx="211.9" cy="410.6" r="1.65"/><circle cx="194.8" cy="411.8" r="1.65"/><circle cx="209.4" cy="403.6" r="1.65"/><circle cx="217.6" cy="399.3" r="1.65"/><circle cx="222.0" cy="412.0" r="1.65"/><circle cx="218.5" cy="408.5" r="1.65"/><circle cx="232.1" cy="405.7" r="1.65"/><circle cx="214.8" cy="412.2" r="1.65"/><circle cx="225.6" cy="408.9" r="1.65"/><circle cx="216.6" cy="414.3" r="1.65"/><circle cx="225.8" cy="407.7" r="1.65"/><circle cx="220.5" cy="401.8" r="1.65"/><circle cx="198.8" cy="411.0" r="1.65"/><circle cx="207.5" cy="417.6" r="1.65"/><circle cx="205.3" cy="410.2" r="1.65"/><circle cx="207.3" cy="400.1" r="1.65"/><circle cx="243.6" cy="401.9" r="1.65"/><circle cx="228.1" cy="402.6" r="1.65"/><circle cx="230.9" cy="408.6" r="1.65"/><circle cx="211.0" cy="405.4" r="1.65"/><circle cx="212.7" cy="413.5" r="1.65"/><circle cx="220.9" cy="402.1" r="1.65"/><circle cx="213.8" cy="418.6" r="1.65"/><circle cx="202.6" cy="408.0" r="1.65"/><circle cx="202.2" cy="412.5" r="1.65"/><circle cx="202.8" cy="416.8" r="1.65"/><circle cx="206.2" cy="412.8" r="1.65"/><circle cx="204.8" cy="404.1" r="1.65"/><circle cx="223.3" cy="407.3" r="1.65"/><circle cx="213.2" cy="401.6" r="1.65"/><circle cx="204.4" cy="417.4" r="1.65"/><circle cx="207.7" cy="405.2" r="1.65"/><circle cx="185.8" cy="423.3" r="1.65"/><circle cx="220.7" cy="399.4" r="1.65"/><circle cx="231.5" cy="412.7" r="1.65"/><circle cx="206.9" cy="403.7" r="1.65"/><circle cx="222.5" cy="403.9" r="1.65"/><circle cx="212.1" cy="399.8" r="1.65"/><circle cx="213.7" cy="402.7" r="1.65"/><circle cx="225.5" cy="407.7" r="1.65"/><circle cx="215.0" cy="401.6" r="1.65"/><circle cx="206.1" cy="414.4" r="1.65"/><circle cx="204.7" cy="405.5" r="1.65"/><circle cx="215.2" cy="409.9" r="1.65"/><circle cx="216.2" cy="418.3" r="1.65"/><circle cx="211.2" cy="407.6" r="1.65"/><circle cx="225.0" cy="402.2" r="1.65"/><circle cx="231.7" cy="408.8" r="1.65"/><circle cx="234.7" cy="401.7" r="1.65"/><circle cx="201.3" cy="408.4" r="1.65"/><circle cx="198.2" cy="417.2" r="1.65"/><circle cx="229.4" cy="407.9" r="1.65"/><circle cx="202.3" cy="414.8" r="1.65"/><circle cx="201.8" cy="409.9" r="1.65"/><circle cx="215.5" cy="407.9" r="1.65"/><circle cx="216.3" cy="404.5" r="1.65"/><circle cx="209.6" cy="411.4" r="1.65"/><circle cx="200.5" cy="414.5" r="1.65"/><circle cx="209.9" cy="406.7" r="1.65"/><circle cx="194.3" cy="414.9" r="1.65"/><circle cx="190.8" cy="411.4" r="1.65"/><circle cx="216.2" cy="412.2" r="1.65"/><circle cx="206.0" cy="409.6" r="1.65"/><circle cx="228.2" cy="412.9" r="1.65"/><circle cx="221.0" cy="411.4" r="1.65"/><circle cx="199.4" cy="402.8" r="1.65"/><circle cx="202.3" cy="408.4" r="1.65"/><circle cx="219.3" cy="407.3" r="1.65"/><circle cx="202.1" cy="397.9" r="1.65"/><circle cx="201.7" cy="412.3" r="1.65"/><circle cx="213.2" cy="411.6" r="1.65"/><circle cx="224.0" cy="407.9" r="1.65"/><circle cx="190.5" cy="412.1" r="1.65"/><circle cx="192.6" cy="407.9" r="1.65"/><circle cx="219.2" cy="406.1" r="1.65"/><circle cx="213.4" cy="410.0" r="1.65"/><circle cx="216.3" cy="407.3" r="1.65"/><circle cx="208.0" cy="414.8" r="1.65"/><circle cx="213.8" cy="417.6" r="1.65"/><circle cx="210.3" cy="405.5" r="1.65"/><circle cx="211.5" cy="407.3" r="1.65"/><circle cx="206.0" cy="413.9" r="1.65"/><circle cx="216.8" cy="405.0" r="1.65"/><circle cx="200.5" cy="408.5" r="1.65"/><circle cx="180.2" cy="414.8" r="1.65"/><circle cx="200.6" cy="403.3" r="1.65"/><circle cx="215.5" cy="413.2" r="1.65"/><circle cx="229.2" cy="405.0" r="1.65"/><circle cx="199.1" cy="409.4" r="1.65"/><circle cx="211.4" cy="411.2" r="1.65"/><circle cx="206.3" cy="422.6" r="1.65"/><circle cx="210.6" cy="408.9" r="1.65"/><circle cx="231.9" cy="411.9" r="1.65"/><circle cx="229.4" cy="399.3" r="1.65"/><circle cx="225.3" cy="402.6" r="1.65"/><circle cx="206.0" cy="408.4" r="1.65"/><circle cx="230.9" cy="409.3" r="1.65"/><circle cx="191.7" cy="420.0" r="1.65"/><circle cx="224.6" cy="407.7" r="1.65"/><circle cx="203.1" cy="408.9" r="1.65"/><circle cx="204.0" cy="416.6" r="1.65"/><circle cx="201.3" cy="407.3" r="1.65"/><circle cx="183.6" cy="418.3" r="1.65"/><circle cx="212.9" cy="400.4" r="1.65"/><circle cx="233.1" cy="417.2" r="1.65"/><circle cx="230.7" cy="409.1" r="1.65"/><circle cx="221.3" cy="403.7" r="1.65"/><circle cx="210.2" cy="416.6" r="1.65"/><circle cx="198.0" cy="405.4" r="1.65"/><circle cx="213.4" cy="402.8" r="1.65"/><circle cx="226.4" cy="402.0" r="1.65"/><circle cx="214.8" cy="401.6" r="1.65"/><circle cx="207.6" cy="416.1" r="1.65"/><circle cx="212.0" cy="401.6" r="1.65"/><circle cx="228.5" cy="409.4" r="1.65"/><circle cx="223.8" cy="415.8" r="1.65"/><circle cx="201.1" cy="402.9" r="1.65"/><circle cx="203.2" cy="408.9" r="1.65"/><circle cx="214.4" cy="407.0" r="1.65"/><circle cx="223.3" cy="401.6" r="1.65"/><circle cx="200.0" cy="405.4" r="1.65"/><circle cx="220.7" cy="406.9" r="1.65"/><circle cx="211.3" cy="420.2" r="1.65"/><circle cx="204.7" cy="404.9" r="1.65"/><circle cx="213.2" cy="420.4" r="1.65"/><circle cx="237.5" cy="412.0" r="1.65"/><circle cx="215.4" cy="406.5" r="1.65"/><circle cx="204.6" cy="412.2" r="1.65"/><circle cx="201.1" cy="412.4" r="1.65"/><circle cx="222.9" cy="401.9" r="1.65"/><circle cx="225.7" cy="422.8" r="1.65"/><circle cx="227.6" cy="405.7" r="1.65"/><circle cx="254.1" cy="403.8" r="1.65"/><circle cx="218.1" cy="416.4" r="1.65"/><circle cx="233.1" cy="408.0" r="1.65"/><circle cx="220.9" cy="399.9" r="1.65"/><circle cx="208.8" cy="418.9" r="1.65"/><circle cx="224.9" cy="402.5" r="1.65"/><circle cx="188.8" cy="410.5" r="1.65"/><circle cx="214.0" cy="410.4" r="1.65"/><circle cx="232.2" cy="408.5" r="1.65"/><circle cx="185.1" cy="421.9" r="1.65"/><circle cx="213.6" cy="417.0" r="1.65"/><circle cx="212.0" cy="403.6" r="1.65"/><circle cx="216.9" cy="403.7" r="1.65"/><circle cx="204.2" cy="407.5" r="1.65"/><circle cx="191.2" cy="407.8" r="1.65"/><circle cx="217.7" cy="412.0" r="1.65"/><circle cx="224.8" cy="403.9" r="1.65"/><circle cx="189.5" cy="414.0" r="1.65"/><circle cx="238.4" cy="407.1" r="1.65"/><circle cx="201.2" cy="416.2" r="1.65"/><circle cx="219.9" cy="409.6" r="1.65"/><circle cx="205.0" cy="409.2" r="1.65"/><circle cx="208.4" cy="405.9" r="1.65"/><circle cx="213.3" cy="402.0" r="1.65"/><circle cx="223.3" cy="415.5" r="1.65"/><circle cx="237.0" cy="414.3" r="1.65"/><circle cx="220.9" cy="401.2" r="1.65"/><circle cx="211.4" cy="412.5" r="1.65"/><circle cx="227.7" cy="409.4" r="1.65"/><circle cx="219.0" cy="411.1" r="1.65"/><circle cx="232.5" cy="408.2" r="1.65"/><circle cx="200.4" cy="423.8" r="1.65"/><circle cx="216.9" cy="420.7" r="1.65"/><circle cx="211.3" cy="413.5" r="1.65"/><circle cx="241.1" cy="403.3" r="1.65"/><circle cx="189.8" cy="412.0" r="1.65"/><circle cx="198.4" cy="411.6" r="1.65"/><circle cx="242.0" cy="400.8" r="1.65"/><circle cx="219.2" cy="416.4" r="1.65"/><circle cx="203.4" cy="408.6" r="1.65"/><circle cx="220.6" cy="402.2" r="1.65"/><circle cx="225.1" cy="402.8" r="1.65"/><circle cx="226.0" cy="403.3" r="1.65"/><circle cx="210.3" cy="400.6" r="1.65"/><circle cx="224.5" cy="409.6" r="1.65"/><circle cx="202.7" cy="426.8" r="1.65"/><circle cx="207.6" cy="403.8" r="1.65"/><circle cx="217.8" cy="404.5" r="1.65"/><circle cx="223.3" cy="415.1" r="1.65"/><circle cx="235.9" cy="408.1" r="1.65"/><circle cx="220.9" cy="411.1" r="1.65"/><circle cx="260.3" cy="412.6" r="1.65"/><circle cx="220.7" cy="405.7" r="1.65"/><circle cx="221.3" cy="412.5" r="1.65"/><circle cx="193.2" cy="410.4" r="1.65"/><circle cx="221.2" cy="406.5" r="1.65"/><circle cx="228.8" cy="404.5" r="1.65"/><circle cx="213.6" cy="405.4" r="1.65"/><circle cx="201.2" cy="400.4" r="1.65"/><circle cx="218.8" cy="401.5" r="1.65"/><circle cx="224.1" cy="412.2" r="1.65"/><circle cx="221.8" cy="413.1" r="1.65"/><circle cx="200.8" cy="405.3" r="1.65"/><circle cx="197.0" cy="411.6" r="1.65"/><circle cx="210.1" cy="412.7" r="1.65"/><circle cx="228.8" cy="403.4" r="1.65"/><circle cx="210.2" cy="415.8" r="1.65"/><circle cx="206.0" cy="420.3" r="1.65"/><circle cx="216.0" cy="412.0" r="1.65"/><circle cx="220.6" cy="413.9" r="1.65"/><circle cx="201.2" cy="407.3" r="1.65"/><circle cx="198.2" cy="410.5" r="1.65"/><circle cx="230.7" cy="408.0" r="1.65"/><circle cx="229.3" cy="403.3" r="1.65"/><circle cx="198.0" cy="409.4" r="1.65"/><circle cx="221.7" cy="409.5" r="1.65"/><circle cx="211.2" cy="417.7" r="1.65"/><circle cx="211.9" cy="407.8" r="1.65"/><circle cx="221.0" cy="409.9" r="1.65"/><circle cx="211.7" cy="413.9" r="1.65"/><circle cx="224.7" cy="402.2" r="1.65"/><circle cx="226.9" cy="417.1" r="1.65"/><circle cx="201.6" cy="405.1" r="1.65"/><circle cx="223.7" cy="415.8" r="1.65"/><circle cx="214.6" cy="419.0" r="1.65"/><circle cx="218.5" cy="421.0" r="1.65"/><circle cx="217.2" cy="420.8" r="1.65"/><circle cx="217.6" cy="403.5" r="1.65"/><circle cx="222.6" cy="412.6" r="1.65"/><circle cx="229.7" cy="407.4" r="1.65"/><circle cx="190.4" cy="416.7" r="1.65"/><circle cx="229.2" cy="416.6" r="1.65"/><circle cx="196.8" cy="412.3" r="1.65"/><circle cx="222.8" cy="407.6" r="1.65"/><circle cx="247.9" cy="413.4" r="1.65"/><circle cx="202.1" cy="408.5" r="1.65"/><circle cx="212.4" cy="415.1" r="1.65"/><circle cx="206.7" cy="399.5" r="1.65"/><circle cx="230.5" cy="406.0" r="1.65"/><circle cx="220.1" cy="405.7" r="1.65"/><circle cx="214.2" cy="409.7" r="1.65"/><circle cx="226.0" cy="406.9" r="1.65"/><circle cx="222.5" cy="408.3" r="1.65"/><circle cx="215.2" cy="404.7" r="1.65"/><circle cx="222.0" cy="409.4" r="1.65"/><circle cx="200.3" cy="412.5" r="1.65"/><circle cx="217.8" cy="403.1" r="1.65"/><circle cx="210.8" cy="408.9" r="1.65"/><circle cx="211.5" cy="416.7" r="1.65"/><circle cx="208.3" cy="401.9" r="1.65"/><circle cx="206.7" cy="419.4" r="1.65"/><circle cx="210.6" cy="414.8" r="1.65"/><circle cx="217.3" cy="407.5" r="1.65"/><circle cx="215.1" cy="403.9" r="1.65"/><circle cx="205.9" cy="402.1" r="1.65"/><circle cx="198.6" cy="420.2" r="1.65"/><circle cx="213.6" cy="421.6" r="1.65"/><circle cx="220.0" cy="403.5" r="1.65"/><circle cx="202.2" cy="403.1" r="1.65"/><circle cx="219.1" cy="406.0" r="1.65"/><circle cx="212.8" cy="401.4" r="1.65"/><circle cx="193.3" cy="414.4" r="1.65"/><circle cx="164.5" cy="417.2" r="1.65"/><circle cx="218.9" cy="404.3" r="1.65"/><circle cx="204.1" cy="407.1" r="1.65"/><circle cx="222.6" cy="398.5" r="1.65"/><circle cx="195.8" cy="419.4" r="1.65"/><circle cx="226.9" cy="412.5" r="1.65"/><circle cx="210.7" cy="408.9" r="1.65"/><circle cx="210.4" cy="414.1" r="1.65"/><circle cx="208.3" cy="401.2" r="1.65"/><circle cx="231.5" cy="406.8" r="1.65"/><circle cx="210.7" cy="410.0" r="1.65"/><circle cx="216.5" cy="397.7" r="1.65"/><circle cx="197.1" cy="406.4" r="1.65"/><circle cx="209.2" cy="412.9" r="1.65"/><circle cx="218.3" cy="410.8" r="1.65"/><circle cx="186.0" cy="412.2" r="1.65"/><circle cx="213.1" cy="421.6" r="1.65"/><circle cx="204.2" cy="416.6" r="1.65"/><circle cx="228.7" cy="402.5" r="1.65"/><circle cx="225.2" cy="401.7" r="1.65"/><circle cx="199.2" cy="421.8" r="1.65"/><circle cx="215.7" cy="417.7" r="1.65"/><circle cx="214.7" cy="403.1" r="1.65"/><circle cx="218.0" cy="415.0" r="1.65"/><circle cx="215.5" cy="403.6" r="1.65"/><circle cx="232.0" cy="405.6" r="1.65"/><circle cx="231.9" cy="398.4" r="1.65"/><circle cx="211.9" cy="411.5" r="1.65"/><circle cx="200.3" cy="418.7" r="1.65"/><circle cx="215.6" cy="400.3" r="1.65"/><circle cx="211.4" cy="413.3" r="1.65"/><circle cx="217.2" cy="407.7" r="1.65"/><circle cx="219.3" cy="412.7" r="1.65"/><circle cx="224.2" cy="415.8" r="1.65"/><circle cx="212.5" cy="406.6" r="1.65"/><circle cx="204.2" cy="421.1" r="1.65"/><circle cx="203.4" cy="410.6" r="1.65"/><circle cx="232.7" cy="404.9" r="1.65"/><circle cx="203.3" cy="407.4" r="1.65"/><circle cx="204.5" cy="404.7" r="1.65"/><circle cx="202.2" cy="410.9" r="1.65"/><circle cx="241.3" cy="408.6" r="1.65"/><circle cx="209.3" cy="412.3" r="1.65"/><circle cx="205.0" cy="405.4" r="1.65"/><circle cx="213.3" cy="397.6" r="1.65"/><circle cx="226.7" cy="400.9" r="1.65"/><circle cx="220.2" cy="412.3" r="1.65"/><circle cx="206.2" cy="413.7" r="1.65"/><circle cx="202.7" cy="417.5" r="1.65"/><circle cx="213.5" cy="413.8" r="1.65"/><circle cx="217.0" cy="410.4" r="1.65"/><circle cx="228.7" cy="402.2" r="1.65"/><circle cx="230.3" cy="411.7" r="1.65"/><circle cx="202.2" cy="404.8" r="1.65"/><circle cx="205.2" cy="408.1" r="1.65"/><circle cx="184.0" cy="421.0" r="1.65"/><circle cx="223.7" cy="412.9" r="1.65"/><circle cx="202.1" cy="408.9" r="1.65"/><circle cx="199.3" cy="405.3" r="1.65"/><circle cx="216.9" cy="413.0" r="1.65"/><circle cx="201.2" cy="407.3" r="1.65"/><circle cx="218.3" cy="409.1" r="1.65"/><circle cx="218.4" cy="409.8" r="1.65"/><circle cx="245.4" cy="403.6" r="1.65"/><circle cx="218.9" cy="406.1" r="1.65"/><circle cx="211.1" cy="404.0" r="1.65"/><circle cx="214.0" cy="403.9" r="1.65"/><circle cx="247.5" cy="409.5" r="1.65"/><circle cx="191.2" cy="419.8" r="1.65"/><circle cx="217.5" cy="403.8" r="1.65"/><circle cx="225.5" cy="402.4" r="1.65"/><circle cx="232.6" cy="416.9" r="1.65"/><circle cx="231.3" cy="415.5" r="1.65"/><circle cx="214.1" cy="410.5" r="1.65"/><circle cx="209.6" cy="415.6" r="1.65"/><circle cx="180.5" cy="414.9" r="1.65"/><circle cx="214.5" cy="405.8" r="1.65"/><circle cx="217.1" cy="411.9" r="1.65"/><circle cx="212.7" cy="403.4" r="1.65"/><circle cx="205.1" cy="404.5" r="1.65"/><circle cx="221.3" cy="412.0" r="1.65"/><circle cx="187.6" cy="414.5" r="1.65"/><circle cx="207.6" cy="405.3" r="1.65"/><circle cx="195.2" cy="419.9" r="1.65"/><circle cx="220.2" cy="410.1" r="1.65"/><circle cx="217.8" cy="422.4" r="1.65"/><circle cx="215.1" cy="425.7" r="1.65"/><circle cx="209.9" cy="406.1" r="1.65"/><circle cx="206.0" cy="417.1" r="1.65"/><circle cx="201.3" cy="415.9" r="1.65"/><circle cx="229.9" cy="411.7" r="1.65"/><circle cx="224.9" cy="405.7" r="1.65"/><circle cx="203.0" cy="423.0" r="1.65"/><circle cx="220.9" cy="402.0" r="1.65"/><circle cx="211.1" cy="406.0" r="1.65"/><circle cx="233.4" cy="399.6" r="1.65"/><circle cx="234.3" cy="404.0" r="1.65"/><circle cx="195.8" cy="400.4" r="1.65"/><circle cx="207.0" cy="404.5" r="1.65"/><circle cx="221.6" cy="410.1" r="1.65"/><circle cx="198.3" cy="411.2" r="1.65"/><circle cx="215.4" cy="416.7" r="1.65"/><circle cx="211.7" cy="405.1" r="1.65"/><circle cx="224.1" cy="409.8" r="1.65"/><circle cx="192.9" cy="411.1" r="1.65"/><circle cx="217.5" cy="414.7" r="1.65"/><circle cx="221.8" cy="408.7" r="1.65"/><circle cx="195.7" cy="415.3" r="1.65"/><circle cx="190.2" cy="418.1" r="1.65"/><circle cx="218.4" cy="402.8" r="1.65"/><circle cx="216.8" cy="413.0" r="1.65"/><circle cx="215.4" cy="405.6" r="1.65"/><circle cx="236.2" cy="406.2" r="1.65"/><circle cx="215.1" cy="410.8" r="1.65"/><circle cx="204.0" cy="413.6" r="1.65"/><circle cx="218.5" cy="407.6" r="1.65"/><circle cx="204.1" cy="411.5" r="1.65"/><circle cx="193.8" cy="417.4" r="1.65"/><circle cx="196.8" cy="416.6" r="1.65"/><circle cx="215.8" cy="406.1" r="1.65"/><circle cx="186.7" cy="407.8" r="1.65"/><circle cx="219.0" cy="399.9" r="1.65"/><circle cx="216.5" cy="412.8" r="1.65"/><circle cx="207.8" cy="409.0" r="1.65"/><circle cx="201.2" cy="414.0" r="1.65"/><circle cx="208.7" cy="405.7" r="1.65"/><circle cx="210.0" cy="409.4" r="1.65"/><circle cx="222.8" cy="401.6" r="1.65"/><circle cx="211.9" cy="405.9" r="1.65"/><circle cx="218.3" cy="407.7" r="1.65"/><circle cx="227.3" cy="405.8" r="1.65"/><circle cx="203.6" cy="409.7" r="1.65"/><circle cx="202.4" cy="408.6" r="1.65"/><circle cx="195.8" cy="412.8" r="1.65"/><circle cx="235.2" cy="402.4" r="1.65"/><circle cx="215.9" cy="414.0" r="1.65"/><circle cx="205.1" cy="408.5" r="1.65"/><circle cx="207.8" cy="411.6" r="1.65"/><circle cx="211.1" cy="407.5" r="1.65"/><circle cx="190.4" cy="416.6" r="1.65"/><circle cx="213.8" cy="406.4" r="1.65"/><circle cx="236.3" cy="414.3" r="1.65"/><circle cx="185.3" cy="424.0" r="1.65"/><circle cx="206.2" cy="414.9" r="1.65"/><circle cx="223.7" cy="418.7" r="1.65"/><circle cx="225.5" cy="401.9" r="1.65"/><circle cx="231.9" cy="401.9" r="1.65"/><circle cx="202.0" cy="412.3" r="1.65"/><circle cx="231.6" cy="408.4" r="1.65"/><circle cx="202.1" cy="403.9" r="1.65"/><circle cx="224.8" cy="406.9" r="1.65"/><circle cx="217.1" cy="401.0" r="1.65"/><circle cx="180.8" cy="425.1" r="1.65"/><circle cx="201.7" cy="427.7" r="1.65"/><circle cx="213.5" cy="415.2" r="1.65"/><circle cx="187.6" cy="412.0" r="1.65"/><circle cx="223.4" cy="409.9" r="1.65"/><circle cx="221.2" cy="406.2" r="1.65"/><circle cx="215.8" cy="404.3" r="1.65"/><circle cx="193.5" cy="407.8" r="1.65"/><circle cx="229.8" cy="415.5" r="1.65"/><circle cx="223.6" cy="400.6" r="1.65"/><circle cx="218.1" cy="411.8" r="1.65"/><circle cx="211.9" cy="417.3" r="1.65"/><circle cx="228.6" cy="403.0" r="1.65"/><circle cx="217.7" cy="410.6" r="1.65"/><circle cx="209.5" cy="412.8" r="1.65"/><circle cx="222.7" cy="409.8" r="1.65"/><circle cx="205.8" cy="409.6" r="1.65"/><circle cx="229.4" cy="407.7" r="1.65"/><circle cx="228.7" cy="404.0" r="1.65"/><circle cx="217.1" cy="403.1" r="1.65"/><circle cx="207.8" cy="400.8" r="1.65"/><circle cx="206.9" cy="413.0" r="1.65"/><circle cx="220.8" cy="405.0" r="1.65"/><circle cx="191.7" cy="419.3" r="1.65"/><circle cx="209.1" cy="417.3" r="1.65"/><circle cx="235.4" cy="400.5" r="1.65"/><circle cx="206.5" cy="416.0" r="1.65"/><circle cx="192.1" cy="418.1" r="1.65"/><circle cx="229.0" cy="402.1" r="1.65"/><circle cx="210.8" cy="410.0" r="1.65"/><circle cx="214.6" cy="407.1" r="1.65"/><circle cx="215.5" cy="409.3" r="1.65"/><circle cx="238.6" cy="412.4" r="1.65"/><circle cx="205.7" cy="414.2" r="1.65"/><circle cx="206.5" cy="402.4" r="1.65"/><circle cx="218.3" cy="406.1" r="1.65"/><circle cx="186.4" cy="409.1" r="1.65"/><circle cx="189.5" cy="403.6" r="1.65"/><circle cx="203.8" cy="410.9" r="1.65"/><circle cx="224.7" cy="413.3" r="1.65"/><circle cx="207.3" cy="406.9" r="1.65"/><circle cx="216.0" cy="403.1" r="1.65"/><circle cx="221.6" cy="400.6" r="1.65"/><circle cx="213.2" cy="408.9" r="1.65"/><circle cx="213.7" cy="409.2" r="1.65"/><circle cx="181.1" cy="423.8" r="1.65"/><circle cx="211.4" cy="401.6" r="1.65"/><circle cx="204.3" cy="412.0" r="1.65"/><circle cx="190.9" cy="418.8" r="1.65"/><circle cx="230.8" cy="402.3" r="1.65"/><circle cx="232.8" cy="419.5" r="1.65"/><circle cx="202.1" cy="406.0" r="1.65"/><circle cx="204.1" cy="413.1" r="1.65"/><circle cx="211.3" cy="414.8" r="1.65"/><circle cx="190.9" cy="407.7" r="1.65"/><circle cx="204.0" cy="421.9" r="1.65"/><circle cx="203.1" cy="401.5" r="1.65"/><circle cx="197.7" cy="406.6" r="1.65"/><circle cx="213.7" cy="410.6" r="1.65"/><circle cx="205.8" cy="407.6" r="1.65"/><circle cx="210.6" cy="411.0" r="1.65"/><circle cx="191.6" cy="419.3" r="1.65"/><circle cx="214.0" cy="412.0" r="1.65"/><circle cx="200.1" cy="402.4" r="1.65"/><circle cx="197.4" cy="406.9" r="1.65"/><circle cx="206.9" cy="410.4" r="1.65"/><circle cx="213.4" cy="410.7" r="1.65"/><circle cx="208.1" cy="407.7" r="1.65"/><circle cx="218.4" cy="423.1" r="1.65"/><circle cx="214.1" cy="405.7" r="1.65"/><circle cx="206.8" cy="410.7" r="1.65"/><circle cx="207.7" cy="403.5" r="1.65"/><circle cx="219.9" cy="398.8" r="1.65"/><circle cx="239.4" cy="411.7" r="1.65"/><circle cx="225.6" cy="421.2" r="1.65"/><circle cx="226.8" cy="398.9" r="1.65"/><circle cx="197.4" cy="410.8" r="1.65"/><circle cx="191.1" cy="411.0" r="1.65"/><circle cx="220.2" cy="406.0" r="1.65"/><circle cx="215.5" cy="403.9" r="1.65"/><circle cx="219.7" cy="402.5" r="1.65"/><circle cx="233.9" cy="407.7" r="1.65"/><circle cx="212.7" cy="403.4" r="1.65"/><circle cx="207.4" cy="412.8" r="1.65"/><circle cx="197.7" cy="410.7" r="1.65"/><circle cx="203.6" cy="413.4" r="1.65"/><circle cx="219.3" cy="404.2" r="1.65"/><circle cx="209.9" cy="414.2" r="1.65"/><circle cx="222.5" cy="403.1" r="1.65"/><circle cx="182.9" cy="429.5" r="1.65"/><circle cx="204.2" cy="411.5" r="1.65"/><circle cx="203.5" cy="405.2" r="1.65"/><circle cx="213.0" cy="414.8" r="1.65"/><circle cx="232.0" cy="416.7" r="1.65"/><circle cx="197.7" cy="412.6" r="1.65"/><circle cx="220.8" cy="409.0" r="1.65"/><circle cx="231.3" cy="403.8" r="1.65"/><circle cx="196.4" cy="404.7" r="1.65"/><circle cx="223.7" cy="418.3" r="1.65"/><circle cx="229.8" cy="411.6" r="1.65"/><circle cx="213.8" cy="414.7" r="1.65"/><circle cx="233.5" cy="406.8" r="1.65"/><circle cx="188.4" cy="417.1" r="1.65"/><circle cx="207.6" cy="409.1" r="1.65"/><circle cx="178.8" cy="425.8" r="1.65"/><circle cx="199.3" cy="418.7" r="1.65"/><circle cx="221.5" cy="407.8" r="1.65"/><circle cx="171.9" cy="420.3" r="1.65"/><circle cx="224.7" cy="408.2" r="1.65"/><circle cx="214.0" cy="408.0" r="1.65"/><circle cx="215.9" cy="406.6" r="1.65"/><circle cx="208.6" cy="404.4" r="1.65"/><circle cx="219.3" cy="412.1" r="1.65"/><circle cx="227.6" cy="402.7" r="1.65"/><circle cx="214.3" cy="405.2" r="1.65"/><circle cx="206.6" cy="399.7" r="1.65"/><circle cx="211.0" cy="404.6" r="1.65"/><circle cx="229.5" cy="412.3" r="1.65"/><circle cx="217.8" cy="415.2" r="1.65"/><circle cx="204.7" cy="418.1" r="1.65"/><circle cx="212.8" cy="423.4" r="1.65"/><circle cx="228.2" cy="408.1" r="1.65"/><circle cx="217.1" cy="418.7" r="1.65"/><circle cx="212.3" cy="403.0" r="1.65"/><circle cx="205.2" cy="414.0" r="1.65"/><circle cx="221.4" cy="414.4" r="1.65"/><circle cx="205.4" cy="401.4" r="1.65"/><circle cx="220.6" cy="417.5" r="1.65"/><circle cx="211.1" cy="404.8" r="1.65"/><circle cx="249.4" cy="401.7" r="1.65"/><circle cx="185.3" cy="408.5" r="1.65"/><circle cx="206.5" cy="407.4" r="1.65"/><circle cx="199.8" cy="416.6" r="1.65"/><circle cx="224.8" cy="404.3" r="1.65"/><circle cx="222.7" cy="405.5" r="1.65"/><circle cx="238.8" cy="399.8" r="1.65"/><circle cx="202.6" cy="410.2" r="1.65"/><circle cx="227.9" cy="411.6" r="1.65"/><circle cx="228.0" cy="408.7" r="1.65"/><circle cx="227.0" cy="406.1" r="1.65"/><circle cx="222.2" cy="415.8" r="1.65"/><circle cx="214.6" cy="409.8" r="1.65"/><circle cx="213.3" cy="409.1" r="1.65"/><circle cx="203.8" cy="406.9" r="1.65"/><circle cx="221.4" cy="412.2" r="1.65"/><circle cx="228.0" cy="413.6" r="1.65"/><circle cx="195.3" cy="417.2" r="1.65"/><circle cx="240.2" cy="409.1" r="1.65"/><circle cx="224.0" cy="404.9" r="1.65"/><circle cx="225.3" cy="403.4" r="1.65"/><circle cx="208.6" cy="401.9" r="1.65"/><circle cx="196.0" cy="418.5" r="1.65"/><circle cx="219.0" cy="406.2" r="1.65"/><circle cx="186.5" cy="409.2" r="1.65"/><circle cx="197.9" cy="412.3" r="1.65"/><circle cx="205.9" cy="405.6" r="1.65"/><circle cx="219.7" cy="402.9" r="1.65"/><circle cx="199.6" cy="411.9" r="1.65"/><circle cx="200.3" cy="401.0" r="1.65"/><circle cx="212.8" cy="408.7" r="1.65"/><circle cx="217.8" cy="411.6" r="1.65"/><circle cx="211.6" cy="411.4" r="1.65"/><circle cx="217.8" cy="412.5" r="1.65"/><circle cx="233.9" cy="410.8" r="1.65"/><circle cx="209.4" cy="416.4" r="1.65"/><circle cx="198.9" cy="415.2" r="1.65"/><circle cx="205.8" cy="413.8" r="1.65"/><circle cx="192.3" cy="415.7" r="1.65"/><circle cx="212.6" cy="400.5" r="1.65"/><circle cx="224.5" cy="399.0" r="1.65"/><circle cx="224.4" cy="405.3" r="1.65"/><circle cx="217.6" cy="408.5" r="1.65"/><circle cx="211.6" cy="409.4" r="1.65"/><circle cx="227.0" cy="401.1" r="1.65"/><circle cx="204.2" cy="402.5" r="1.65"/><circle cx="195.5" cy="419.7" r="1.65"/><circle cx="196.8" cy="403.7" r="1.65"/><circle cx="220.7" cy="401.2" r="1.65"/><circle cx="194.4" cy="415.1" r="1.65"/><circle cx="231.8" cy="407.7" r="1.65"/><circle cx="177.0" cy="413.4" r="1.65"/><circle cx="229.6" cy="407.4" r="1.65"/><circle cx="226.7" cy="408.8" r="1.65"/><circle cx="212.5" cy="424.1" r="1.65"/><circle cx="216.3" cy="410.4" r="1.65"/><circle cx="199.3" cy="418.6" r="1.65"/><circle cx="230.0" cy="414.1" r="1.65"/><circle cx="215.8" cy="405.9" r="1.65"/><circle cx="214.9" cy="405.1" r="1.65"/><circle cx="202.8" cy="407.5" r="1.65"/><circle cx="224.3" cy="408.4" r="1.65"/><circle cx="197.3" cy="417.6" r="1.65"/><circle cx="217.0" cy="410.5" r="1.65"/><circle cx="216.1" cy="414.6" r="1.65"/><circle cx="201.3" cy="415.0" r="1.65"/><circle cx="214.5" cy="404.4" r="1.65"/><circle cx="218.2" cy="404.1" r="1.65"/><circle cx="221.8" cy="409.4" r="1.65"/><circle cx="214.8" cy="411.1" r="1.65"/><circle cx="245.9" cy="403.0" r="1.65"/><circle cx="210.3" cy="406.3" r="1.65"/><circle cx="226.7" cy="404.3" r="1.65"/><circle cx="210.9" cy="419.6" r="1.65"/><circle cx="242.6" cy="400.8" r="1.65"/><circle cx="185.6" cy="416.8" r="1.65"/><circle cx="222.7" cy="407.1" r="1.65"/><circle cx="204.8" cy="416.9" r="1.65"/><circle cx="197.3" cy="405.5" r="1.65"/><circle cx="205.0" cy="413.3" r="1.65"/><circle cx="201.7" cy="405.5" r="1.65"/><circle cx="217.6" cy="405.7" r="1.65"/><circle cx="220.6" cy="405.1" r="1.65"/><circle cx="198.5" cy="416.0" r="1.65"/><circle cx="235.4" cy="407.6" r="1.65"/><circle cx="230.8" cy="410.2" r="1.65"/><circle cx="215.4" cy="408.7" r="1.65"/><circle cx="196.8" cy="417.5" r="1.65"/><circle cx="209.1" cy="412.4" r="1.65"/><circle cx="220.7" cy="416.9" r="1.65"/><circle cx="230.4" cy="415.2" r="1.65"/><circle cx="226.2" cy="407.9" r="1.65"/><circle cx="198.6" cy="407.0" r="1.65"/><circle cx="207.6" cy="412.2" r="1.65"/><circle cx="223.2" cy="406.8" r="1.65"/><circle cx="211.9" cy="407.4" r="1.65"/><circle cx="208.8" cy="410.1" r="1.65"/><circle cx="239.0" cy="410.9" r="1.65"/><circle cx="219.3" cy="403.6" r="1.65"/><circle cx="194.5" cy="409.9" r="1.65"/><circle cx="218.8" cy="409.5" r="1.65"/><circle cx="227.1" cy="404.5" r="1.65"/><circle cx="198.9" cy="407.7" r="1.65"/><circle cx="203.6" cy="406.0" r="1.65"/><circle cx="187.4" cy="416.8" r="1.65"/><circle cx="211.6" cy="404.7" r="1.65"/><circle cx="197.3" cy="425.9" r="1.65"/><circle cx="220.5" cy="408.7" r="1.65"/><circle cx="227.2" cy="401.2" r="1.65"/><circle cx="210.8" cy="411.4" r="1.65"/><circle cx="235.1" cy="412.8" r="1.65"/><circle cx="226.6" cy="403.7" r="1.65"/><circle cx="229.7" cy="418.2" r="1.65"/><circle cx="232.8" cy="408.9" r="1.65"/><circle cx="220.0" cy="401.9" r="1.65"/><circle cx="195.3" cy="404.1" r="1.65"/><circle cx="215.2" cy="416.1" r="1.65"/><circle cx="220.1" cy="418.6" r="1.65"/><circle cx="210.6" cy="404.5" r="1.65"/><circle cx="238.5" cy="404.7" r="1.65"/><circle cx="209.8" cy="401.8" r="1.65"/><circle cx="195.6" cy="406.9" r="1.65"/><circle cx="222.7" cy="409.3" r="1.65"/><circle cx="197.9" cy="414.9" r="1.65"/><circle cx="212.0" cy="417.1" r="1.65"/><circle cx="217.6" cy="404.1" r="1.65"/><circle cx="216.2" cy="401.2" r="1.65"/><circle cx="196.9" cy="415.3" r="1.65"/><circle cx="220.3" cy="408.1" r="1.65"/><circle cx="229.5" cy="403.7" r="1.65"/><circle cx="216.0" cy="403.5" r="1.65"/><circle cx="221.6" cy="412.5" r="1.65"/><circle cx="189.6" cy="417.9" r="1.65"/><circle cx="221.4" cy="411.7" r="1.65"/><circle cx="217.7" cy="413.4" r="1.65"/><circle cx="214.3" cy="412.7" r="1.65"/><circle cx="219.2" cy="405.5" r="1.65"/><circle cx="204.5" cy="407.4" r="1.65"/><circle cx="223.3" cy="404.6" r="1.65"/><circle cx="215.3" cy="409.0" r="1.65"/><circle cx="236.3" cy="400.7" r="1.65"/><circle cx="215.5" cy="398.1" r="1.65"/><circle cx="205.3" cy="416.7" r="1.65"/><circle cx="225.2" cy="402.6" r="1.65"/><circle cx="196.2" cy="414.3" r="1.65"/><circle cx="213.6" cy="413.7" r="1.65"/><circle cx="214.0" cy="400.1" r="1.65"/><circle cx="216.5" cy="400.0" r="1.65"/><circle cx="206.1" cy="410.8" r="1.65"/><circle cx="210.1" cy="412.2" r="1.65"/><circle cx="227.9" cy="412.2" r="1.65"/><circle cx="213.8" cy="414.6" r="1.65"/><circle cx="207.2" cy="406.2" r="1.65"/><circle cx="206.8" cy="412.4" r="1.65"/><circle cx="212.1" cy="408.6" r="1.65"/><circle cx="195.5" cy="416.1" r="1.65"/><circle cx="217.9" cy="408.9" r="1.65"/><circle cx="214.7" cy="412.5" r="1.65"/><circle cx="221.0" cy="400.9" r="1.65"/><circle cx="221.2" cy="401.4" r="1.65"/><circle cx="186.0" cy="405.2" r="1.65"/><circle cx="206.5" cy="406.1" r="1.65"/><circle cx="217.9" cy="416.6" r="1.65"/><circle cx="199.1" cy="405.5" r="1.65"/><circle cx="203.8" cy="417.6" r="1.65"/><circle cx="217.5" cy="410.2" r="1.65"/><circle cx="214.3" cy="407.0" r="1.65"/><circle cx="222.0" cy="408.0" r="1.65"/><circle cx="205.1" cy="410.1" r="1.65"/><circle cx="216.4" cy="409.6" r="1.65"/><circle cx="214.2" cy="419.6" r="1.65"/><circle cx="210.8" cy="414.9" r="1.65"/><circle cx="211.5" cy="417.4" r="1.65"/><circle cx="200.8" cy="409.0" r="1.65"/><circle cx="230.6" cy="403.9" r="1.65"/><circle cx="206.5" cy="414.2" r="1.65"/><circle cx="209.9" cy="409.1" r="1.65"/><circle cx="197.1" cy="408.9" r="1.65"/><circle cx="206.1" cy="416.2" r="1.65"/><circle cx="204.5" cy="410.0" r="1.65"/><circle cx="210.7" cy="414.4" r="1.65"/><circle cx="210.4" cy="415.3" r="1.65"/><circle cx="212.2" cy="410.8" r="1.65"/><circle cx="223.7" cy="403.0" r="1.65"/><circle cx="232.3" cy="405.2" r="1.65"/><circle cx="186.9" cy="407.7" r="1.65"/><circle cx="187.9" cy="409.0" r="1.65"/><circle cx="205.7" cy="412.1" r="1.65"/><circle cx="224.5" cy="405.6" r="1.65"/><circle cx="219.8" cy="409.8" r="1.65"/><circle cx="203.2" cy="410.7" r="1.65"/><circle cx="233.3" cy="406.1" r="1.65"/><circle cx="222.8" cy="408.4" r="1.65"/><circle cx="187.9" cy="419.2" r="1.65"/><circle cx="204.3" cy="406.2" r="1.65"/><circle cx="226.9" cy="405.3" r="1.65"/><circle cx="194.3" cy="406.5" r="1.65"/><circle cx="191.6" cy="419.0" r="1.65"/><circle cx="222.7" cy="405.0" r="1.65"/><circle cx="208.3" cy="409.0" r="1.65"/><circle cx="218.0" cy="410.0" r="1.65"/><circle cx="220.9" cy="404.3" r="1.65"/><circle cx="219.9" cy="415.8" r="1.65"/><circle cx="205.9" cy="418.0" r="1.65"/><circle cx="208.0" cy="411.7" r="1.65"/><circle cx="205.3" cy="405.0" r="1.65"/><circle cx="196.1" cy="414.3" r="1.65"/><circle cx="216.9" cy="407.9" r="1.65"/><circle cx="231.7" cy="401.7" r="1.65"/><circle cx="211.5" cy="416.7" r="1.65"/><circle cx="197.3" cy="403.0" r="1.65"/><circle cx="230.5" cy="402.1" r="1.65"/><circle cx="196.8" cy="406.2" r="1.65"/><circle cx="226.1" cy="414.6" r="1.65"/><circle cx="214.8" cy="411.2" r="1.65"/><circle cx="213.4" cy="409.1" r="1.65"/><circle cx="206.3" cy="413.0" r="1.65"/><circle cx="215.0" cy="403.8" r="1.65"/><circle cx="209.5" cy="407.8" r="1.65"/><circle cx="225.3" cy="403.3" r="1.65"/><circle cx="214.0" cy="403.5" r="1.65"/><circle cx="186.4" cy="412.0" r="1.65"/><circle cx="203.4" cy="416.3" r="1.65"/><circle cx="211.8" cy="399.5" r="1.65"/><circle cx="214.2" cy="412.2" r="1.65"/><circle cx="210.7" cy="410.1" r="1.65"/><circle cx="216.6" cy="410.2" r="1.65"/><circle cx="187.3" cy="418.1" r="1.65"/><circle cx="218.8" cy="411.0" r="1.65"/><circle cx="197.1" cy="412.9" r="1.65"/><circle cx="196.3" cy="410.4" r="1.65"/><circle cx="213.7" cy="417.2" r="1.65"/><circle cx="197.5" cy="408.0" r="1.65"/><circle cx="208.1" cy="410.1" r="1.65"/><circle cx="218.9" cy="415.1" r="1.65"/><circle cx="201.0" cy="409.0" r="1.65"/><circle cx="218.1" cy="411.5" r="1.65"/><circle cx="211.9" cy="409.3" r="1.65"/><circle cx="191.8" cy="407.6" r="1.65"/><circle cx="221.2" cy="413.8" r="1.65"/><circle cx="216.5" cy="413.4" r="1.65"/><circle cx="212.4" cy="406.3" r="1.65"/><circle cx="205.0" cy="407.4" r="1.65"/><circle cx="215.9" cy="404.5" r="1.65"/><circle cx="225.0" cy="407.0" r="1.65"/><circle cx="202.7" cy="408.6" r="1.65"/><circle cx="230.0" cy="412.5" r="1.65"/><circle cx="233.6" cy="405.8" r="1.65"/><circle cx="189.2" cy="406.1" r="1.65"/><circle cx="196.0" cy="414.4" r="1.65"/><circle cx="213.7" cy="405.9" r="1.65"/><circle cx="217.4" cy="407.8" r="1.65"/><circle cx="208.3" cy="401.0" r="1.65"/><circle cx="225.1" cy="415.0" r="1.65"/><circle cx="212.9" cy="407.3" r="1.65"/><circle cx="194.7" cy="407.3" r="1.65"/><circle cx="221.4" cy="403.7" r="1.65"/><circle cx="198.6" cy="409.2" r="1.65"/><circle cx="217.7" cy="403.7" r="1.65"/><circle cx="217.9" cy="418.8" r="1.65"/><circle cx="195.8" cy="419.1" r="1.65"/><circle cx="217.6" cy="409.6" r="1.65"/><circle cx="217.7" cy="409.4" r="1.65"/><circle cx="232.2" cy="402.1" r="1.65"/><circle cx="212.9" cy="408.3" r="1.65"/><circle cx="199.2" cy="404.3" r="1.65"/><circle cx="195.7" cy="400.4" r="1.65"/><circle cx="207.4" cy="418.7" r="1.65"/><circle cx="210.5" cy="408.9" r="1.65"/><circle cx="212.4" cy="412.2" r="1.65"/><circle cx="225.0" cy="401.8" r="1.65"/><circle cx="200.6" cy="417.3" r="1.65"/><circle cx="206.2" cy="410.7" r="1.65"/><circle cx="218.4" cy="403.5" r="1.65"/><circle cx="214.0" cy="411.7" r="1.65"/><circle cx="212.6" cy="420.5" r="1.65"/><circle cx="221.1" cy="409.8" r="1.65"/><circle cx="231.7" cy="404.3" r="1.65"/><circle cx="209.9" cy="412.7" r="1.65"/><circle cx="215.7" cy="404.1" r="1.65"/><circle cx="199.6" cy="415.4" r="1.65"/><circle cx="209.0" cy="403.1" r="1.65"/><circle cx="213.9" cy="413.1" r="1.65"/><circle cx="223.6" cy="408.8" r="1.65"/><circle cx="221.1" cy="405.0" r="1.65"/><circle cx="211.2" cy="405.2" r="1.65"/><circle cx="218.7" cy="415.5" r="1.65"/><circle cx="192.2" cy="412.7" r="1.65"/><circle cx="212.2" cy="407.7" r="1.65"/><circle cx="197.1" cy="406.8" r="1.65"/><circle cx="198.3" cy="406.3" r="1.65"/><circle cx="211.7" cy="407.4" r="1.65"/><circle cx="223.4" cy="418.5" r="1.65"/><circle cx="216.8" cy="414.4" r="1.65"/><circle cx="179.7" cy="405.1" r="1.65"/><circle cx="198.3" cy="414.5" r="1.65"/><circle cx="186.7" cy="423.3" r="1.65"/><circle cx="229.5" cy="410.5" r="1.65"/><circle cx="226.2" cy="405.7" r="1.65"/><circle cx="200.6" cy="403.5" r="1.65"/><circle cx="208.2" cy="410.4" r="1.65"/><circle cx="222.7" cy="416.1" r="1.65"/><circle cx="225.1" cy="408.9" r="1.65"/><circle cx="203.7" cy="420.3" r="1.65"/><circle cx="231.6" cy="404.2" r="1.65"/><circle cx="227.4" cy="404.2" r="1.65"/><circle cx="219.1" cy="412.1" r="1.65"/><circle cx="231.2" cy="406.2" r="1.65"/><circle cx="223.2" cy="410.6" r="1.65"/><circle cx="222.0" cy="406.1" r="1.65"/><circle cx="211.7" cy="419.1" r="1.65"/><circle cx="215.8" cy="405.9" r="1.65"/><circle cx="200.0" cy="406.2" r="1.65"/><circle cx="210.9" cy="415.9" r="1.65"/><circle cx="223.8" cy="401.4" r="1.65"/><circle cx="222.9" cy="400.9" r="1.65"/><circle cx="197.0" cy="417.8" r="1.65"/><circle cx="207.9" cy="410.2" r="1.65"/><circle cx="187.1" cy="408.1" r="1.65"/><circle cx="220.4" cy="405.0" r="1.65"/><circle cx="225.7" cy="407.4" r="1.65"/><circle cx="211.0" cy="408.2" r="1.65"/><circle cx="209.7" cy="414.7" r="1.65"/><circle cx="238.0" cy="406.6" r="1.65"/><circle cx="225.4" cy="410.8" r="1.65"/><circle cx="185.6" cy="406.4" r="1.65"/><circle cx="216.0" cy="416.8" r="1.65"/><circle cx="230.7" cy="403.5" r="1.65"/><circle cx="199.7" cy="412.7" r="1.65"/><circle cx="211.9" cy="407.4" r="1.65"/><circle cx="199.7" cy="422.2" r="1.65"/><circle cx="211.6" cy="406.5" r="1.65"/><circle cx="201.2" cy="408.3" r="1.65"/><circle cx="228.1" cy="409.6" r="1.65"/><circle cx="233.7" cy="404.0" r="1.65"/><circle cx="211.2" cy="406.0" r="1.65"/><circle cx="226.4" cy="413.2" r="1.65"/><circle cx="193.7" cy="410.9" r="1.65"/><circle cx="190.8" cy="409.9" r="1.65"/><circle cx="197.5" cy="414.0" r="1.65"/><circle cx="238.9" cy="400.3" r="1.65"/><circle cx="215.5" cy="406.6" r="1.65"/><circle cx="249.8" cy="407.6" r="1.65"/><circle cx="202.1" cy="421.5" r="1.65"/><circle cx="238.2" cy="407.1" r="1.65"/><circle cx="192.1" cy="402.6" r="1.65"/><circle cx="221.7" cy="401.3" r="1.65"/><circle cx="206.1" cy="408.3" r="1.65"/><circle cx="209.0" cy="413.7" r="1.65"/><circle cx="203.2" cy="404.1" r="1.65"/><circle cx="178.3" cy="409.2" r="1.65"/><circle cx="245.9" cy="410.3" r="1.65"/><circle cx="209.4" cy="408.9" r="1.65"/><circle cx="238.2" cy="405.3" r="1.65"/><circle cx="218.4" cy="408.1" r="1.65"/><circle cx="215.4" cy="402.8" r="1.65"/><circle cx="194.5" cy="407.8" r="1.65"/><circle cx="228.3" cy="411.3" r="1.65"/><circle cx="222.4" cy="407.5" r="1.65"/><circle cx="219.4" cy="409.7" r="1.65"/><circle cx="225.8" cy="400.9" r="1.65"/><circle cx="202.6" cy="404.8" r="1.65"/><circle cx="214.8" cy="405.7" r="1.65"/><circle cx="225.7" cy="412.6" r="1.65"/><circle cx="220.9" cy="403.9" r="1.65"/><circle cx="215.7" cy="415.1" r="1.65"/><circle cx="212.5" cy="406.3" r="1.65"/><circle cx="211.6" cy="412.9" r="1.65"/><circle cx="212.9" cy="411.3" r="1.65"/><circle cx="218.0" cy="408.4" r="1.65"/><circle cx="203.8" cy="399.4" r="1.65"/><circle cx="193.3" cy="408.3" r="1.65"/><circle cx="219.0" cy="409.5" r="1.65"/><circle cx="217.2" cy="401.1" r="1.65"/><circle cx="250.0" cy="400.9" r="1.65"/><circle cx="239.8" cy="404.2" r="1.65"/><circle cx="196.3" cy="417.0" r="1.65"/><circle cx="193.9" cy="409.0" r="1.65"/><circle cx="197.2" cy="416.2" r="1.65"/><circle cx="198.3" cy="401.1" r="1.65"/><circle cx="205.3" cy="408.3" r="1.65"/><circle cx="196.8" cy="404.7" r="1.65"/><circle cx="223.5" cy="398.8" r="1.65"/><circle cx="203.9" cy="409.3" r="1.65"/><circle cx="196.6" cy="406.0" r="1.65"/><circle cx="203.9" cy="413.3" r="1.65"/><circle cx="202.8" cy="417.1" r="1.65"/><circle cx="215.4" cy="418.4" r="1.65"/><circle cx="236.1" cy="402.1" r="1.65"/><circle cx="214.8" cy="407.9" r="1.65"/><circle cx="205.9" cy="407.8" r="1.65"/><circle cx="225.3" cy="406.2" r="1.65"/><circle cx="214.6" cy="411.5" r="1.65"/><circle cx="215.3" cy="410.5" r="1.65"/><circle cx="222.2" cy="409.1" r="1.65"/><circle cx="224.4" cy="403.7" r="1.65"/><circle cx="218.1" cy="407.0" r="1.65"/><circle cx="196.9" cy="405.6" r="1.65"/><circle cx="233.3" cy="401.9" r="1.65"/><circle cx="216.7" cy="404.4" r="1.65"/><circle cx="211.7" cy="404.5" r="1.65"/><circle cx="209.9" cy="410.1" r="1.65"/><circle cx="198.3" cy="420.4" r="1.65"/><circle cx="219.4" cy="413.3" r="1.65"/><circle cx="215.6" cy="410.8" r="1.65"/><circle cx="215.6" cy="411.2" r="1.65"/><circle cx="219.9" cy="417.3" r="1.65"/><circle cx="214.2" cy="406.7" r="1.65"/><circle cx="221.5" cy="411.2" r="1.65"/><circle cx="211.2" cy="406.7" r="1.65"/><circle cx="217.6" cy="410.9" r="1.65"/><circle cx="236.0" cy="403.0" r="1.65"/><circle cx="214.0" cy="410.1" r="1.65"/><circle cx="234.3" cy="412.5" r="1.65"/><circle cx="200.8" cy="414.9" r="1.65"/><circle cx="202.1" cy="406.6" r="1.65"/><circle cx="206.1" cy="405.3" r="1.65"/><circle cx="229.6" cy="408.7" r="1.65"/><circle cx="204.8" cy="417.6" r="1.65"/><circle cx="191.9" cy="415.6" r="1.65"/><circle cx="214.5" cy="414.6" r="1.65"/><circle cx="208.9" cy="413.8" r="1.65"/><circle cx="216.9" cy="414.8" r="1.65"/><circle cx="198.1" cy="421.0" r="1.65"/><circle cx="207.8" cy="408.2" r="1.65"/><circle cx="208.0" cy="415.7" r="1.65"/><circle cx="200.1" cy="405.1" r="1.65"/><circle cx="211.6" cy="407.1" r="1.65"/><circle cx="215.8" cy="404.4" r="1.65"/><circle cx="224.5" cy="403.4" r="1.65"/><circle cx="208.4" cy="417.9" r="1.65"/><circle cx="248.1" cy="403.4" r="1.65"/><circle cx="215.8" cy="401.0" r="1.65"/><circle cx="212.9" cy="411.7" r="1.65"/><circle cx="231.5" cy="406.1" r="1.65"/><circle cx="221.4" cy="413.9" r="1.65"/><circle cx="215.3" cy="402.0" r="1.65"/><circle cx="212.5" cy="415.1" r="1.65"/><circle cx="209.4" cy="415.9" r="1.65"/><circle cx="234.4" cy="402.1" r="1.65"/><circle cx="220.9" cy="400.7" r="1.65"/><circle cx="209.6" cy="414.1" r="1.65"/><circle cx="210.8" cy="401.4" r="1.65"/><circle cx="216.2" cy="414.5" r="1.65"/><circle cx="222.4" cy="412.0" r="1.65"/><circle cx="229.2" cy="413.7" r="1.65"/><circle cx="208.1" cy="402.9" r="1.65"/><circle cx="218.4" cy="403.1" r="1.65"/><circle cx="201.8" cy="400.6" r="1.65"/><circle cx="216.1" cy="410.3" r="1.65"/><circle cx="208.2" cy="408.9" r="1.65"/><circle cx="209.7" cy="401.5" r="1.65"/><circle cx="219.3" cy="406.3" r="1.65"/><circle cx="226.6" cy="407.4" r="1.65"/><circle cx="222.5" cy="411.6" r="1.65"/><circle cx="216.6" cy="410.8" r="1.65"/><circle cx="208.8" cy="404.6" r="1.65"/><circle cx="233.3" cy="399.3" r="1.65"/><circle cx="242.9" cy="402.1" r="1.65"/><circle cx="204.4" cy="414.1" r="1.65"/><circle cx="216.7" cy="412.7" r="1.65"/><circle cx="202.0" cy="429.5" r="1.65"/><circle cx="226.4" cy="418.0" r="1.65"/><circle cx="211.2" cy="401.3" r="1.65"/><circle cx="198.0" cy="407.3" r="1.65"/><circle cx="210.4" cy="413.7" r="1.65"/><circle cx="197.7" cy="407.6" r="1.65"/><circle cx="224.8" cy="414.3" r="1.65"/><circle cx="221.9" cy="400.7" r="1.65"/><circle cx="197.3" cy="401.7" r="1.65"/><circle cx="223.9" cy="409.0" r="1.65"/><circle cx="195.5" cy="410.4" r="1.65"/><circle cx="203.7" cy="418.2" r="1.65"/><circle cx="218.5" cy="407.9" r="1.65"/><circle cx="218.3" cy="410.3" r="1.65"/><circle cx="211.7" cy="417.6" r="1.65"/><circle cx="199.5" cy="410.6" r="1.65"/><circle cx="204.2" cy="411.3" r="1.65"/><circle cx="223.8" cy="411.3" r="1.65"/><circle cx="209.0" cy="404.7" r="1.65"/><circle cx="207.1" cy="405.8" r="1.65"/><circle cx="197.7" cy="409.5" r="1.65"/><circle cx="200.2" cy="404.1" r="1.65"/><circle cx="209.5" cy="409.6" r="1.65"/><circle cx="219.0" cy="414.7" r="1.65"/><circle cx="213.4" cy="411.7" r="1.65"/><circle cx="192.5" cy="406.2" r="1.65"/><circle cx="212.4" cy="402.6" r="1.65"/><circle cx="215.6" cy="405.9" r="1.65"/><circle cx="189.2" cy="406.2" r="1.65"/><circle cx="216.6" cy="403.6" r="1.65"/><circle cx="197.5" cy="411.7" r="1.65"/><circle cx="216.8" cy="415.6" r="1.65"/><circle cx="204.4" cy="403.9" r="1.65"/><circle cx="240.9" cy="406.7" r="1.65"/><circle cx="196.5" cy="413.3" r="1.65"/><circle cx="194.9" cy="408.2" r="1.65"/><circle cx="218.6" cy="409.8" r="1.65"/><circle cx="210.6" cy="407.0" r="1.65"/><circle cx="208.9" cy="409.6" r="1.65"/><circle cx="203.8" cy="411.8" r="1.65"/><circle cx="196.1" cy="410.4" r="1.65"/><circle cx="202.4" cy="415.0" r="1.65"/><circle cx="215.5" cy="405.2" r="1.65"/><circle cx="224.3" cy="409.9" r="1.65"/><circle cx="212.6" cy="401.3" r="1.65"/><circle cx="202.0" cy="404.4" r="1.65"/><circle cx="208.0" cy="403.4" r="1.65"/><circle cx="191.8" cy="410.6" r="1.65"/><circle cx="206.3" cy="405.6" r="1.65"/><circle cx="238.3" cy="404.3" r="1.65"/><circle cx="206.6" cy="404.6" r="1.65"/><circle cx="216.3" cy="401.6" r="1.65"/><circle cx="220.5" cy="407.8" r="1.65"/><circle cx="190.1" cy="420.0" r="1.65"/><circle cx="213.2" cy="408.9" r="1.65"/><circle cx="213.4" cy="411.2" r="1.65"/><circle cx="203.8" cy="416.0" r="1.65"/><circle cx="229.7" cy="402.4" r="1.65"/><circle cx="228.0" cy="403.3" r="1.65"/><circle cx="212.2" cy="412.4" r="1.65"/><circle cx="217.0" cy="408.1" r="1.65"/><circle cx="206.7" cy="413.1" r="1.65"/><circle cx="215.4" cy="416.4" r="1.65"/><circle cx="216.3" cy="419.1" r="1.65"/><circle cx="213.4" cy="411.0" r="1.65"/><circle cx="185.4" cy="405.4" r="1.65"/><circle cx="214.8" cy="402.4" r="1.65"/><circle cx="209.2" cy="415.9" r="1.65"/><circle cx="208.0" cy="420.9" r="1.65"/><circle cx="204.8" cy="404.4" r="1.65"/><circle cx="222.1" cy="402.2" r="1.65"/><circle cx="235.7" cy="405.9" r="1.65"/><circle cx="212.8" cy="403.9" r="1.65"/><circle cx="208.0" cy="408.0" r="1.65"/><circle cx="206.0" cy="413.6" r="1.65"/><circle cx="193.9" cy="413.8" r="1.65"/><circle cx="202.9" cy="410.3" r="1.65"/><circle cx="216.5" cy="404.4" r="1.65"/><circle cx="207.5" cy="401.5" r="1.65"/><circle cx="199.2" cy="414.3" r="1.65"/><circle cx="206.8" cy="409.0" r="1.65"/><circle cx="223.8" cy="413.3" r="1.65"/><circle cx="210.0" cy="412.3" r="1.65"/><circle cx="231.5" cy="406.0" r="1.65"/><circle cx="210.5" cy="408.4" r="1.65"/><circle cx="229.2" cy="409.3" r="1.65"/><circle cx="195.4" cy="416.1" r="1.65"/><circle cx="208.8" cy="412.3" r="1.65"/><circle cx="238.9" cy="402.3" r="1.65"/><circle cx="231.7" cy="405.6" r="1.65"/><circle cx="224.9" cy="416.6" r="1.65"/><circle cx="191.8" cy="412.9" r="1.65"/><circle cx="201.5" cy="406.2" r="1.65"/><circle cx="223.1" cy="406.4" r="1.65"/><circle cx="218.3" cy="402.0" r="1.65"/><circle cx="207.9" cy="411.6" r="1.65"/><circle cx="191.8" cy="409.2" r="1.65"/><circle cx="207.6" cy="414.3" r="1.65"/><circle cx="208.3" cy="418.2" r="1.65"/><circle cx="207.6" cy="415.2" r="1.65"/><circle cx="211.2" cy="410.6" r="1.65"/><circle cx="210.6" cy="407.0" r="1.65"/><circle cx="214.4" cy="408.8" r="1.65"/><circle cx="233.2" cy="416.6" r="1.65"/><circle cx="197.1" cy="408.0" r="1.65"/><circle cx="223.1" cy="403.9" r="1.65"/><circle cx="208.1" cy="408.9" r="1.65"/><circle cx="205.7" cy="418.1" r="1.65"/><circle cx="214.2" cy="410.0" r="1.65"/><circle cx="212.5" cy="410.4" r="1.65"/><circle cx="222.1" cy="411.5" r="1.65"/><circle cx="202.1" cy="415.6" r="1.65"/><circle cx="208.9" cy="407.3" r="1.65"/><circle cx="215.0" cy="405.8" r="1.65"/><circle cx="206.6" cy="413.0" r="1.65"/><circle cx="227.7" cy="408.0" r="1.65"/><circle cx="232.1" cy="405.4" r="1.65"/><circle cx="201.5" cy="415.8" r="1.65"/><circle cx="215.5" cy="412.5" r="1.65"/><circle cx="231.3" cy="406.0" r="1.65"/><circle cx="207.2" cy="412.1" r="1.65"/><circle cx="211.5" cy="404.9" r="1.65"/><circle cx="198.1" cy="418.6" r="1.65"/><circle cx="205.7" cy="413.7" r="1.65"/><circle cx="238.4" cy="409.0" r="1.65"/><circle cx="205.3" cy="408.2" r="1.65"/><circle cx="208.4" cy="409.9" r="1.65"/><circle cx="220.8" cy="404.9" r="1.65"/><circle cx="218.8" cy="401.0" r="1.65"/><circle cx="209.6" cy="405.6" r="1.65"/><circle cx="217.7" cy="416.7" r="1.65"/><circle cx="206.8" cy="415.8" r="1.65"/><circle cx="215.1" cy="408.4" r="1.65"/><circle cx="223.9" cy="401.6" r="1.65"/><circle cx="221.4" cy="401.5" r="1.65"/><circle cx="196.8" cy="416.6" r="1.65"/><circle cx="223.3" cy="401.4" r="1.65"/><circle cx="211.3" cy="408.5" r="1.65"/><circle cx="237.6" cy="414.3" r="1.65"/><circle cx="206.7" cy="401.3" r="1.65"/><circle cx="223.0" cy="412.2" r="1.65"/><circle cx="211.0" cy="406.3" r="1.65"/><circle cx="206.3" cy="412.5" r="1.65"/><circle cx="239.7" cy="402.0" r="1.65"/><circle cx="220.2" cy="413.9" r="1.65"/><circle cx="201.0" cy="403.1" r="1.65"/><circle cx="221.3" cy="403.5" r="1.65"/><circle cx="227.7" cy="409.9" r="1.65"/><circle cx="216.9" cy="410.1" r="1.65"/><circle cx="205.4" cy="417.2" r="1.65"/><circle cx="201.1" cy="405.0" r="1.65"/><circle cx="216.5" cy="415.1" r="1.65"/><circle cx="244.7" cy="403.7" r="1.65"/><circle cx="223.0" cy="406.4" r="1.65"/><circle cx="227.4" cy="406.2" r="1.65"/><circle cx="214.5" cy="408.4" r="1.65"/><circle cx="210.0" cy="407.5" r="1.65"/><circle cx="201.1" cy="415.4" r="1.65"/><circle cx="204.3" cy="409.2" r="1.65"/><circle cx="219.1" cy="413.5" r="1.65"/><circle cx="194.7" cy="410.4" r="1.65"/><circle cx="220.4" cy="407.0" r="1.65"/><circle cx="213.6" cy="411.7" r="1.65"/><circle cx="231.6" cy="404.6" r="1.65"/><circle cx="215.8" cy="409.9" r="1.65"/><circle cx="200.9" cy="418.5" r="1.65"/><circle cx="226.0" cy="405.5" r="1.65"/><circle cx="202.8" cy="406.8" r="1.65"/><circle cx="204.2" cy="423.2" r="1.65"/><circle cx="207.2" cy="407.2" r="1.65"/><circle cx="204.8" cy="414.1" r="1.65"/><circle cx="207.0" cy="403.8" r="1.65"/><circle cx="192.8" cy="410.6" r="1.65"/><circle cx="230.9" cy="405.3" r="1.65"/><circle cx="205.2" cy="407.0" r="1.65"/><circle cx="188.8" cy="414.0" r="1.65"/><circle cx="226.8" cy="410.1" r="1.65"/><circle cx="205.1" cy="414.7" r="1.65"/><circle cx="227.1" cy="411.2" r="1.65"/><circle cx="197.9" cy="409.8" r="1.65"/><circle cx="217.9" cy="402.8" r="1.65"/><circle cx="204.7" cy="415.8" r="1.65"/><circle cx="202.8" cy="408.9" r="1.65"/><circle cx="240.3" cy="411.0" r="1.65"/><circle cx="210.2" cy="406.3" r="1.65"/><circle cx="217.3" cy="413.8" r="1.65"/><circle cx="210.3" cy="419.9" r="1.65"/><circle cx="206.3" cy="410.7" r="1.65"/><circle cx="213.9" cy="412.3" r="1.65"/><circle cx="202.8" cy="424.1" r="1.65"/><circle cx="224.7" cy="403.2" r="1.65"/><circle cx="207.9" cy="414.0" r="1.65"/><circle cx="199.0" cy="411.5" r="1.65"/><circle cx="205.8" cy="413.4" r="1.65"/><circle cx="221.1" cy="403.0" r="1.65"/><circle cx="212.0" cy="413.1" r="1.65"/><circle cx="224.6" cy="402.7" r="1.65"/><circle cx="190.4" cy="417.3" r="1.65"/><circle cx="204.4" cy="427.1" r="1.65"/><circle cx="231.1" cy="401.4" r="1.65"/><circle cx="192.5" cy="411.6" r="1.65"/><circle cx="206.0" cy="408.1" r="1.65"/><circle cx="200.0" cy="417.0" r="1.65"/><circle cx="204.8" cy="412.4" r="1.65"/><circle cx="217.4" cy="407.7" r="1.65"/><circle cx="215.7" cy="412.5" r="1.65"/><circle cx="216.4" cy="413.4" r="1.65"/><circle cx="193.8" cy="407.5" r="1.65"/><circle cx="196.4" cy="408.4" r="1.65"/><circle cx="219.9" cy="405.7" r="1.65"/><circle cx="205.6" cy="401.5" r="1.65"/><circle cx="215.3" cy="411.3" r="1.65"/><circle cx="183.3" cy="405.3" r="1.65"/><circle cx="209.0" cy="414.5" r="1.65"/><circle cx="206.7" cy="402.9" r="1.65"/><circle cx="203.2" cy="405.2" r="1.65"/><circle cx="212.4" cy="401.8" r="1.65"/><circle cx="220.8" cy="409.7" r="1.65"/><circle cx="219.5" cy="411.1" r="1.65"/><circle cx="187.7" cy="422.7" r="1.65"/><circle cx="210.0" cy="414.7" r="1.65"/><circle cx="229.2" cy="405.1" r="1.65"/><circle cx="233.4" cy="405.5" r="1.65"/><circle cx="183.3" cy="414.2" r="1.65"/><circle cx="207.2" cy="414.5" r="1.65"/><circle cx="206.9" cy="418.3" r="1.65"/><circle cx="210.7" cy="409.6" r="1.65"/><circle cx="185.0" cy="413.8" r="1.65"/><circle cx="218.0" cy="411.0" r="1.65"/><circle cx="228.9" cy="401.3" r="1.65"/><circle cx="194.5" cy="413.9" r="1.65"/><circle cx="204.2" cy="412.2" r="1.65"/><circle cx="208.2" cy="406.7" r="1.65"/><circle cx="232.1" cy="409.9" r="1.65"/><circle cx="201.3" cy="421.9" r="1.65"/><circle cx="213.4" cy="410.6" r="1.65"/><circle cx="225.6" cy="406.2" r="1.65"/><circle cx="209.5" cy="406.0" r="1.65"/><circle cx="219.8" cy="401.3" r="1.65"/><circle cx="215.1" cy="411.7" r="1.65"/><circle cx="193.1" cy="414.1" r="1.65"/><circle cx="210.6" cy="402.4" r="1.65"/><circle cx="206.0" cy="409.4" r="1.65"/><circle cx="216.1" cy="414.6" r="1.65"/><circle cx="203.8" cy="403.7" r="1.65"/><circle cx="184.4" cy="416.8" r="1.65"/><circle cx="205.1" cy="410.2" r="1.65"/><circle cx="197.2" cy="412.0" r="1.65"/><circle cx="222.1" cy="417.2" r="1.65"/><circle cx="204.3" cy="409.2" r="1.65"/><circle cx="198.9" cy="414.4" r="1.65"/><circle cx="179.6" cy="418.6" r="1.65"/><circle cx="206.9" cy="407.2" r="1.65"/><circle cx="199.2" cy="412.0" r="1.65"/><circle cx="225.7" cy="412.4" r="1.65"/><circle cx="203.0" cy="409.8" r="1.65"/><circle cx="209.2" cy="414.2" r="1.65"/><circle cx="211.8" cy="407.6" r="1.65"/><circle cx="205.6" cy="418.7" r="1.65"/><circle cx="218.8" cy="408.2" r="1.65"/><circle cx="218.9" cy="416.6" r="1.65"/><circle cx="227.8" cy="404.0" r="1.65"/><circle cx="233.4" cy="416.8" r="1.65"/><circle cx="218.8" cy="414.9" r="1.65"/><circle cx="195.6" cy="414.2" r="1.65"/><circle cx="206.9" cy="418.2" r="1.65"/><circle cx="205.0" cy="406.3" r="1.65"/><circle cx="197.5" cy="410.1" r="1.65"/><circle cx="207.0" cy="408.8" r="1.65"/><circle cx="201.7" cy="413.1" r="1.65"/><circle cx="206.7" cy="413.2" r="1.65"/><circle cx="204.5" cy="411.9" r="1.65"/><circle cx="222.3" cy="411.2" r="1.65"/><circle cx="194.5" cy="421.2" r="1.65"/><circle cx="233.3" cy="401.5" r="1.65"/><circle cx="226.9" cy="409.2" r="1.65"/><circle cx="222.7" cy="411.4" r="1.65"/><circle cx="218.9" cy="406.4" r="1.65"/><circle cx="207.3" cy="418.5" r="1.65"/><circle cx="237.2" cy="401.2" r="1.65"/><circle cx="203.7" cy="409.4" r="1.65"/><circle cx="216.4" cy="422.2" r="1.65"/><circle cx="198.0" cy="413.2" r="1.65"/><circle cx="216.5" cy="400.8" r="1.65"/><circle cx="244.5" cy="403.8" r="1.65"/><circle cx="205.9" cy="405.6" r="1.65"/><circle cx="210.0" cy="403.2" r="1.65"/><circle cx="203.6" cy="419.2" r="1.65"/><circle cx="217.3" cy="408.4" r="1.65"/><circle cx="231.0" cy="407.7" r="1.65"/><circle cx="230.9" cy="409.3" r="1.65"/><circle cx="206.4" cy="414.8" r="1.65"/><circle cx="221.8" cy="399.2" r="1.65"/><circle cx="207.5" cy="406.6" r="1.65"/><circle cx="200.7" cy="414.1" r="1.65"/><circle cx="218.8" cy="420.0" r="1.65"/><circle cx="204.1" cy="411.5" r="1.65"/><circle cx="213.8" cy="415.1" r="1.65"/><circle cx="205.6" cy="406.2" r="1.65"/><circle cx="211.3" cy="418.5" r="1.65"/><circle cx="224.8" cy="406.9" r="1.65"/><circle cx="224.7" cy="404.4" r="1.65"/><circle cx="200.5" cy="415.3" r="1.65"/><circle cx="216.1" cy="412.3" r="1.65"/><circle cx="200.2" cy="405.5" r="1.65"/><circle cx="178.8" cy="414.5" r="1.65"/><circle cx="225.9" cy="404.1" r="1.65"/><circle cx="216.7" cy="406.9" r="1.65"/><circle cx="197.4" cy="413.1" r="1.65"/><circle cx="204.2" cy="422.8" r="1.65"/><circle cx="199.8" cy="410.1" r="1.65"/><circle cx="216.8" cy="411.0" r="1.65"/><circle cx="195.1" cy="414.8" r="1.65"/><circle cx="197.0" cy="414.4" r="1.65"/><circle cx="213.0" cy="406.6" r="1.65"/><circle cx="187.0" cy="411.6" r="1.65"/><circle cx="210.5" cy="409.5" r="1.65"/><circle cx="217.5" cy="411.5" r="1.65"/><circle cx="189.8" cy="403.8" r="1.65"/><circle cx="222.6" cy="406.0" r="1.65"/><circle cx="229.0" cy="400.3" r="1.65"/><circle cx="204.5" cy="409.4" r="1.65"/><circle cx="224.1" cy="402.2" r="1.65"/><circle cx="205.4" cy="411.0" r="1.65"/><circle cx="203.8" cy="418.2" r="1.65"/><circle cx="221.4" cy="412.9" r="1.65"/><circle cx="212.9" cy="401.9" r="1.65"/><circle cx="213.9" cy="410.9" r="1.65"/><circle cx="200.2" cy="407.6" r="1.65"/><circle cx="194.9" cy="405.9" r="1.65"/><circle cx="224.2" cy="421.9" r="1.65"/><circle cx="211.8" cy="415.9" r="1.65"/><circle cx="232.1" cy="414.2" r="1.65"/><circle cx="222.0" cy="408.3" r="1.65"/><circle cx="229.5" cy="405.9" r="1.65"/><circle cx="229.9" cy="411.7" r="1.65"/><circle cx="212.7" cy="406.2" r="1.65"/><circle cx="225.8" cy="400.8" r="1.65"/><circle cx="214.3" cy="403.1" r="1.65"/><circle cx="206.2" cy="411.5" r="1.65"/><circle cx="207.4" cy="417.7" r="1.65"/><circle cx="230.7" cy="407.8" r="1.65"/><circle cx="195.6" cy="416.1" r="1.65"/><circle cx="213.1" cy="408.7" r="1.65"/><circle cx="227.4" cy="405.9" r="1.65"/><circle cx="205.9" cy="410.2" r="1.65"/><circle cx="203.6" cy="408.3" r="1.65"/><circle cx="199.9" cy="406.0" r="1.65"/><circle cx="215.4" cy="403.1" r="1.65"/><circle cx="190.0" cy="410.8" r="1.65"/><circle cx="229.7" cy="404.7" r="1.65"/><circle cx="203.8" cy="416.9" r="1.65"/><circle cx="229.0" cy="408.9" r="1.65"/><circle cx="213.7" cy="409.5" r="1.65"/><circle cx="221.5" cy="406.5" r="1.65"/><circle cx="232.3" cy="408.9" r="1.65"/><circle cx="221.7" cy="409.1" r="1.65"/><circle cx="217.8" cy="408.0" r="1.65"/><circle cx="218.4" cy="410.4" r="1.65"/><circle cx="209.2" cy="404.1" r="1.65"/><circle cx="201.3" cy="417.7" r="1.65"/><circle cx="210.7" cy="404.8" r="1.65"/><circle cx="217.4" cy="405.3" r="1.65"/><circle cx="216.8" cy="405.9" r="1.65"/><circle cx="233.9" cy="402.5" r="1.65"/><circle cx="220.3" cy="412.0" r="1.65"/><circle cx="217.9" cy="402.1" r="1.65"/><circle cx="201.6" cy="409.3" r="1.65"/><circle cx="202.7" cy="413.0" r="1.65"/><circle cx="230.3" cy="417.0" r="1.65"/><circle cx="214.4" cy="409.5" r="1.65"/><circle cx="213.5" cy="408.4" r="1.65"/><circle cx="198.1" cy="416.9" r="1.65"/><circle cx="204.0" cy="412.2" r="1.65"/><circle cx="240.8" cy="409.2" r="1.65"/><circle cx="218.8" cy="408.4" r="1.65"/><circle cx="211.6" cy="410.5" r="1.65"/><circle cx="199.1" cy="418.3" r="1.65"/><circle cx="217.8" cy="412.1" r="1.65"/><circle cx="204.0" cy="409.4" r="1.65"/><circle cx="203.8" cy="410.0" r="1.65"/><circle cx="164.9" cy="412.8" r="1.65"/><circle cx="224.0" cy="407.1" r="1.65"/><circle cx="219.4" cy="403.3" r="1.65"/><circle cx="201.4" cy="408.6" r="1.65"/><circle cx="216.5" cy="412.3" r="1.65"/><circle cx="193.0" cy="405.6" r="1.65"/><circle cx="252.5" cy="401.7" r="1.65"/><circle cx="225.0" cy="409.0" r="1.65"/><circle cx="191.8" cy="419.2" r="1.65"/><circle cx="220.1" cy="409.0" r="1.65"/><circle cx="198.9" cy="414.2" r="1.65"/><circle cx="213.3" cy="407.2" r="1.65"/><circle cx="195.3" cy="421.4" r="1.65"/><circle cx="224.7" cy="407.5" r="1.65"/><circle cx="201.8" cy="414.5" r="1.65"/><circle cx="207.6" cy="412.7" r="1.65"/><circle cx="209.0" cy="402.7" r="1.65"/><circle cx="204.0" cy="419.5" r="1.65"/><circle cx="233.9" cy="402.2" r="1.65"/><circle cx="228.2" cy="409.4" r="1.65"/><circle cx="218.1" cy="413.3" r="1.65"/><circle cx="198.2" cy="406.6" r="1.65"/><circle cx="211.4" cy="405.6" r="1.65"/><circle cx="225.6" cy="401.3" r="1.65"/><circle cx="222.5" cy="410.4" r="1.65"/><circle cx="198.4" cy="407.3" r="1.65"/><circle cx="226.2" cy="402.9" r="1.65"/><circle cx="213.7" cy="408.5" r="1.65"/><circle cx="205.5" cy="406.3" r="1.65"/><circle cx="200.3" cy="408.0" r="1.65"/><circle cx="209.4" cy="409.9" r="1.65"/><circle cx="194.0" cy="416.6" r="1.65"/><circle cx="185.2" cy="414.2" r="1.65"/><circle cx="186.0" cy="406.4" r="1.65"/><circle cx="211.0" cy="405.6" r="1.65"/><circle cx="230.1" cy="419.0" r="1.65"/><circle cx="209.8" cy="406.6" r="1.65"/><circle cx="204.3" cy="408.3" r="1.65"/><circle cx="239.7" cy="401.9" r="1.65"/><circle cx="198.8" cy="401.7" r="1.65"/><circle cx="226.0" cy="411.8" r="1.65"/><circle cx="222.7" cy="410.8" r="1.65"/><circle cx="234.9" cy="409.0" r="1.65"/><circle cx="192.8" cy="418.4" r="1.65"/><circle cx="238.2" cy="406.1" r="1.65"/><circle cx="220.3" cy="403.4" r="1.65"/><circle cx="223.4" cy="408.0" r="1.65"/><circle cx="224.7" cy="412.5" r="1.65"/><circle cx="208.9" cy="408.7" r="1.65"/><circle cx="214.4" cy="405.4" r="1.65"/><circle cx="224.6" cy="406.6" r="1.65"/><circle cx="211.0" cy="402.0" r="1.65"/><circle cx="238.6" cy="406.5" r="1.65"/><circle cx="207.9" cy="413.1" r="1.65"/><circle cx="212.6" cy="404.7" r="1.65"/><circle cx="207.5" cy="420.0" r="1.65"/><circle cx="229.6" cy="422.8" r="1.65"/><circle cx="205.2" cy="408.8" r="1.65"/><circle cx="196.1" cy="411.3" r="1.65"/><circle cx="228.8" cy="399.6" r="1.65"/><circle cx="231.1" cy="405.7" r="1.65"/><circle cx="216.5" cy="403.5" r="1.65"/><circle cx="201.8" cy="413.2" r="1.65"/><circle cx="223.4" cy="407.3" r="1.65"/><circle cx="221.4" cy="401.6" r="1.65"/><circle cx="208.8" cy="401.1" r="1.65"/><circle cx="179.4" cy="419.6" r="1.65"/><circle cx="221.7" cy="404.4" r="1.65"/><circle cx="208.5" cy="411.6" r="1.65"/><circle cx="212.7" cy="415.8" r="1.65"/><circle cx="209.4" cy="409.3" r="1.65"/><circle cx="227.5" cy="406.9" r="1.65"/><circle cx="218.9" cy="422.7" r="1.65"/><circle cx="178.4" cy="412.0" r="1.65"/><circle cx="218.3" cy="413.6" r="1.65"/><circle cx="208.6" cy="417.5" r="1.65"/><circle cx="202.0" cy="407.6" r="1.65"/><circle cx="206.8" cy="410.6" r="1.65"/><circle cx="216.0" cy="407.0" r="1.65"/><circle cx="216.6" cy="416.6" r="1.65"/><circle cx="227.1" cy="406.3" r="1.65"/><circle cx="235.0" cy="405.8" r="1.65"/><circle cx="218.0" cy="403.5" r="1.65"/><circle cx="211.7" cy="410.8" r="1.65"/><circle cx="217.7" cy="405.4" r="1.65"/><circle cx="201.4" cy="417.2" r="1.65"/><circle cx="234.1" cy="409.7" r="1.65"/><circle cx="244.4" cy="408.2" r="1.65"/><circle cx="202.8" cy="404.6" r="1.65"/><circle cx="193.5" cy="411.7" r="1.65"/><circle cx="211.8" cy="412.5" r="1.65"/><circle cx="220.8" cy="405.7" r="1.65"/><circle cx="201.8" cy="408.1" r="1.65"/><circle cx="240.7" cy="401.1" r="1.65"/><circle cx="213.8" cy="412.2" r="1.65"/><circle cx="212.0" cy="403.6" r="1.65"/><circle cx="212.0" cy="413.3" r="1.65"/><circle cx="169.5" cy="420.0" r="1.65"/><circle cx="207.8" cy="402.1" r="1.65"/><circle cx="225.3" cy="403.4" r="1.65"/><circle cx="225.2" cy="408.3" r="1.65"/><circle cx="224.0" cy="396.4" r="1.65"/><circle cx="232.2" cy="402.5" r="1.65"/><circle cx="213.5" cy="420.7" r="1.65"/><circle cx="191.0" cy="416.0" r="1.65"/><circle cx="217.4" cy="406.8" r="1.65"/><circle cx="226.0" cy="411.3" r="1.65"/><circle cx="214.5" cy="413.9" r="1.65"/><circle cx="212.6" cy="401.3" r="1.65"/><circle cx="227.4" cy="415.9" r="1.65"/><circle cx="215.7" cy="406.0" r="1.65"/><circle cx="205.1" cy="416.8" r="1.65"/><circle cx="204.5" cy="401.2" r="1.65"/><circle cx="226.7" cy="403.1" r="1.65"/><circle cx="200.7" cy="422.0" r="1.65"/><circle cx="200.0" cy="402.5" r="1.65"/><circle cx="206.3" cy="406.7" r="1.65"/><circle cx="204.2" cy="411.9" r="1.65"/><circle cx="233.0" cy="411.0" r="1.65"/><circle cx="216.3" cy="413.4" r="1.65"/><circle cx="200.5" cy="413.4" r="1.65"/><circle cx="215.5" cy="419.0" r="1.65"/><circle cx="208.8" cy="413.8" r="1.65"/><circle cx="194.1" cy="422.4" r="1.65"/><circle cx="209.7" cy="411.8" r="1.65"/><circle cx="201.4" cy="415.9" r="1.65"/><circle cx="195.6" cy="415.7" r="1.65"/><circle cx="203.5" cy="420.9" r="1.65"/><circle cx="218.2" cy="409.7" r="1.65"/><circle cx="218.3" cy="417.5" r="1.65"/><circle cx="239.0" cy="404.5" r="1.65"/><circle cx="206.0" cy="409.8" r="1.65"/><circle cx="218.5" cy="416.9" r="1.65"/><circle cx="217.5" cy="411.4" r="1.65"/><circle cx="223.4" cy="406.0" r="1.65"/><circle cx="211.7" cy="406.7" r="1.65"/><circle cx="217.3" cy="413.1" r="1.65"/><circle cx="216.6" cy="410.1" r="1.65"/><circle cx="235.6" cy="407.1" r="1.65"/><circle cx="235.8" cy="416.8" r="1.65"/><circle cx="224.8" cy="410.7" r="1.65"/><circle cx="204.9" cy="412.1" r="1.65"/><circle cx="207.0" cy="401.2" r="1.65"/><circle cx="212.4" cy="406.7" r="1.65"/><circle cx="223.1" cy="402.2" r="1.65"/><circle cx="213.3" cy="408.4" r="1.65"/><circle cx="228.8" cy="411.8" r="1.65"/><circle cx="184.1" cy="423.2" r="1.65"/><circle cx="202.0" cy="423.1" r="1.65"/><circle cx="192.2" cy="417.6" r="1.65"/><circle cx="201.8" cy="425.7" r="1.65"/><circle cx="199.1" cy="413.0" r="1.65"/><circle cx="202.5" cy="409.6" r="1.65"/><circle cx="194.3" cy="410.8" r="1.65"/><circle cx="219.9" cy="413.7" r="1.65"/><circle cx="208.6" cy="412.1" r="1.65"/><circle cx="177.7" cy="421.0" r="1.65"/><circle cx="209.5" cy="424.0" r="1.65"/><circle cx="201.8" cy="414.5" r="1.65"/><circle cx="211.2" cy="418.1" r="1.65"/><circle cx="207.4" cy="417.5" r="1.65"/><circle cx="214.3" cy="420.7" r="1.65"/><circle cx="193.7" cy="415.3" r="1.65"/><circle cx="215.1" cy="416.1" r="1.65"/><circle cx="198.5" cy="420.7" r="1.65"/><circle cx="209.1" cy="421.0" r="1.65"/><circle cx="196.4" cy="418.9" r="1.65"/><circle cx="209.7" cy="421.9" r="1.65"/><circle cx="190.6" cy="416.4" r="1.65"/><circle cx="199.2" cy="425.2" r="1.65"/><circle cx="190.2" cy="420.8" r="1.65"/><circle cx="199.2" cy="421.8" r="1.65"/><circle cx="218.0" cy="416.0" r="1.65"/><circle cx="210.6" cy="415.7" r="1.65"/><circle cx="201.2" cy="413.6" r="1.65"/><circle cx="195.5" cy="426.9" r="1.65"/><circle cx="203.1" cy="421.3" r="1.65"/><circle cx="211.6" cy="422.1" r="1.65"/><circle cx="200.3" cy="417.3" r="1.65"/><circle cx="193.3" cy="419.4" r="1.65"/><circle cx="197.1" cy="416.5" r="1.65"/><circle cx="201.3" cy="417.2" r="1.65"/><circle cx="198.7" cy="429.0" r="1.65"/><circle cx="212.3" cy="413.8" r="1.65"/><circle cx="186.6" cy="421.8" r="1.65"/><circle cx="178.1" cy="432.8" r="1.65"/><circle cx="194.3" cy="408.7" r="1.65"/><circle cx="200.4" cy="416.2" r="1.65"/><circle cx="199.7" cy="414.3" r="1.65"/><circle cx="198.6" cy="421.7" r="1.65"/><circle cx="193.2" cy="413.8" r="1.65"/><circle cx="195.1" cy="427.3" r="1.65"/><circle cx="204.4" cy="416.1" r="1.65"/><circle cx="212.1" cy="416.8" r="1.65"/><circle cx="199.2" cy="417.9" r="1.65"/><circle cx="191.4" cy="415.9" r="1.65"/><circle cx="194.0" cy="422.7" r="1.65"/><circle cx="198.1" cy="416.8" r="1.65"/><circle cx="202.6" cy="413.8" r="1.65"/><circle cx="220.4" cy="418.7" r="1.65"/><circle cx="212.2" cy="417.3" r="1.65"/><circle cx="200.3" cy="413.1" r="1.65"/><circle cx="190.8" cy="417.7" r="1.65"/><circle cx="205.7" cy="424.8" r="1.65"/><circle cx="189.9" cy="419.7" r="1.65"/><circle cx="198.8" cy="413.3" r="1.65"/><circle cx="186.5" cy="410.1" r="1.65"/><circle cx="205.9" cy="414.2" r="1.65"/><circle cx="179.9" cy="415.6" r="1.65"/><circle cx="191.4" cy="413.5" r="1.65"/><circle cx="198.1" cy="419.6" r="1.65"/><circle cx="190.0" cy="418.6" r="1.65"/><circle cx="205.5" cy="425.9" r="1.65"/><circle cx="191.7" cy="418.7" r="1.65"/><circle cx="197.0" cy="419.8" r="1.65"/><circle cx="200.8" cy="417.0" r="1.65"/><circle cx="178.5" cy="412.0" r="1.65"/><circle cx="185.1" cy="411.3" r="1.65"/><circle cx="206.5" cy="426.5" r="1.65"/><circle cx="200.0" cy="410.2" r="1.65"/><circle cx="212.5" cy="416.4" r="1.65"/><circle cx="191.5" cy="411.0" r="1.65"/><circle cx="184.4" cy="425.1" r="1.65"/><circle cx="206.6" cy="423.7" r="1.65"/><circle cx="204.4" cy="422.9" r="1.65"/><circle cx="192.9" cy="411.3" r="1.65"/><circle cx="198.3" cy="414.0" r="1.65"/><circle cx="197.2" cy="419.7" r="1.65"/><circle cx="192.3" cy="422.1" r="1.65"/><circle cx="202.9" cy="415.0" r="1.65"/><circle cx="215.3" cy="415.8" r="1.65"/><circle cx="196.5" cy="414.7" r="1.65"/><circle cx="213.1" cy="424.8" r="1.65"/><circle cx="215.3" cy="421.5" r="1.65"/><circle cx="191.3" cy="403.9" r="1.65"/><circle cx="209.7" cy="420.1" r="1.65"/><circle cx="207.5" cy="410.2" r="1.65"/><circle cx="205.8" cy="411.6" r="1.65"/><circle cx="202.6" cy="414.6" r="1.65"/><circle cx="188.0" cy="422.6" r="1.65"/><circle cx="201.0" cy="424.3" r="1.65"/><circle cx="205.6" cy="417.7" r="1.65"/><circle cx="210.6" cy="412.6" r="1.65"/><circle cx="195.1" cy="431.3" r="1.65"/><circle cx="185.0" cy="417.3" r="1.65"/><circle cx="219.0" cy="417.2" r="1.65"/><circle cx="204.8" cy="417.4" r="1.65"/><circle cx="173.2" cy="414.1" r="1.65"/><circle cx="196.7" cy="425.1" r="1.65"/><circle cx="205.9" cy="417.5" r="1.65"/><circle cx="227.8" cy="428.8" r="1.65"/><circle cx="191.3" cy="417.0" r="1.65"/><circle cx="195.4" cy="413.9" r="1.65"/><circle cx="207.8" cy="414.8" r="1.65"/><circle cx="199.8" cy="420.9" r="1.65"/><circle cx="200.9" cy="412.6" r="1.65"/><circle cx="200.3" cy="428.2" r="1.65"/><circle cx="215.5" cy="419.8" r="1.65"/><circle cx="207.7" cy="419.9" r="1.65"/><circle cx="209.7" cy="419.0" r="1.65"/><circle cx="213.7" cy="410.4" r="1.65"/><circle cx="192.9" cy="432.5" r="1.65"/><circle cx="202.5" cy="422.4" r="1.65"/><circle cx="208.7" cy="415.3" r="1.65"/><circle cx="195.5" cy="422.2" r="1.65"/><circle cx="190.9" cy="409.6" r="1.65"/><circle cx="208.5" cy="418.4" r="1.65"/><circle cx="202.3" cy="412.5" r="1.65"/><circle cx="197.4" cy="426.7" r="1.65"/><circle cx="215.3" cy="418.9" r="1.65"/><circle cx="193.2" cy="417.1" r="1.65"/><circle cx="189.9" cy="422.9" r="1.65"/><circle cx="201.4" cy="420.9" r="1.65"/><circle cx="203.4" cy="415.1" r="1.65"/><circle cx="218.5" cy="418.6" r="1.65"/><circle cx="200.1" cy="420.0" r="1.65"/><circle cx="210.8" cy="414.7" r="1.65"/><circle cx="203.0" cy="407.3" r="1.65"/><circle cx="202.1" cy="415.8" r="1.65"/><circle cx="186.5" cy="426.3" r="1.65"/><circle cx="194.3" cy="416.7" r="1.65"/><circle cx="188.7" cy="422.2" r="1.65"/><circle cx="206.7" cy="420.1" r="1.65"/><circle cx="193.6" cy="419.0" r="1.65"/><circle cx="188.7" cy="412.7" r="1.65"/><circle cx="213.2" cy="411.7" r="1.65"/><circle cx="214.3" cy="427.4" r="1.65"/><circle cx="208.1" cy="417.8" r="1.65"/><circle cx="212.8" cy="420.5" r="1.65"/><circle cx="207.3" cy="407.8" r="1.65"/><circle cx="205.4" cy="416.4" r="1.65"/><circle cx="198.0" cy="414.3" r="1.65"/><circle cx="197.8" cy="423.1" r="1.65"/><circle cx="205.7" cy="408.3" r="1.65"/><circle cx="203.6" cy="411.3" r="1.65"/><circle cx="211.6" cy="416.7" r="1.65"/><circle cx="199.1" cy="421.1" r="1.65"/><circle cx="202.1" cy="414.3" r="1.65"/><circle cx="190.7" cy="418.4" r="1.65"/><circle cx="210.1" cy="420.3" r="1.65"/><circle cx="207.0" cy="414.9" r="1.65"/><circle cx="196.8" cy="412.2" r="1.65"/><circle cx="205.8" cy="417.2" r="1.65"/><circle cx="200.8" cy="414.8" r="1.65"/><circle cx="204.7" cy="414.6" r="1.65"/><circle cx="206.8" cy="419.5" r="1.65"/><circle cx="214.2" cy="417.4" r="1.65"/><circle cx="198.1" cy="410.1" r="1.65"/><circle cx="209.6" cy="426.5" r="1.65"/><circle cx="199.8" cy="412.9" r="1.65"/><circle cx="205.2" cy="425.6" r="1.65"/><circle cx="193.0" cy="420.9" r="1.65"/><circle cx="206.0" cy="412.3" r="1.65"/><circle cx="203.4" cy="417.0" r="1.65"/><circle cx="192.0" cy="411.3" r="1.65"/><circle cx="178.5" cy="414.0" r="1.65"/><circle cx="205.7" cy="415.3" r="1.65"/><circle cx="199.8" cy="416.1" r="1.65"/><circle cx="206.4" cy="420.3" r="1.65"/><circle cx="207.0" cy="416.9" r="1.65"/><circle cx="200.8" cy="430.8" r="1.65"/><circle cx="186.9" cy="418.1" r="1.65"/><circle cx="193.4" cy="412.2" r="1.65"/><circle cx="185.3" cy="410.7" r="1.65"/><circle cx="207.6" cy="415.8" r="1.65"/><circle cx="195.0" cy="423.0" r="1.65"/><circle cx="187.9" cy="420.7" r="1.65"/><circle cx="199.6" cy="413.5" r="1.65"/><circle cx="206.6" cy="411.4" r="1.65"/><circle cx="209.6" cy="420.6" r="1.65"/><circle cx="194.5" cy="411.4" r="1.65"/><circle cx="191.8" cy="411.7" r="1.65"/><circle cx="200.2" cy="424.1" r="1.65"/><circle cx="204.0" cy="415.8" r="1.65"/><circle cx="191.9" cy="429.4" r="1.65"/><circle cx="202.4" cy="414.6" r="1.65"/><circle cx="207.7" cy="414.7" r="1.65"/><circle cx="192.8" cy="425.6" r="1.65"/><circle cx="198.5" cy="411.9" r="1.65"/><circle cx="198.8" cy="423.3" r="1.65"/><circle cx="183.4" cy="430.7" r="1.65"/><circle cx="201.6" cy="414.6" r="1.65"/><circle cx="178.7" cy="420.1" r="1.65"/><circle cx="213.5" cy="428.1" r="1.65"/><circle cx="214.2" cy="410.9" r="1.65"/><circle cx="208.1" cy="414.3" r="1.65"/><circle cx="204.7" cy="413.6" r="1.65"/><circle cx="555.6" cy="413.4" r="1.65"/><circle cx="548.0" cy="424.5" r="1.65"/><circle cx="575.9" cy="403.7" r="1.65"/><circle cx="549.1" cy="405.8" r="1.65"/><circle cx="556.7" cy="413.5" r="1.65"/><circle cx="565.5" cy="412.1" r="1.65"/><circle cx="549.0" cy="414.9" r="1.65"/><circle cx="558.9" cy="410.9" r="1.65"/><circle cx="560.1" cy="413.8" r="1.65"/><circle cx="554.8" cy="415.5" r="1.65"/><circle cx="563.8" cy="409.2" r="1.65"/><circle cx="557.4" cy="408.0" r="1.65"/><circle cx="540.4" cy="405.8" r="1.65"/><circle cx="579.2" cy="419.8" r="1.65"/><circle cx="531.3" cy="419.0" r="1.65"/><circle cx="563.8" cy="409.6" r="1.65"/><circle cx="566.8" cy="406.1" r="1.65"/><circle cx="555.9" cy="408.7" r="1.65"/><circle cx="551.0" cy="405.3" r="1.65"/><circle cx="538.9" cy="412.8" r="1.65"/><circle cx="543.5" cy="416.6" r="1.65"/><circle cx="546.1" cy="404.7" r="1.65"/><circle cx="550.2" cy="402.7" r="1.65"/><circle cx="529.5" cy="403.8" r="1.65"/><circle cx="566.3" cy="418.5" r="1.65"/><circle cx="555.1" cy="403.3" r="1.65"/><circle cx="554.3" cy="404.5" r="1.65"/><circle cx="583.2" cy="408.7" r="1.65"/><circle cx="549.6" cy="414.8" r="1.65"/><circle cx="561.4" cy="411.5" r="1.65"/><circle cx="550.9" cy="410.9" r="1.65"/><circle cx="561.4" cy="416.5" r="1.65"/><circle cx="533.9" cy="424.4" r="1.65"/><circle cx="568.3" cy="409.9" r="1.65"/><circle cx="572.3" cy="410.4" r="1.65"/><circle cx="543.8" cy="407.6" r="1.65"/><circle cx="552.2" cy="417.6" r="1.65"/><circle cx="557.7" cy="407.9" r="1.65"/><circle cx="549.7" cy="414.3" r="1.65"/><circle cx="564.5" cy="410.9" r="1.65"/><circle cx="543.6" cy="411.1" r="1.65"/><circle cx="541.7" cy="409.2" r="1.65"/><circle cx="567.5" cy="415.2" r="1.65"/><circle cx="571.2" cy="414.2" r="1.65"/><circle cx="555.1" cy="415.2" r="1.65"/><circle cx="550.4" cy="410.1" r="1.65"/><circle cx="547.7" cy="414.4" r="1.65"/><circle cx="544.6" cy="415.1" r="1.65"/><circle cx="533.4" cy="411.8" r="1.65"/><circle cx="558.3" cy="405.1" r="1.65"/><circle cx="557.2" cy="413.0" r="1.65"/><circle cx="576.8" cy="416.4" r="1.65"/><circle cx="565.4" cy="415.9" r="1.65"/><circle cx="557.7" cy="421.7" r="1.65"/><circle cx="564.6" cy="411.2" r="1.65"/><circle cx="562.9" cy="410.1" r="1.65"/><circle cx="543.8" cy="410.6" r="1.65"/><circle cx="551.1" cy="406.1" r="1.65"/><circle cx="563.3" cy="414.2" r="1.65"/><circle cx="546.3" cy="413.4" r="1.65"/><circle cx="536.1" cy="413.8" r="1.65"/><circle cx="552.0" cy="406.3" r="1.65"/><circle cx="569.9" cy="415.0" r="1.65"/><circle cx="560.2" cy="412.9" r="1.65"/><circle cx="579.4" cy="410.6" r="1.65"/><circle cx="559.5" cy="415.7" r="1.65"/><circle cx="542.9" cy="409.2" r="1.65"/><circle cx="548.3" cy="408.3" r="1.65"/><circle cx="533.5" cy="406.5" r="1.65"/><circle cx="549.5" cy="404.0" r="1.65"/><circle cx="535.6" cy="407.8" r="1.65"/><circle cx="542.0" cy="413.1" r="1.65"/><circle cx="553.5" cy="412.2" r="1.65"/><circle cx="556.5" cy="406.0" r="1.65"/><circle cx="561.4" cy="410.8" r="1.65"/><circle cx="536.0" cy="415.0" r="1.65"/><circle cx="550.7" cy="422.6" r="1.65"/><circle cx="562.7" cy="411.7" r="1.65"/><circle cx="550.0" cy="404.8" r="1.65"/><circle cx="561.6" cy="409.0" r="1.65"/><circle cx="540.5" cy="408.5" r="1.65"/><circle cx="557.6" cy="415.4" r="1.65"/><circle cx="566.4" cy="407.4" r="1.65"/><circle cx="528.3" cy="409.6" r="1.65"/><circle cx="537.2" cy="403.7" r="1.65"/><circle cx="563.4" cy="416.7" r="1.65"/><circle cx="542.0" cy="409.7" r="1.65"/><circle cx="562.6" cy="412.0" r="1.65"/><circle cx="560.5" cy="422.1" r="1.65"/><circle cx="557.1" cy="405.3" r="1.65"/><circle cx="550.9" cy="414.4" r="1.65"/><circle cx="555.8" cy="416.8" r="1.65"/><circle cx="571.5" cy="421.2" r="1.65"/><circle cx="559.6" cy="413.7" r="1.65"/><circle cx="565.0" cy="415.2" r="1.65"/><circle cx="569.9" cy="408.6" r="1.65"/><circle cx="531.4" cy="421.8" r="1.65"/><circle cx="549.2" cy="402.8" r="1.65"/><circle cx="554.8" cy="409.9" r="1.65"/><circle cx="550.2" cy="406.1" r="1.65"/><circle cx="558.0" cy="408.7" r="1.65"/><circle cx="540.7" cy="403.4" r="1.65"/><circle cx="570.4" cy="417.9" r="1.65"/><circle cx="582.3" cy="406.1" r="1.65"/><circle cx="547.0" cy="421.4" r="1.65"/><circle cx="561.5" cy="407.1" r="1.65"/><circle cx="545.7" cy="420.7" r="1.65"/><circle cx="567.4" cy="413.7" r="1.65"/><circle cx="580.1" cy="404.8" r="1.65"/><circle cx="547.4" cy="406.6" r="1.65"/><circle cx="524.4" cy="409.7" r="1.65"/><circle cx="543.6" cy="417.8" r="1.65"/><circle cx="533.2" cy="407.3" r="1.65"/><circle cx="554.3" cy="409.4" r="1.65"/><circle cx="563.8" cy="415.2" r="1.65"/><circle cx="537.6" cy="420.6" r="1.65"/><circle cx="549.0" cy="405.9" r="1.65"/><circle cx="551.3" cy="406.6" r="1.65"/><circle cx="538.3" cy="413.0" r="1.65"/><circle cx="543.5" cy="417.6" r="1.65"/><circle cx="576.7" cy="405.4" r="1.65"/><circle cx="543.6" cy="414.8" r="1.65"/><circle cx="552.5" cy="418.7" r="1.65"/><circle cx="558.7" cy="417.8" r="1.65"/><circle cx="548.5" cy="416.3" r="1.65"/><circle cx="547.1" cy="418.0" r="1.65"/><circle cx="533.3" cy="415.9" r="1.65"/><circle cx="544.6" cy="412.0" r="1.65"/><circle cx="563.5" cy="411.8" r="1.65"/><circle cx="562.4" cy="414.3" r="1.65"/><circle cx="571.5" cy="407.1" r="1.65"/><circle cx="536.1" cy="406.0" r="1.65"/><circle cx="563.5" cy="425.9" r="1.65"/><circle cx="543.7" cy="413.1" r="1.65"/><circle cx="528.8" cy="416.5" r="1.65"/><circle cx="541.2" cy="407.4" r="1.65"/><circle cx="548.2" cy="403.6" r="1.65"/><circle cx="554.2" cy="408.8" r="1.65"/><circle cx="538.5" cy="421.4" r="1.65"/><circle cx="543.5" cy="405.9" r="1.65"/><circle cx="573.2" cy="406.8" r="1.65"/><circle cx="559.5" cy="415.2" r="1.65"/><circle cx="572.6" cy="402.5" r="1.65"/><circle cx="546.5" cy="410.6" r="1.65"/><circle cx="558.3" cy="410.9" r="1.65"/><circle cx="558.3" cy="407.8" r="1.65"/><circle cx="548.0" cy="417.5" r="1.65"/><circle cx="537.0" cy="420.4" r="1.65"/><circle cx="531.7" cy="409.5" r="1.65"/><circle cx="558.4" cy="416.0" r="1.65"/><circle cx="555.8" cy="416.7" r="1.65"/><circle cx="568.4" cy="413.8" r="1.65"/><circle cx="554.5" cy="406.4" r="1.65"/><circle cx="547.8" cy="420.7" r="1.65"/><circle cx="546.5" cy="405.9" r="1.65"/><circle cx="552.1" cy="409.0" r="1.65"/><circle cx="539.5" cy="409.5" r="1.65"/><circle cx="562.4" cy="410.1" r="1.65"/><circle cx="577.3" cy="411.5" r="1.65"/><circle cx="540.0" cy="419.7" r="1.65"/><circle cx="567.7" cy="410.7" r="1.65"/><circle cx="566.0" cy="407.7" r="1.65"/><circle cx="573.7" cy="403.0" r="1.65"/><circle cx="548.4" cy="408.7" r="1.65"/><circle cx="566.9" cy="417.5" r="1.65"/><circle cx="571.5" cy="403.3" r="1.65"/><circle cx="565.6" cy="411.5" r="1.65"/><circle cx="557.0" cy="416.8" r="1.65"/><circle cx="553.9" cy="413.7" r="1.65"/><circle cx="554.3" cy="413.2" r="1.65"/><circle cx="556.8" cy="403.5" r="1.65"/><circle cx="536.6" cy="405.0" r="1.65"/><circle cx="528.0" cy="422.8" r="1.65"/><circle cx="551.7" cy="410.3" r="1.65"/><circle cx="558.8" cy="419.9" r="1.65"/><circle cx="552.4" cy="409.6" r="1.65"/><circle cx="569.1" cy="410.9" r="1.65"/><circle cx="559.9" cy="416.0" r="1.65"/><circle cx="550.8" cy="412.9" r="1.65"/><circle cx="562.1" cy="416.1" r="1.65"/><circle cx="542.6" cy="407.0" r="1.65"/><circle cx="575.8" cy="408.1" r="1.65"/><circle cx="557.0" cy="412.3" r="1.65"/><circle cx="566.9" cy="407.2" r="1.65"/><circle cx="575.1" cy="408.4" r="1.65"/><circle cx="541.2" cy="413.6" r="1.65"/><circle cx="540.7" cy="417.6" r="1.65"/><circle cx="569.2" cy="405.7" r="1.65"/><circle cx="556.3" cy="415.9" r="1.65"/><circle cx="558.1" cy="410.7" r="1.65"/><circle cx="543.4" cy="421.6" r="1.65"/><circle cx="553.7" cy="408.6" r="1.65"/><circle cx="520.6" cy="407.1" r="1.65"/><circle cx="561.0" cy="413.0" r="1.65"/><circle cx="554.6" cy="412.0" r="1.65"/><circle cx="542.6" cy="412.4" r="1.65"/><circle cx="570.3" cy="418.7" r="1.65"/><circle cx="556.2" cy="409.3" r="1.65"/><circle cx="544.3" cy="412.9" r="1.65"/><circle cx="535.5" cy="415.3" r="1.65"/><circle cx="553.4" cy="408.4" r="1.65"/><circle cx="546.0" cy="409.6" r="1.65"/><circle cx="550.3" cy="412.6" r="1.65"/><circle cx="569.6" cy="413.1" r="1.65"/><circle cx="570.1" cy="403.7" r="1.65"/><circle cx="540.0" cy="404.3" r="1.65"/><circle cx="548.3" cy="415.8" r="1.65"/><circle cx="529.0" cy="417.8" r="1.65"/><circle cx="545.9" cy="416.1" r="1.65"/><circle cx="537.7" cy="414.4" r="1.65"/><circle cx="550.6" cy="401.9" r="1.65"/><circle cx="531.7" cy="413.5" r="1.65"/><circle cx="541.1" cy="419.1" r="1.65"/><circle cx="537.2" cy="415.6" r="1.65"/><circle cx="562.3" cy="411.4" r="1.65"/><circle cx="546.4" cy="406.8" r="1.65"/><circle cx="556.7" cy="411.6" r="1.65"/><circle cx="558.0" cy="415.1" r="1.65"/><circle cx="561.1" cy="407.6" r="1.65"/><circle cx="548.0" cy="417.4" r="1.65"/><circle cx="572.4" cy="409.8" r="1.65"/><circle cx="591.7" cy="414.1" r="1.65"/><circle cx="564.0" cy="412.8" r="1.65"/><circle cx="556.4" cy="405.5" r="1.65"/><circle cx="543.1" cy="410.9" r="1.65"/><circle cx="555.2" cy="409.7" r="1.65"/><circle cx="560.7" cy="404.4" r="1.65"/><circle cx="563.7" cy="408.8" r="1.65"/><circle cx="548.8" cy="416.9" r="1.65"/><circle cx="543.9" cy="413.4" r="1.65"/><circle cx="561.8" cy="412.4" r="1.65"/><circle cx="537.5" cy="406.7" r="1.65"/><circle cx="543.0" cy="414.8" r="1.65"/><circle cx="550.3" cy="407.6" r="1.65"/><circle cx="522.7" cy="416.8" r="1.65"/><circle cx="555.4" cy="412.4" r="1.65"/><circle cx="542.3" cy="413.5" r="1.65"/><circle cx="570.7" cy="413.0" r="1.65"/><circle cx="562.2" cy="405.7" r="1.65"/><circle cx="547.5" cy="407.8" r="1.65"/><circle cx="547.5" cy="413.9" r="1.65"/><circle cx="539.0" cy="405.3" r="1.65"/><circle cx="548.2" cy="413.5" r="1.65"/><circle cx="562.6" cy="411.1" r="1.65"/><circle cx="544.4" cy="419.2" r="1.65"/><circle cx="556.9" cy="408.7" r="1.65"/><circle cx="535.4" cy="403.6" r="1.65"/><circle cx="563.0" cy="415.9" r="1.65"/><circle cx="546.2" cy="412.8" r="1.65"/><circle cx="555.2" cy="411.2" r="1.65"/><circle cx="557.2" cy="403.0" r="1.65"/><circle cx="569.0" cy="411.5" r="1.65"/><circle cx="557.5" cy="406.1" r="1.65"/><circle cx="562.9" cy="411.3" r="1.65"/><circle cx="545.4" cy="410.1" r="1.65"/><circle cx="543.1" cy="413.5" r="1.65"/><circle cx="527.5" cy="409.8" r="1.65"/><circle cx="540.2" cy="413.5" r="1.65"/><circle cx="552.5" cy="408.5" r="1.65"/><circle cx="577.1" cy="409.1" r="1.65"/><circle cx="535.3" cy="409.6" r="1.65"/><circle cx="545.7" cy="408.0" r="1.65"/><circle cx="544.5" cy="414.4" r="1.65"/><circle cx="546.7" cy="414.0" r="1.65"/><circle cx="530.1" cy="414.2" r="1.65"/><circle cx="553.0" cy="403.4" r="1.65"/><circle cx="549.5" cy="412.5" r="1.65"/><circle cx="560.5" cy="407.2" r="1.65"/><circle cx="573.4" cy="406.9" r="1.65"/><circle cx="552.9" cy="402.6" r="1.65"/><circle cx="572.5" cy="413.1" r="1.65"/><circle cx="555.2" cy="420.1" r="1.65"/><circle cx="548.6" cy="415.4" r="1.65"/><circle cx="550.5" cy="413.1" r="1.65"/><circle cx="551.1" cy="410.9" r="1.65"/><circle cx="559.4" cy="409.0" r="1.65"/><circle cx="546.1" cy="417.8" r="1.65"/><circle cx="568.8" cy="402.1" r="1.65"/><circle cx="547.4" cy="407.1" r="1.65"/><circle cx="533.9" cy="419.4" r="1.65"/><circle cx="540.0" cy="415.2" r="1.65"/><circle cx="573.5" cy="421.3" r="1.65"/><circle cx="561.4" cy="407.5" r="1.65"/><circle cx="550.6" cy="409.2" r="1.65"/><circle cx="586.3" cy="416.9" r="1.65"/><circle cx="549.2" cy="411.7" r="1.65"/><circle cx="544.5" cy="418.1" r="1.65"/><circle cx="573.3" cy="409.1" r="1.65"/><circle cx="531.0" cy="414.4" r="1.65"/><circle cx="558.3" cy="408.0" r="1.65"/><circle cx="535.0" cy="410.9" r="1.65"/><circle cx="556.5" cy="408.1" r="1.65"/><circle cx="558.2" cy="420.9" r="1.65"/><circle cx="576.5" cy="409.1" r="1.65"/><circle cx="551.2" cy="417.5" r="1.65"/><circle cx="564.1" cy="411.4" r="1.65"/><circle cx="547.5" cy="416.3" r="1.65"/><circle cx="574.5" cy="412.9" r="1.65"/><circle cx="535.5" cy="412.9" r="1.65"/><circle cx="538.6" cy="409.4" r="1.65"/><circle cx="547.9" cy="416.4" r="1.65"/><circle cx="560.8" cy="414.1" r="1.65"/><circle cx="562.3" cy="403.0" r="1.65"/><circle cx="548.6" cy="414.1" r="1.65"/><circle cx="555.7" cy="405.2" r="1.65"/><circle cx="553.2" cy="409.5" r="1.65"/><circle cx="552.9" cy="408.5" r="1.65"/><circle cx="561.1" cy="414.4" r="1.65"/><circle cx="547.1" cy="410.1" r="1.65"/><circle cx="544.8" cy="409.5" r="1.65"/><circle cx="560.0" cy="410.5" r="1.65"/><circle cx="545.6" cy="414.8" r="1.65"/><circle cx="575.3" cy="405.2" r="1.65"/><circle cx="539.0" cy="415.2" r="1.65"/><circle cx="576.9" cy="401.6" r="1.65"/><circle cx="554.8" cy="403.6" r="1.65"/><circle cx="534.4" cy="410.3" r="1.65"/><circle cx="562.6" cy="421.1" r="1.65"/><circle cx="543.3" cy="405.8" r="1.65"/><circle cx="567.5" cy="413.8" r="1.65"/><circle cx="548.4" cy="418.0" r="1.65"/><circle cx="552.4" cy="412.6" r="1.65"/><circle cx="569.6" cy="409.4" r="1.65"/><circle cx="546.9" cy="407.6" r="1.65"/><circle cx="561.7" cy="405.8" r="1.65"/><circle cx="555.4" cy="406.9" r="1.65"/><circle cx="552.3" cy="418.5" r="1.65"/><circle cx="550.4" cy="411.5" r="1.65"/><circle cx="550.9" cy="409.5" r="1.65"/><circle cx="545.3" cy="402.7" r="1.65"/><circle cx="573.0" cy="423.1" r="1.65"/><circle cx="553.3" cy="414.4" r="1.65"/><circle cx="520.3" cy="408.0" r="1.65"/><circle cx="545.4" cy="412.5" r="1.65"/><circle cx="545.0" cy="404.0" r="1.65"/><circle cx="568.9" cy="408.7" r="1.65"/><circle cx="562.0" cy="411.0" r="1.65"/><circle cx="555.0" cy="414.6" r="1.65"/><circle cx="553.6" cy="414.5" r="1.65"/><circle cx="557.9" cy="405.5" r="1.65"/><circle cx="557.1" cy="403.5" r="1.65"/><circle cx="587.2" cy="422.5" r="1.65"/><circle cx="553.4" cy="413.6" r="1.65"/><circle cx="547.4" cy="418.2" r="1.65"/><circle cx="553.9" cy="411.8" r="1.65"/><circle cx="545.2" cy="411.8" r="1.65"/><circle cx="545.7" cy="423.9" r="1.65"/><circle cx="566.8" cy="412.1" r="1.65"/><circle cx="541.2" cy="408.6" r="1.65"/><circle cx="544.8" cy="422.9" r="1.65"/><circle cx="564.4" cy="420.0" r="1.65"/><circle cx="550.4" cy="409.6" r="1.65"/><circle cx="570.2" cy="403.4" r="1.65"/><circle cx="555.3" cy="414.7" r="1.65"/><circle cx="547.9" cy="404.0" r="1.65"/><circle cx="575.8" cy="407.2" r="1.65"/><circle cx="545.0" cy="404.4" r="1.65"/><circle cx="548.5" cy="412.7" r="1.65"/><circle cx="549.7" cy="406.9" r="1.65"/><circle cx="556.7" cy="404.6" r="1.65"/><circle cx="569.6" cy="407.4" r="1.65"/><circle cx="523.7" cy="420.2" r="1.65"/><circle cx="555.2" cy="410.7" r="1.65"/><circle cx="580.5" cy="410.5" r="1.65"/><circle cx="551.3" cy="404.9" r="1.65"/><circle cx="566.6" cy="411.7" r="1.65"/><circle cx="559.2" cy="416.9" r="1.65"/><circle cx="541.3" cy="403.2" r="1.65"/><circle cx="535.4" cy="405.0" r="1.65"/><circle cx="561.8" cy="405.9" r="1.65"/><circle cx="564.7" cy="407.1" r="1.65"/><circle cx="526.1" cy="416.1" r="1.65"/><circle cx="545.6" cy="405.0" r="1.65"/><circle cx="538.9" cy="414.4" r="1.65"/><circle cx="548.6" cy="402.7" r="1.65"/><circle cx="535.0" cy="418.2" r="1.65"/><circle cx="561.1" cy="422.6" r="1.65"/><circle cx="557.4" cy="413.0" r="1.65"/><circle cx="533.3" cy="412.8" r="1.65"/><circle cx="540.5" cy="409.4" r="1.65"/><circle cx="553.0" cy="409.7" r="1.65"/><circle cx="545.9" cy="410.5" r="1.65"/><circle cx="566.5" cy="421.5" r="1.65"/><circle cx="561.5" cy="413.4" r="1.65"/><circle cx="554.1" cy="408.4" r="1.65"/><circle cx="563.9" cy="408.9" r="1.65"/><circle cx="548.2" cy="408.5" r="1.65"/><circle cx="553.3" cy="411.5" r="1.65"/><circle cx="555.8" cy="405.3" r="1.65"/><circle cx="554.9" cy="409.4" r="1.65"/><circle cx="536.9" cy="411.1" r="1.65"/><circle cx="529.7" cy="406.2" r="1.65"/><circle cx="541.3" cy="402.8" r="1.65"/><circle cx="591.0" cy="412.6" r="1.65"/><circle cx="570.0" cy="408.0" r="1.65"/><circle cx="546.2" cy="415.2" r="1.65"/><circle cx="557.7" cy="419.1" r="1.65"/><circle cx="540.0" cy="411.6" r="1.65"/><circle cx="570.3" cy="408.7" r="1.65"/><circle cx="557.3" cy="403.3" r="1.65"/><circle cx="550.6" cy="410.8" r="1.65"/><circle cx="550.9" cy="420.6" r="1.65"/><circle cx="559.1" cy="407.9" r="1.65"/><circle cx="565.5" cy="417.2" r="1.65"/><circle cx="542.9" cy="404.9" r="1.65"/><circle cx="542.3" cy="409.2" r="1.65"/><circle cx="544.7" cy="408.5" r="1.65"/><circle cx="547.1" cy="407.2" r="1.65"/><circle cx="566.9" cy="406.4" r="1.65"/><circle cx="530.3" cy="404.9" r="1.65"/><circle cx="558.8" cy="416.4" r="1.65"/><circle cx="542.0" cy="410.3" r="1.65"/><circle cx="560.4" cy="412.9" r="1.65"/><circle cx="532.7" cy="408.7" r="1.65"/><circle cx="575.2" cy="408.6" r="1.65"/><circle cx="574.2" cy="409.8" r="1.65"/><circle cx="565.5" cy="414.6" r="1.65"/><circle cx="554.2" cy="416.2" r="1.65"/><circle cx="533.3" cy="411.9" r="1.65"/><circle cx="544.9" cy="407.0" r="1.65"/><circle cx="569.2" cy="411.3" r="1.65"/><circle cx="553.9" cy="409.2" r="1.65"/><circle cx="532.0" cy="408.8" r="1.65"/><circle cx="553.3" cy="410.6" r="1.65"/><circle cx="539.3" cy="421.8" r="1.65"/><circle cx="550.0" cy="408.5" r="1.65"/><circle cx="570.1" cy="403.8" r="1.65"/><circle cx="571.6" cy="408.2" r="1.65"/><circle cx="567.8" cy="411.5" r="1.65"/><circle cx="561.1" cy="404.9" r="1.65"/><circle cx="587.2" cy="408.9" r="1.65"/><circle cx="543.2" cy="410.7" r="1.65"/><circle cx="549.5" cy="415.6" r="1.65"/><circle cx="570.1" cy="406.9" r="1.65"/><circle cx="545.5" cy="409.9" r="1.65"/><circle cx="547.7" cy="406.8" r="1.65"/><circle cx="548.4" cy="414.8" r="1.65"/><circle cx="545.1" cy="412.9" r="1.65"/><circle cx="556.8" cy="415.6" r="1.65"/><circle cx="552.1" cy="407.8" r="1.65"/><circle cx="582.7" cy="405.4" r="1.65"/><circle cx="515.5" cy="413.3" r="1.65"/><circle cx="548.2" cy="408.5" r="1.65"/><circle cx="573.0" cy="406.0" r="1.65"/><circle cx="524.1" cy="408.5" r="1.65"/><circle cx="554.6" cy="407.9" r="1.65"/><circle cx="570.4" cy="416.6" r="1.65"/><circle cx="567.1" cy="419.9" r="1.65"/><circle cx="553.8" cy="408.1" r="1.65"/><circle cx="582.1" cy="414.4" r="1.65"/><circle cx="531.8" cy="406.3" r="1.65"/><circle cx="544.8" cy="401.3" r="1.65"/><circle cx="544.2" cy="415.4" r="1.65"/><circle cx="568.9" cy="409.8" r="1.65"/><circle cx="565.8" cy="418.6" r="1.65"/><circle cx="574.1" cy="413.7" r="1.65"/><circle cx="563.5" cy="416.1" r="1.65"/><circle cx="533.6" cy="411.8" r="1.65"/><circle cx="557.6" cy="406.2" r="1.65"/><circle cx="542.9" cy="403.1" r="1.65"/><circle cx="551.3" cy="408.8" r="1.65"/><circle cx="546.3" cy="403.6" r="1.65"/><circle cx="537.3" cy="418.0" r="1.65"/><circle cx="550.6" cy="417.0" r="1.65"/><circle cx="562.1" cy="405.0" r="1.65"/><circle cx="543.7" cy="405.8" r="1.65"/><circle cx="544.8" cy="410.6" r="1.65"/><circle cx="553.2" cy="415.6" r="1.65"/><circle cx="541.6" cy="403.4" r="1.65"/><circle cx="532.1" cy="413.0" r="1.65"/><circle cx="548.4" cy="424.5" r="1.65"/><circle cx="547.3" cy="404.5" r="1.65"/><circle cx="556.1" cy="415.5" r="1.65"/><circle cx="561.9" cy="407.3" r="1.65"/><circle cx="578.8" cy="414.6" r="1.65"/><circle cx="548.3" cy="410.1" r="1.65"/><circle cx="551.4" cy="409.8" r="1.65"/><circle cx="551.8" cy="414.4" r="1.65"/><circle cx="532.9" cy="413.6" r="1.65"/><circle cx="535.6" cy="416.4" r="1.65"/><circle cx="546.3" cy="407.4" r="1.65"/><circle cx="563.9" cy="416.4" r="1.65"/><circle cx="556.9" cy="405.7" r="1.65"/><circle cx="552.5" cy="419.9" r="1.65"/><circle cx="525.8" cy="405.8" r="1.65"/><circle cx="564.5" cy="408.8" r="1.65"/><circle cx="539.6" cy="402.0" r="1.65"/><circle cx="568.2" cy="410.7" r="1.65"/><circle cx="550.1" cy="421.8" r="1.65"/><circle cx="562.4" cy="419.8" r="1.65"/><circle cx="561.5" cy="406.3" r="1.65"/><circle cx="548.8" cy="407.1" r="1.65"/><circle cx="562.9" cy="409.0" r="1.65"/><circle cx="547.6" cy="403.3" r="1.65"/><circle cx="558.2" cy="411.6" r="1.65"/><circle cx="550.8" cy="409.7" r="1.65"/><circle cx="581.7" cy="409.9" r="1.65"/><circle cx="549.9" cy="416.6" r="1.65"/><circle cx="537.5" cy="421.5" r="1.65"/><circle cx="555.8" cy="410.3" r="1.65"/><circle cx="539.9" cy="419.1" r="1.65"/><circle cx="548.7" cy="413.5" r="1.65"/><circle cx="536.0" cy="408.7" r="1.65"/><circle cx="554.6" cy="410.8" r="1.65"/><circle cx="562.6" cy="414.3" r="1.65"/><circle cx="570.0" cy="416.4" r="1.65"/><circle cx="559.3" cy="406.8" r="1.65"/><circle cx="549.5" cy="408.5" r="1.65"/><circle cx="536.6" cy="419.2" r="1.65"/><circle cx="550.3" cy="414.7" r="1.65"/><circle cx="560.3" cy="410.3" r="1.65"/><circle cx="560.6" cy="408.7" r="1.65"/><circle cx="555.4" cy="410.0" r="1.65"/><circle cx="548.1" cy="413.2" r="1.65"/><circle cx="578.5" cy="420.7" r="1.65"/><circle cx="550.4" cy="404.7" r="1.65"/><circle cx="559.7" cy="417.8" r="1.65"/><circle cx="548.6" cy="418.7" r="1.65"/><circle cx="547.2" cy="407.4" r="1.65"/><circle cx="547.5" cy="418.9" r="1.65"/><circle cx="547.1" cy="419.7" r="1.65"/><circle cx="545.5" cy="409.3" r="1.65"/><circle cx="561.8" cy="403.1" r="1.65"/><circle cx="548.4" cy="409.2" r="1.65"/><circle cx="558.0" cy="407.4" r="1.65"/><circle cx="516.6" cy="415.1" r="1.65"/><circle cx="562.7" cy="417.1" r="1.65"/><circle cx="555.7" cy="405.8" r="1.65"/><circle cx="528.6" cy="411.7" r="1.65"/><circle cx="555.5" cy="410.6" r="1.65"/><circle cx="533.2" cy="408.6" r="1.65"/><circle cx="545.4" cy="405.9" r="1.65"/><circle cx="557.9" cy="413.8" r="1.65"/><circle cx="554.7" cy="414.7" r="1.65"/><circle cx="543.6" cy="419.8" r="1.65"/><circle cx="549.4" cy="406.1" r="1.65"/><circle cx="553.8" cy="410.9" r="1.65"/><circle cx="544.3" cy="413.8" r="1.65"/><circle cx="561.6" cy="419.5" r="1.65"/><circle cx="578.2" cy="411.2" r="1.65"/><circle cx="579.5" cy="404.0" r="1.65"/><circle cx="546.7" cy="406.6" r="1.65"/><circle cx="555.2" cy="408.2" r="1.65"/><circle cx="562.0" cy="414.1" r="1.65"/><circle cx="544.1" cy="413.4" r="1.65"/><circle cx="534.6" cy="412.5" r="1.65"/><circle cx="554.7" cy="409.5" r="1.65"/><circle cx="554.2" cy="413.3" r="1.65"/><circle cx="561.7" cy="422.9" r="1.65"/><circle cx="546.6" cy="412.9" r="1.65"/><circle cx="562.9" cy="407.2" r="1.65"/><circle cx="561.7" cy="411.0" r="1.65"/><circle cx="563.5" cy="416.9" r="1.65"/><circle cx="552.3" cy="423.4" r="1.65"/><circle cx="573.0" cy="402.0" r="1.65"/><circle cx="543.8" cy="416.1" r="1.65"/><circle cx="524.8" cy="420.1" r="1.65"/><circle cx="552.8" cy="412.1" r="1.65"/><circle cx="532.6" cy="414.1" r="1.65"/><circle cx="542.9" cy="408.5" r="1.65"/><circle cx="560.3" cy="412.5" r="1.65"/><circle cx="552.8" cy="411.2" r="1.65"/><circle cx="524.9" cy="410.1" r="1.65"/><circle cx="550.5" cy="406.8" r="1.65"/><circle cx="528.1" cy="406.7" r="1.65"/><circle cx="543.3" cy="409.6" r="1.65"/><circle cx="566.7" cy="419.7" r="1.65"/><circle cx="534.8" cy="405.4" r="1.65"/><circle cx="537.0" cy="416.7" r="1.65"/><circle cx="559.0" cy="412.3" r="1.65"/><circle cx="561.2" cy="409.4" r="1.65"/><circle cx="551.1" cy="405.4" r="1.65"/><circle cx="579.1" cy="411.7" r="1.65"/><circle cx="570.1" cy="404.6" r="1.65"/><circle cx="552.8" cy="408.5" r="1.65"/><circle cx="539.6" cy="414.7" r="1.65"/><circle cx="555.0" cy="411.4" r="1.65"/><circle cx="567.9" cy="418.6" r="1.65"/><circle cx="547.8" cy="414.8" r="1.65"/><circle cx="549.6" cy="404.4" r="1.65"/><circle cx="536.2" cy="406.2" r="1.65"/><circle cx="544.0" cy="413.0" r="1.65"/><circle cx="564.1" cy="412.7" r="1.65"/><circle cx="559.9" cy="410.4" r="1.65"/><circle cx="549.3" cy="413.2" r="1.65"/><circle cx="529.7" cy="415.4" r="1.65"/><circle cx="553.7" cy="409.9" r="1.65"/><circle cx="532.7" cy="405.3" r="1.65"/><circle cx="558.8" cy="418.6" r="1.65"/><circle cx="538.4" cy="408.1" r="1.65"/><circle cx="529.4" cy="415.3" r="1.65"/><circle cx="551.0" cy="411.8" r="1.65"/><circle cx="551.0" cy="408.7" r="1.65"/><circle cx="541.6" cy="413.8" r="1.65"/><circle cx="577.7" cy="419.1" r="1.65"/><circle cx="546.1" cy="410.3" r="1.65"/><circle cx="543.6" cy="403.9" r="1.65"/><circle cx="552.7" cy="406.6" r="1.65"/><circle cx="518.8" cy="404.1" r="1.65"/><circle cx="566.4" cy="415.3" r="1.65"/><circle cx="568.4" cy="409.4" r="1.65"/><circle cx="553.2" cy="416.8" r="1.65"/><circle cx="551.8" cy="418.3" r="1.65"/><circle cx="541.8" cy="415.3" r="1.65"/><circle cx="543.0" cy="404.1" r="1.65"/><circle cx="562.6" cy="416.0" r="1.65"/><circle cx="566.4" cy="420.6" r="1.65"/><circle cx="543.8" cy="411.6" r="1.65"/><circle cx="567.2" cy="406.6" r="1.65"/><circle cx="557.9" cy="403.2" r="1.65"/><circle cx="561.3" cy="402.8" r="1.65"/><circle cx="542.3" cy="420.5" r="1.65"/><circle cx="547.0" cy="405.9" r="1.65"/><circle cx="555.6" cy="405.6" r="1.65"/><circle cx="561.3" cy="407.7" r="1.65"/><circle cx="562.7" cy="414.9" r="1.65"/><circle cx="566.2" cy="416.5" r="1.65"/><circle cx="550.9" cy="418.9" r="1.65"/><circle cx="558.8" cy="419.7" r="1.65"/><circle cx="570.2" cy="418.5" r="1.65"/><circle cx="555.7" cy="411.5" r="1.65"/><circle cx="541.3" cy="403.5" r="1.65"/><circle cx="547.0" cy="402.2" r="1.65"/><circle cx="539.4" cy="415.3" r="1.65"/><circle cx="527.1" cy="407.5" r="1.65"/><circle cx="564.0" cy="409.4" r="1.65"/><circle cx="550.4" cy="416.0" r="1.65"/><circle cx="582.1" cy="406.4" r="1.65"/><circle cx="529.1" cy="412.5" r="1.65"/><circle cx="519.4" cy="401.5" r="1.65"/><circle cx="577.4" cy="402.2" r="1.65"/><circle cx="551.8" cy="414.1" r="1.65"/><circle cx="534.7" cy="407.6" r="1.65"/><circle cx="543.0" cy="412.8" r="1.65"/><circle cx="544.4" cy="412.5" r="1.65"/><circle cx="563.8" cy="400.9" r="1.65"/><circle cx="554.4" cy="410.5" r="1.65"/><circle cx="538.4" cy="417.8" r="1.65"/><circle cx="539.0" cy="405.5" r="1.65"/><circle cx="555.6" cy="405.0" r="1.65"/><circle cx="557.9" cy="413.0" r="1.65"/><circle cx="536.8" cy="412.8" r="1.65"/><circle cx="556.0" cy="412.8" r="1.65"/><circle cx="577.9" cy="412.8" r="1.65"/><circle cx="559.6" cy="411.6" r="1.65"/><circle cx="557.1" cy="412.7" r="1.65"/><circle cx="558.9" cy="402.3" r="1.65"/><circle cx="536.6" cy="423.5" r="1.65"/><circle cx="569.8" cy="409.6" r="1.65"/><circle cx="563.7" cy="412.3" r="1.65"/><circle cx="537.7" cy="406.7" r="1.65"/><circle cx="544.8" cy="420.0" r="1.65"/><circle cx="548.7" cy="407.3" r="1.65"/><circle cx="535.1" cy="418.2" r="1.65"/><circle cx="568.2" cy="410.5" r="1.65"/><circle cx="557.6" cy="417.4" r="1.65"/><circle cx="544.0" cy="410.0" r="1.65"/><circle cx="554.7" cy="409.9" r="1.65"/><circle cx="572.5" cy="409.8" r="1.65"/><circle cx="532.6" cy="415.9" r="1.65"/><circle cx="551.3" cy="403.4" r="1.65"/><circle cx="543.2" cy="413.2" r="1.65"/><circle cx="551.6" cy="415.1" r="1.65"/><circle cx="541.3" cy="412.3" r="1.65"/><circle cx="564.4" cy="408.2" r="1.65"/><circle cx="548.0" cy="408.7" r="1.65"/><circle cx="535.3" cy="405.2" r="1.65"/><circle cx="561.1" cy="409.3" r="1.65"/><circle cx="514.2" cy="416.9" r="1.65"/><circle cx="539.8" cy="407.0" r="1.65"/><circle cx="532.4" cy="409.7" r="1.65"/><circle cx="549.6" cy="412.8" r="1.65"/><circle cx="562.5" cy="402.7" r="1.65"/><circle cx="556.7" cy="412.7" r="1.65"/><circle cx="522.5" cy="402.4" r="1.65"/><circle cx="547.8" cy="421.9" r="1.65"/><circle cx="553.7" cy="402.6" r="1.65"/><circle cx="549.8" cy="417.9" r="1.65"/><circle cx="580.5" cy="407.4" r="1.65"/><circle cx="556.1" cy="405.0" r="1.65"/><circle cx="524.0" cy="411.4" r="1.65"/><circle cx="544.6" cy="414.2" r="1.65"/><circle cx="534.1" cy="415.8" r="1.65"/><circle cx="549.2" cy="409.4" r="1.65"/><circle cx="558.2" cy="407.2" r="1.65"/><circle cx="569.4" cy="407.2" r="1.65"/><circle cx="545.3" cy="420.0" r="1.65"/><circle cx="556.5" cy="415.8" r="1.65"/><circle cx="568.8" cy="415.4" r="1.65"/><circle cx="523.4" cy="410.6" r="1.65"/><circle cx="565.7" cy="412.1" r="1.65"/><circle cx="554.3" cy="410.0" r="1.65"/><circle cx="574.0" cy="409.1" r="1.65"/><circle cx="551.4" cy="414.5" r="1.65"/><circle cx="566.7" cy="416.5" r="1.65"/><circle cx="559.7" cy="409.0" r="1.65"/><circle cx="547.0" cy="412.7" r="1.65"/><circle cx="561.6" cy="418.0" r="1.65"/><circle cx="545.2" cy="411.4" r="1.65"/><circle cx="551.8" cy="412.2" r="1.65"/><circle cx="554.7" cy="407.8" r="1.65"/><circle cx="540.4" cy="410.4" r="1.65"/><circle cx="545.1" cy="402.1" r="1.65"/><circle cx="533.9" cy="412.3" r="1.65"/><circle cx="560.9" cy="412.6" r="1.65"/><circle cx="547.7" cy="414.1" r="1.65"/><circle cx="556.0" cy="417.7" r="1.65"/><circle cx="550.9" cy="411.5" r="1.65"/><circle cx="533.2" cy="409.3" r="1.65"/><circle cx="546.1" cy="409.0" r="1.65"/><circle cx="563.1" cy="408.8" r="1.65"/><circle cx="537.0" cy="408.9" r="1.65"/><circle cx="531.7" cy="415.3" r="1.65"/><circle cx="573.6" cy="410.7" r="1.65"/><circle cx="572.2" cy="411.8" r="1.65"/><circle cx="552.4" cy="417.3" r="1.65"/><circle cx="564.4" cy="411.9" r="1.65"/><circle cx="560.4" cy="408.1" r="1.65"/><circle cx="559.3" cy="408.7" r="1.65"/><circle cx="552.0" cy="410.6" r="1.65"/><circle cx="543.7" cy="423.1" r="1.65"/><circle cx="559.0" cy="416.1" r="1.65"/><circle cx="540.2" cy="406.1" r="1.65"/><circle cx="557.3" cy="411.4" r="1.65"/><circle cx="562.5" cy="415.5" r="1.65"/><circle cx="559.7" cy="412.0" r="1.65"/><circle cx="555.1" cy="403.4" r="1.65"/><circle cx="570.1" cy="414.8" r="1.65"/><circle cx="582.9" cy="417.6" r="1.65"/><circle cx="552.0" cy="406.0" r="1.65"/><circle cx="524.1" cy="404.2" r="1.65"/><circle cx="567.8" cy="410.9" r="1.65"/><circle cx="556.8" cy="409.0" r="1.65"/><circle cx="550.6" cy="404.0" r="1.65"/><circle cx="548.6" cy="410.5" r="1.65"/><circle cx="558.0" cy="405.3" r="1.65"/><circle cx="567.5" cy="418.9" r="1.65"/><circle cx="527.3" cy="411.1" r="1.65"/><circle cx="552.6" cy="416.6" r="1.65"/><circle cx="557.2" cy="406.6" r="1.65"/><circle cx="540.0" cy="410.1" r="1.65"/><circle cx="578.0" cy="406.3" r="1.65"/><circle cx="539.0" cy="409.1" r="1.65"/><circle cx="561.8" cy="403.4" r="1.65"/><circle cx="539.0" cy="411.8" r="1.65"/><circle cx="568.6" cy="415.9" r="1.65"/><circle cx="552.4" cy="421.3" r="1.65"/><circle cx="572.2" cy="411.1" r="1.65"/><circle cx="560.5" cy="419.1" r="1.65"/><circle cx="548.8" cy="413.5" r="1.65"/><circle cx="559.8" cy="407.1" r="1.65"/><circle cx="528.0" cy="416.1" r="1.65"/><circle cx="553.8" cy="410.3" r="1.65"/><circle cx="557.7" cy="412.8" r="1.65"/><circle cx="549.6" cy="409.1" r="1.65"/><circle cx="544.4" cy="415.2" r="1.65"/><circle cx="546.2" cy="410.3" r="1.65"/><circle cx="551.3" cy="413.1" r="1.65"/><circle cx="549.9" cy="410.6" r="1.65"/><circle cx="557.3" cy="408.2" r="1.65"/><circle cx="536.7" cy="404.6" r="1.65"/><circle cx="532.6" cy="407.2" r="1.65"/><circle cx="544.1" cy="407.0" r="1.65"/><circle cx="566.7" cy="421.4" r="1.65"/><circle cx="560.8" cy="408.8" r="1.65"/><circle cx="547.1" cy="408.1" r="1.65"/><circle cx="546.7" cy="409.7" r="1.65"/><circle cx="539.6" cy="405.8" r="1.65"/><circle cx="560.5" cy="406.1" r="1.65"/><circle cx="578.2" cy="410.9" r="1.65"/><circle cx="547.7" cy="412.8" r="1.65"/><circle cx="561.8" cy="404.4" r="1.65"/><circle cx="543.5" cy="422.3" r="1.65"/><circle cx="558.8" cy="410.7" r="1.65"/><circle cx="555.2" cy="407.4" r="1.65"/><circle cx="538.8" cy="410.0" r="1.65"/><circle cx="549.2" cy="408.2" r="1.65"/><circle cx="568.5" cy="410.4" r="1.65"/><circle cx="542.0" cy="403.2" r="1.65"/><circle cx="561.9" cy="411.7" r="1.65"/><circle cx="529.9" cy="415.6" r="1.65"/><circle cx="554.6" cy="407.3" r="1.65"/><circle cx="546.0" cy="408.0" r="1.65"/><circle cx="544.6" cy="413.0" r="1.65"/><circle cx="559.5" cy="412.1" r="1.65"/><circle cx="554.4" cy="405.5" r="1.65"/><circle cx="567.0" cy="414.0" r="1.65"/><circle cx="549.4" cy="418.3" r="1.65"/><circle cx="536.0" cy="408.9" r="1.65"/><circle cx="545.9" cy="421.4" r="1.65"/><circle cx="559.3" cy="415.5" r="1.65"/><circle cx="548.6" cy="408.2" r="1.65"/><circle cx="557.6" cy="411.0" r="1.65"/><circle cx="527.2" cy="407.4" r="1.65"/><circle cx="545.0" cy="418.9" r="1.65"/><circle cx="524.5" cy="403.0" r="1.65"/><circle cx="554.3" cy="410.0" r="1.65"/><circle cx="560.2" cy="411.1" r="1.65"/><circle cx="533.8" cy="406.7" r="1.65"/><circle cx="565.2" cy="407.6" r="1.65"/><circle cx="572.0" cy="399.6" r="1.65"/><circle cx="542.4" cy="413.2" r="1.65"/><circle cx="563.8" cy="409.6" r="1.65"/><circle cx="555.2" cy="405.2" r="1.65"/><circle cx="562.0" cy="413.2" r="1.65"/><circle cx="554.2" cy="414.7" r="1.65"/><circle cx="550.1" cy="417.0" r="1.65"/><circle cx="527.8" cy="413.5" r="1.65"/><circle cx="545.1" cy="405.4" r="1.65"/><circle cx="572.6" cy="410.4" r="1.65"/><circle cx="558.6" cy="414.2" r="1.65"/><circle cx="541.0" cy="412.2" r="1.65"/><circle cx="549.1" cy="408.8" r="1.65"/><circle cx="550.0" cy="420.1" r="1.65"/><circle cx="554.3" cy="414.3" r="1.65"/><circle cx="555.4" cy="404.0" r="1.65"/><circle cx="544.7" cy="410.9" r="1.65"/><circle cx="559.3" cy="416.0" r="1.65"/><circle cx="555.6" cy="407.3" r="1.65"/><circle cx="563.1" cy="404.1" r="1.65"/><circle cx="559.9" cy="408.2" r="1.65"/><circle cx="535.3" cy="426.0" r="1.65"/><circle cx="540.7" cy="402.2" r="1.65"/><circle cx="554.4" cy="423.5" r="1.65"/><circle cx="547.6" cy="408.4" r="1.65"/><circle cx="529.6" cy="407.1" r="1.65"/><circle cx="538.5" cy="404.4" r="1.65"/><circle cx="536.2" cy="408.8" r="1.65"/><circle cx="534.4" cy="403.8" r="1.65"/><circle cx="554.6" cy="405.1" r="1.65"/><circle cx="554.4" cy="417.2" r="1.65"/><circle cx="544.9" cy="417.5" r="1.65"/><circle cx="539.9" cy="409.5" r="1.65"/><circle cx="566.6" cy="405.4" r="1.65"/><circle cx="559.6" cy="413.6" r="1.65"/><circle cx="559.6" cy="415.3" r="1.65"/><circle cx="555.7" cy="405.5" r="1.65"/><circle cx="550.8" cy="413.1" r="1.65"/><circle cx="547.7" cy="406.8" r="1.65"/><circle cx="549.2" cy="418.6" r="1.65"/><circle cx="547.9" cy="416.5" r="1.65"/><circle cx="572.0" cy="410.3" r="1.65"/><circle cx="534.6" cy="408.8" r="1.65"/><circle cx="562.2" cy="408.2" r="1.65"/><circle cx="548.6" cy="409.5" r="1.65"/><circle cx="556.6" cy="404.6" r="1.65"/><circle cx="550.4" cy="401.5" r="1.65"/><circle cx="553.4" cy="420.2" r="1.65"/><circle cx="538.4" cy="420.8" r="1.65"/><circle cx="531.5" cy="403.4" r="1.65"/><circle cx="544.9" cy="406.9" r="1.65"/><circle cx="541.9" cy="410.4" r="1.65"/><circle cx="539.9" cy="405.4" r="1.65"/><circle cx="550.0" cy="413.0" r="1.65"/><circle cx="558.8" cy="405.5" r="1.65"/><circle cx="537.5" cy="414.1" r="1.65"/><circle cx="556.9" cy="421.1" r="1.65"/><circle cx="570.0" cy="408.8" r="1.65"/><circle cx="552.9" cy="411.5" r="1.65"/><circle cx="550.2" cy="413.3" r="1.65"/><circle cx="570.7" cy="406.4" r="1.65"/><circle cx="568.8" cy="412.1" r="1.65"/><circle cx="537.8" cy="413.9" r="1.65"/><circle cx="562.1" cy="404.1" r="1.65"/><circle cx="536.6" cy="411.9" r="1.65"/><circle cx="553.5" cy="411.1" r="1.65"/><circle cx="542.3" cy="406.5" r="1.65"/><circle cx="546.5" cy="411.7" r="1.65"/><circle cx="524.8" cy="411.0" r="1.65"/><circle cx="528.7" cy="406.3" r="1.65"/><circle cx="559.3" cy="413.3" r="1.65"/><circle cx="555.2" cy="409.7" r="1.65"/><circle cx="551.3" cy="408.3" r="1.65"/><circle cx="551.6" cy="413.1" r="1.65"/><circle cx="555.6" cy="410.5" r="1.65"/><circle cx="562.2" cy="412.6" r="1.65"/><circle cx="548.3" cy="406.5" r="1.65"/><circle cx="566.0" cy="406.5" r="1.65"/><circle cx="534.5" cy="410.0" r="1.65"/><circle cx="552.8" cy="407.7" r="1.65"/><circle cx="542.0" cy="416.4" r="1.65"/><circle cx="551.6" cy="415.5" r="1.65"/><circle cx="539.7" cy="410.8" r="1.65"/><circle cx="564.7" cy="409.6" r="1.65"/><circle cx="567.1" cy="416.1" r="1.65"/><circle cx="562.0" cy="410.4" r="1.65"/><circle cx="542.1" cy="412.8" r="1.65"/><circle cx="542.3" cy="411.6" r="1.65"/><circle cx="543.7" cy="403.2" r="1.65"/><circle cx="548.6" cy="418.5" r="1.65"/><circle cx="550.6" cy="408.2" r="1.65"/><circle cx="549.1" cy="405.5" r="1.65"/><circle cx="541.7" cy="415.3" r="1.65"/><circle cx="573.4" cy="410.4" r="1.65"/><circle cx="559.8" cy="407.5" r="1.65"/><circle cx="560.3" cy="410.1" r="1.65"/><circle cx="550.7" cy="404.2" r="1.65"/><circle cx="547.0" cy="409.7" r="1.65"/><circle cx="561.6" cy="412.6" r="1.65"/><circle cx="534.0" cy="407.8" r="1.65"/><circle cx="566.5" cy="408.9" r="1.65"/><circle cx="532.2" cy="406.7" r="1.65"/><circle cx="577.6" cy="419.2" r="1.65"/><circle cx="519.4" cy="411.8" r="1.65"/><circle cx="554.1" cy="405.9" r="1.65"/><circle cx="563.3" cy="409.8" r="1.65"/><circle cx="559.9" cy="408.4" r="1.65"/><circle cx="554.7" cy="410.7" r="1.65"/><circle cx="551.3" cy="406.3" r="1.65"/><circle cx="558.2" cy="412.8" r="1.65"/><circle cx="566.7" cy="414.5" r="1.65"/><circle cx="550.3" cy="409.6" r="1.65"/><circle cx="529.7" cy="412.5" r="1.65"/><circle cx="563.8" cy="405.7" r="1.65"/><circle cx="538.4" cy="415.0" r="1.65"/><circle cx="539.9" cy="411.7" r="1.65"/><circle cx="552.4" cy="419.3" r="1.65"/><circle cx="557.1" cy="409.9" r="1.65"/><circle cx="552.3" cy="414.1" r="1.65"/><circle cx="550.9" cy="420.4" r="1.65"/><circle cx="556.0" cy="409.1" r="1.65"/><circle cx="551.9" cy="417.0" r="1.65"/><circle cx="568.9" cy="403.9" r="1.65"/><circle cx="530.1" cy="408.0" r="1.65"/><circle cx="555.1" cy="424.8" r="1.65"/><circle cx="559.6" cy="406.7" r="1.65"/><circle cx="562.1" cy="409.4" r="1.65"/><circle cx="545.2" cy="413.2" r="1.65"/><circle cx="559.5" cy="403.7" r="1.65"/><circle cx="547.2" cy="411.9" r="1.65"/><circle cx="561.8" cy="422.5" r="1.65"/><circle cx="558.7" cy="411.6" r="1.65"/><circle cx="526.2" cy="406.0" r="1.65"/><circle cx="542.0" cy="405.8" r="1.65"/><circle cx="570.2" cy="417.3" r="1.65"/><circle cx="538.5" cy="410.4" r="1.65"/><circle cx="531.7" cy="406.2" r="1.65"/><circle cx="555.6" cy="404.8" r="1.65"/><circle cx="530.8" cy="409.1" r="1.65"/><circle cx="559.0" cy="420.4" r="1.65"/><circle cx="564.3" cy="418.0" r="1.65"/><circle cx="555.6" cy="417.7" r="1.65"/><circle cx="554.2" cy="410.0" r="1.65"/><circle cx="569.5" cy="412.7" r="1.65"/><circle cx="554.1" cy="405.5" r="1.65"/><circle cx="558.8" cy="401.3" r="1.65"/><circle cx="553.6" cy="403.7" r="1.65"/><circle cx="543.9" cy="404.8" r="1.65"/><circle cx="538.7" cy="410.8" r="1.65"/><circle cx="563.0" cy="414.8" r="1.65"/><circle cx="561.1" cy="406.8" r="1.65"/><circle cx="548.3" cy="412.8" r="1.65"/><circle cx="543.0" cy="408.1" r="1.65"/><circle cx="570.0" cy="408.1" r="1.65"/><circle cx="588.6" cy="418.2" r="1.65"/><circle cx="547.2" cy="406.0" r="1.65"/><circle cx="540.3" cy="407.8" r="1.65"/><circle cx="564.4" cy="408.8" r="1.65"/><circle cx="551.6" cy="404.5" r="1.65"/><circle cx="559.5" cy="405.7" r="1.65"/><circle cx="561.1" cy="413.6" r="1.65"/><circle cx="540.8" cy="411.9" r="1.65"/><circle cx="556.6" cy="410.9" r="1.65"/><circle cx="566.1" cy="408.3" r="1.65"/><circle cx="566.3" cy="409.1" r="1.65"/><circle cx="545.4" cy="405.0" r="1.65"/><circle cx="560.5" cy="414.6" r="1.65"/><circle cx="512.3" cy="403.4" r="1.65"/><circle cx="554.9" cy="410.3" r="1.65"/><circle cx="550.4" cy="412.8" r="1.65"/><circle cx="583.4" cy="412.5" r="1.65"/><circle cx="550.2" cy="405.4" r="1.65"/><circle cx="558.7" cy="411.0" r="1.65"/><circle cx="550.3" cy="417.6" r="1.65"/><circle cx="567.3" cy="416.1" r="1.65"/><circle cx="523.6" cy="404.1" r="1.65"/><circle cx="563.1" cy="408.1" r="1.65"/><circle cx="547.2" cy="403.3" r="1.65"/><circle cx="540.1" cy="422.7" r="1.65"/><circle cx="555.6" cy="405.5" r="1.65"/><circle cx="564.0" cy="411.5" r="1.65"/><circle cx="551.1" cy="405.1" r="1.65"/><circle cx="552.8" cy="410.9" r="1.65"/><circle cx="531.4" cy="412.0" r="1.65"/><circle cx="537.2" cy="408.8" r="1.65"/><circle cx="555.2" cy="406.1" r="1.65"/><circle cx="575.9" cy="411.2" r="1.65"/><circle cx="571.6" cy="416.7" r="1.65"/><circle cx="555.4" cy="404.7" r="1.65"/><circle cx="578.0" cy="416.6" r="1.65"/><circle cx="550.2" cy="409.4" r="1.65"/><circle cx="552.2" cy="415.7" r="1.65"/><circle cx="532.9" cy="417.3" r="1.65"/><circle cx="552.4" cy="418.0" r="1.65"/><circle cx="575.8" cy="403.1" r="1.65"/><circle cx="529.4" cy="413.1" r="1.65"/><circle cx="570.1" cy="401.9" r="1.65"/><circle cx="567.5" cy="418.5" r="1.65"/><circle cx="548.8" cy="402.8" r="1.65"/><circle cx="554.7" cy="412.9" r="1.65"/><circle cx="559.8" cy="404.5" r="1.65"/><circle cx="555.2" cy="408.8" r="1.65"/><circle cx="566.9" cy="413.5" r="1.65"/><circle cx="541.9" cy="405.8" r="1.65"/><circle cx="538.3" cy="407.4" r="1.65"/><circle cx="544.2" cy="405.4" r="1.65"/><circle cx="538.4" cy="403.7" r="1.65"/><circle cx="557.0" cy="412.0" r="1.65"/><circle cx="542.5" cy="411.1" r="1.65"/><circle cx="541.7" cy="417.2" r="1.65"/><circle cx="566.9" cy="406.8" r="1.65"/><circle cx="568.9" cy="418.1" r="1.65"/><circle cx="528.7" cy="419.4" r="1.65"/><circle cx="561.5" cy="405.6" r="1.65"/><circle cx="529.9" cy="404.4" r="1.65"/><circle cx="547.8" cy="417.2" r="1.65"/><circle cx="552.3" cy="407.0" r="1.65"/><circle cx="550.5" cy="411.3" r="1.65"/><circle cx="542.6" cy="418.5" r="1.65"/><circle cx="548.5" cy="419.7" r="1.65"/><circle cx="560.8" cy="415.3" r="1.65"/><circle cx="569.8" cy="419.5" r="1.65"/><circle cx="571.0" cy="415.5" r="1.65"/><circle cx="541.9" cy="408.6" r="1.65"/><circle cx="564.6" cy="410.6" r="1.65"/><circle cx="559.6" cy="417.3" r="1.65"/><circle cx="557.3" cy="405.6" r="1.65"/><circle cx="578.9" cy="413.8" r="1.65"/><circle cx="557.9" cy="414.2" r="1.65"/><circle cx="553.1" cy="407.2" r="1.65"/><circle cx="536.3" cy="409.5" r="1.65"/><circle cx="555.0" cy="404.2" r="1.65"/><circle cx="545.7" cy="417.7" r="1.65"/><circle cx="558.2" cy="416.9" r="1.65"/><circle cx="555.5" cy="407.1" r="1.65"/><circle cx="542.0" cy="411.1" r="1.65"/><circle cx="540.0" cy="426.8" r="1.65"/><circle cx="534.7" cy="422.5" r="1.65"/><circle cx="553.3" cy="416.6" r="1.65"/><circle cx="551.2" cy="410.7" r="1.65"/><circle cx="548.9" cy="420.8" r="1.65"/><circle cx="543.9" cy="418.9" r="1.65"/><circle cx="555.1" cy="422.2" r="1.65"/><circle cx="545.7" cy="419.3" r="1.65"/><circle cx="555.2" cy="425.5" r="1.65"/><circle cx="557.6" cy="424.0" r="1.65"/><circle cx="564.6" cy="429.4" r="1.65"/><circle cx="541.1" cy="415.0" r="1.65"/><circle cx="548.0" cy="421.2" r="1.65"/><circle cx="549.0" cy="422.4" r="1.65"/><circle cx="581.4" cy="431.3" r="1.65"/><circle cx="559.1" cy="423.0" r="1.65"/><circle cx="553.6" cy="426.5" r="1.65"/><circle cx="543.0" cy="417.7" r="1.65"/><circle cx="558.6" cy="428.1" r="1.65"/><circle cx="553.2" cy="428.7" r="1.65"/><circle cx="583.9" cy="421.8" r="1.65"/><circle cx="533.8" cy="419.5" r="1.65"/><circle cx="559.8" cy="422.0" r="1.65"/><circle cx="555.0" cy="425.6" r="1.65"/><circle cx="551.0" cy="431.5" r="1.65"/><circle cx="567.1" cy="415.2" r="1.65"/><circle cx="558.4" cy="420.8" r="1.65"/><circle cx="538.4" cy="425.1" r="1.65"/><circle cx="537.8" cy="428.7" r="1.65"/><circle cx="558.8" cy="417.6" r="1.65"/><circle cx="552.3" cy="413.3" r="1.65"/><circle cx="561.8" cy="432.5" r="1.65"/><circle cx="548.6" cy="418.1" r="1.65"/><circle cx="554.6" cy="419.2" r="1.65"/><circle cx="534.8" cy="418.2" r="1.65"/><circle cx="540.2" cy="422.0" r="1.65"/><circle cx="575.6" cy="423.1" r="1.65"/><circle cx="550.4" cy="420.3" r="1.65"/><circle cx="543.9" cy="427.3" r="1.65"/><circle cx="563.3" cy="429.5" r="1.65"/><circle cx="539.5" cy="416.3" r="1.65"/><circle cx="539.4" cy="421.6" r="1.65"/><circle cx="564.7" cy="423.7" r="1.65"/><circle cx="541.4" cy="420.1" r="1.65"/><circle cx="542.7" cy="414.8" r="1.65"/><circle cx="576.6" cy="427.6" r="1.65"/><circle cx="559.0" cy="426.3" r="1.65"/><circle cx="556.8" cy="424.5" r="1.65"/><circle cx="542.2" cy="421.4" r="1.65"/><circle cx="535.0" cy="422.2" r="1.65"/><circle cx="551.0" cy="426.7" r="1.65"/><circle cx="562.3" cy="423.3" r="1.65"/><circle cx="548.9" cy="424.2" r="1.65"/><circle cx="550.2" cy="419.7" r="1.65"/><circle cx="549.5" cy="435.3" r="1.65"/><circle cx="519.2" cy="427.8" r="1.65"/><circle cx="539.0" cy="424.6" r="1.65"/><circle cx="538.0" cy="426.8" r="1.65"/><circle cx="566.7" cy="429.0" r="1.65"/><circle cx="561.6" cy="424.0" r="1.65"/><circle cx="566.5" cy="419.9" r="1.65"/><circle cx="553.2" cy="419.1" r="1.65"/><circle cx="555.1" cy="428.0" r="1.65"/><circle cx="558.1" cy="421.4" r="1.65"/><circle cx="551.5" cy="422.4" r="1.65"/><circle cx="548.2" cy="422.1" r="1.65"/><circle cx="550.0" cy="429.7" r="1.65"/><circle cx="550.1" cy="416.9" r="1.65"/><circle cx="561.8" cy="417.3" r="1.65"/><circle cx="553.0" cy="425.0" r="1.65"/><circle cx="541.5" cy="422.7" r="1.65"/><circle cx="563.9" cy="420.0" r="1.65"/><circle cx="560.9" cy="425.4" r="1.65"/><circle cx="554.1" cy="426.5" r="1.65"/><circle cx="561.8" cy="420.9" r="1.65"/><circle cx="546.1" cy="422.9" r="1.65"/><circle cx="528.6" cy="420.5" r="1.65"/><circle cx="544.1" cy="424.9" r="1.65"/><circle cx="559.4" cy="420.6" r="1.65"/><circle cx="545.7" cy="416.9" r="1.65"/><circle cx="574.5" cy="417.5" r="1.65"/><circle cx="566.9" cy="423.2" r="1.65"/><circle cx="567.8" cy="427.0" r="1.65"/><circle cx="540.9" cy="422.7" r="1.65"/><circle cx="555.6" cy="426.9" r="1.65"/><circle cx="571.9" cy="429.4" r="1.65"/><circle cx="530.6" cy="425.1" r="1.65"/><circle cx="570.4" cy="420.4" r="1.65"/><circle cx="556.5" cy="422.9" r="1.65"/><circle cx="558.8" cy="422.1" r="1.65"/><circle cx="553.8" cy="423.9" r="1.65"/><circle cx="535.5" cy="419.5" r="1.65"/><circle cx="548.1" cy="421.9" r="1.65"/><circle cx="558.0" cy="419.3" r="1.65"/><circle cx="544.2" cy="420.1" r="1.65"/><circle cx="561.8" cy="423.9" r="1.65"/><circle cx="552.1" cy="422.9" r="1.65"/><circle cx="541.7" cy="425.3" r="1.65"/><circle cx="540.5" cy="418.7" r="1.65"/><circle cx="544.2" cy="427.9" r="1.65"/><circle cx="554.3" cy="421.3" r="1.65"/><circle cx="548.6" cy="427.4" r="1.65"/><circle cx="557.1" cy="420.1" r="1.65"/><circle cx="535.0" cy="419.8" r="1.65"/><circle cx="533.5" cy="420.8" r="1.65"/><circle cx="547.8" cy="424.6" r="1.65"/><circle cx="560.2" cy="417.7" r="1.65"/><circle cx="574.9" cy="418.0" r="1.65"/><circle cx="559.9" cy="429.0" r="1.65"/><circle cx="548.2" cy="423.0" r="1.65"/><circle cx="546.1" cy="421.2" r="1.65"/><circle cx="549.9" cy="416.3" r="1.65"/><circle cx="550.5" cy="428.7" r="1.65"/><circle cx="547.0" cy="426.5" r="1.65"/><circle cx="560.1" cy="417.9" r="1.65"/><circle cx="563.4" cy="419.4" r="1.65"/><circle cx="545.2" cy="428.0" r="1.65"/><circle cx="543.9" cy="423.4" r="1.65"/><circle cx="548.9" cy="422.3" r="1.65"/><circle cx="563.6" cy="423.2" r="1.65"/><circle cx="570.9" cy="426.6" r="1.65"/><circle cx="559.5" cy="423.7" r="1.65"/><circle cx="563.5" cy="423.6" r="1.65"/><circle cx="547.0" cy="424.0" r="1.65"/></g><text x="0" y="0" font-size="14" fill="#111" text-anchor="middle" font-weight="normal" transform="translate(11.4 472) rotate(-90)">Human genes (Q1 CERES-score)</text><text x="0" y="0" font-size="14" fill="#111" text-anchor="middle" font-weight="normal" transform="translate(346.9 472) rotate(-90)">Human genes (Q1 CERES-score)</text><text x="75.8" y="387.4" font-size="14" fill="#111" text-anchor="start" font-weight="normal" >R<tspan font-size="8" dy="-5.3">2</tspan><tspan dy="5.3">=0.41</tspan></text><text x="417.9" y="387.4" font-size="14" fill="#111" text-anchor="start" font-weight="normal" >R<tspan font-size="8" dy="-5.3">2</tspan><tspan dy="5.3">=0.18</tspan></text>
</svg>
</body></html>
